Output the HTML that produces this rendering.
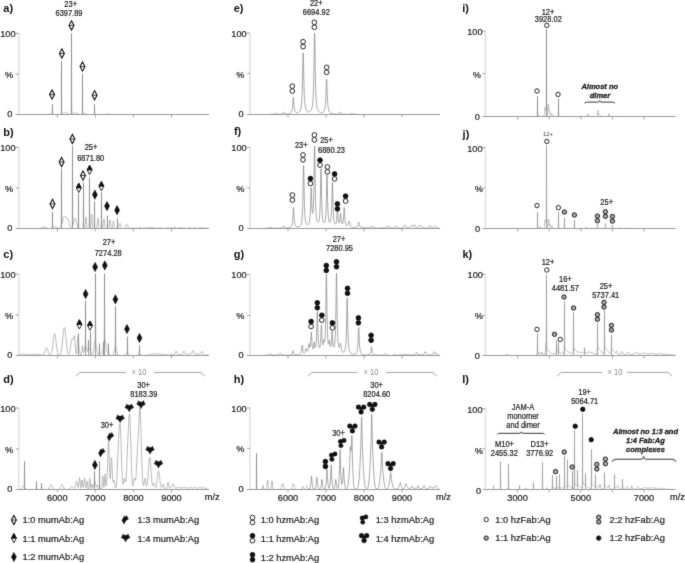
<!DOCTYPE html>
<html><head><meta charset="utf-8"><style>
html,body{margin:0;padding:0;background:#fff;}
svg{display:block;font-family:"Liberation Sans", sans-serif;will-change:transform;}
</style></head><body>
<svg width="685" height="563" viewBox="0 0 685 563">
<defs><filter id="bl" x="0" y="0" width="685" height="563" filterUnits="userSpaceOnUse" color-interpolation-filters="sRGB"><feConvolveMatrix order="3" kernelMatrix="0.0183 0.1353 0.0183 0.1353 1 0.1353 0.0183 0.1353 0.0183" divisor="1.6145" edgeMode="duplicate"/></filter></defs>
<g filter="url(#bl)">
<rect width="685" height="563" fill="#fff"/>
<line x1="18.80" y1="33.40" x2="18.80" y2="114.50" stroke="#e3e3e3" stroke-width="1.6"/>
<line x1="15.80" y1="33.40" x2="18.80" y2="33.40" stroke="#9a9a9a" stroke-width="0.9"/>
<line x1="15.80" y1="74.10" x2="18.80" y2="74.10" stroke="#9a9a9a" stroke-width="0.9"/>
<line x1="15.80" y1="114.50" x2="209.00" y2="114.50" stroke="#9c9c9c" stroke-width="1.0"/>
<line x1="57.30" y1="114.50" x2="57.30" y2="117.50" stroke="#9a9a9a" stroke-width="0.9"/>
<line x1="95.30" y1="114.50" x2="95.30" y2="117.50" stroke="#9a9a9a" stroke-width="0.9"/>
<line x1="133.40" y1="114.50" x2="133.40" y2="117.50" stroke="#9a9a9a" stroke-width="0.9"/>
<line x1="171.50" y1="114.50" x2="171.50" y2="117.50" stroke="#9a9a9a" stroke-width="0.9"/>
<text x="15.50" y="37.10" font-size="9.2" text-anchor="end" font-weight="normal" font-style="normal" fill="#1e1e1e" stroke="#1e1e1e" stroke-width="0.22">100</text>
<text x="13.10" y="78.00" font-size="9.2" text-anchor="end" font-weight="normal" font-style="normal" fill="#1e1e1e" stroke="#1e1e1e" stroke-width="0.22">%</text>
<text x="12.40" y="117.40" font-size="9.2" text-anchor="end" font-weight="normal" font-style="normal" fill="#1e1e1e" stroke="#1e1e1e" stroke-width="0.22">0</text>
<text x="3.30" y="11.60" font-size="11" text-anchor="start" font-weight="bold" font-style="normal" fill="#111">a)</text>
<polyline fill="none" stroke="#a0a0a0" stroke-width="0.75" stroke-linejoin="round" points="46.80,114.41 47.05,114.37 47.20,114.34 47.30,114.32 47.55,114.26 47.80,114.20 48.05,114.13 48.30,114.08 48.40,114.06 48.55,114.03 48.80,114.01 49.00,114.00 49.05,114.00 49.30,114.02 49.55,114.05 49.60,114.06 49.80,114.10 50.05,114.16 50.20,114.20 50.30,114.22 50.55,114.28 50.80,114.34 51.05,114.38"/>
<polyline fill="none" stroke="#a0a0a0" stroke-width="0.75" stroke-linejoin="round" points="52.05,114.48 52.20,114.37 52.30,113.11 52.35,111.18 52.40,108.31 52.45,105.50 52.50,104.30 52.55,105.50 52.60,108.31 52.65,111.19 52.70,113.12 52.80,114.38"/>
<polyline fill="none" stroke="#a0a0a0" stroke-width="0.75" stroke-linejoin="round" points="60.55,114.40 60.80,114.35 61.05,114.28 61.20,113.65 61.30,107.08 61.35,97.10 61.40,82.25 61.45,67.70 61.50,61.50 61.55,67.66 61.60,82.16 61.65,96.97 61.70,106.91 61.80,113.39 62.05,113.82 62.10,113.79 62.30,113.65 62.55,113.46 62.80,113.26 62.90,113.17 63.05,113.05 63.30,112.85 63.55,112.67 63.70,112.57 63.80,112.51 64.05,112.39 64.30,112.32 64.50,112.30 64.55,112.30 64.80,112.32 65.05,112.38 65.30,112.47 65.50,112.55 65.55,112.57 65.80,112.66 66.00,112.73 66.05,112.74 66.10,112.75 66.30,112.79 66.50,112.82 66.55,112.82 66.80,112.84 66.90,112.85 67.00,112.86 67.05,112.87 67.30,112.93 67.50,113.00 67.55,113.02 67.70,113.10 67.80,113.17 68.00,113.31 68.05,113.35 68.30,113.55 68.50,113.72 68.55,113.76 68.80,113.96 69.00,114.09 69.05,114.12 69.30,114.25 69.50,114.32 69.55,114.34 69.80,114.40"/>
<polyline fill="none" stroke="#a0a0a0" stroke-width="0.75" stroke-linejoin="round" points="70.80,114.40 71.05,114.36 71.20,113.43 71.30,103.34 71.35,87.98 71.40,65.12 71.45,42.74 71.50,33.20 71.55,42.71 71.60,65.05 71.65,87.88 71.70,103.20 71.80,113.23 72.05,114.00 72.25,113.89 72.30,113.86 72.55,113.69 72.80,113.51 73.00,113.35 73.05,113.32 73.30,113.13 73.55,112.95 73.75,112.83 73.80,112.81 74.05,112.69 74.30,112.62 74.50,112.60 74.55,112.60 74.80,112.62 75.05,112.68 75.25,112.75 75.30,112.77 75.50,112.85 75.55,112.87 75.80,112.96 76.00,113.02 76.05,113.03 76.30,113.07 76.50,113.09 76.55,113.09 76.75,113.10 76.80,113.10 77.00,113.11 77.05,113.11 77.30,113.15 77.50,113.20 77.55,113.22 77.80,113.33 78.00,113.45 78.05,113.49 78.30,113.67 78.50,113.81 78.55,113.85 78.80,114.02 79.00,114.14 79.05,114.17 79.30,114.28 79.50,114.35 79.55,114.37 79.80,114.42"/>
<polyline fill="none" stroke="#a0a0a0" stroke-width="0.75" stroke-linejoin="round" points="82.05,114.44 82.20,113.97 82.30,108.87 82.35,101.13 82.40,89.60 82.45,78.31 82.50,73.50 82.55,78.29 82.60,89.55 82.65,101.06 82.70,108.78 82.80,113.82 83.05,114.18 83.20,114.11 83.30,114.06 83.55,113.92 83.80,113.77 84.05,113.62 84.30,113.49 84.40,113.44 84.55,113.38 84.80,113.32 85.00,113.30 85.05,113.30 85.30,113.34 85.55,113.42 85.60,113.44 85.80,113.54 86.05,113.68 86.20,113.77 86.30,113.83 86.55,113.98 86.80,114.11 87.05,114.22 87.30,114.31 87.40,114.34 87.55,114.37 87.80,114.42"/>
<polyline fill="none" stroke="#a0a0a0" stroke-width="0.75" stroke-linejoin="round" points="94.20,114.39 94.30,113.12 94.35,111.19 94.40,108.31 94.45,105.50 94.50,104.30 94.55,105.50 94.60,108.31 94.65,111.19 94.70,113.12 94.80,114.39"/>
<polyline fill="none" stroke="#a0a0a0" stroke-width="0.75" stroke-linejoin="round" points="107.00,114.39 107.05,114.37 107.30,114.24 107.55,114.06 107.60,114.01 107.80,113.86 107.90,113.79 108.05,113.72 108.20,113.70 108.30,113.71 108.50,113.79 108.55,113.83 108.80,114.01 109.05,114.21 109.10,114.24 109.30,114.35 109.40,114.39"/>
<polyline fill="none" stroke="#a0a0a0" stroke-width="0.75" stroke-linejoin="round" points="120.10,114.40 120.30,114.35 120.40,114.32 120.55,114.27 120.70,114.24 120.80,114.22 121.00,114.20 121.05,114.20 121.30,114.24 121.55,114.30 121.60,114.32 121.80,114.38 121.90,114.40"/>
<polyline fill="none" stroke="#a0a0a0" stroke-width="0.75" stroke-linejoin="round" points="159.05,114.40 159.20,114.38 159.30,114.36 159.55,114.33 159.60,114.32 159.80,114.31 160.00,114.30 160.05,114.30 160.30,114.31 160.40,114.32 160.55,114.34 160.80,114.38 161.05,114.42"/>
<line x1="52.50" y1="104.80" x2="52.50" y2="114.50" stroke="#929292" stroke-width="0.9"/>
<line x1="61.50" y1="62.00" x2="61.50" y2="114.50" stroke="#929292" stroke-width="0.9"/>
<line x1="71.50" y1="33.70" x2="71.50" y2="114.50" stroke="#929292" stroke-width="0.9"/>
<line x1="82.50" y1="74.00" x2="82.50" y2="114.50" stroke="#929292" stroke-width="0.9"/>
<line x1="94.50" y1="104.80" x2="94.50" y2="114.50" stroke="#929292" stroke-width="0.9"/>
<path d="M52.10,90.00 L54.55,94.60 L52.10,99.20 L49.65,94.60 Z" fill="#fff" stroke="#111" stroke-width="1.1"/>
<line x1="49.65" y1="94.60" x2="54.55" y2="94.60" stroke="#111" stroke-width="0.8"/>
<path d="M61.90,48.80 L64.35,53.40 L61.90,58.00 L59.45,53.40 Z" fill="#fff" stroke="#111" stroke-width="1.1"/>
<line x1="59.45" y1="53.40" x2="64.35" y2="53.40" stroke="#111" stroke-width="0.8"/>
<path d="M71.50,20.80 L73.95,25.40 L71.50,30.00 L69.05,25.40 Z" fill="#fff" stroke="#111" stroke-width="1.1"/>
<line x1="69.05" y1="25.40" x2="73.95" y2="25.40" stroke="#111" stroke-width="0.8"/>
<path d="M82.50,62.00 L84.95,66.60 L82.50,71.20 L80.05,66.60 Z" fill="#fff" stroke="#111" stroke-width="1.1"/>
<line x1="80.05" y1="66.60" x2="84.95" y2="66.60" stroke="#111" stroke-width="0.8"/>
<path d="M94.60,90.60 L97.05,95.20 L94.60,99.80 L92.15,95.20 Z" fill="#fff" stroke="#111" stroke-width="1.1"/>
<line x1="92.15" y1="95.20" x2="97.05" y2="95.20" stroke="#111" stroke-width="0.8"/>
<text transform="translate(70.70,6.70) scale(0.915,1)" font-size="8.2" text-anchor="middle" font-weight="normal" font-style="normal" fill="#1e1e1e" stroke="#1e1e1e" stroke-width="0.22">23+</text>
<text transform="translate(69.00,15.60) scale(0.915,1)" font-size="8.2" text-anchor="middle" font-weight="normal" font-style="normal" fill="#1e1e1e" stroke="#1e1e1e" stroke-width="0.22">6397.89</text>
<line x1="18.80" y1="147.40" x2="18.80" y2="228.50" stroke="#e3e3e3" stroke-width="1.6"/>
<line x1="15.80" y1="147.40" x2="18.80" y2="147.40" stroke="#9a9a9a" stroke-width="0.9"/>
<line x1="15.80" y1="188.00" x2="18.80" y2="188.00" stroke="#9a9a9a" stroke-width="0.9"/>
<line x1="15.80" y1="228.50" x2="209.00" y2="228.50" stroke="#9c9c9c" stroke-width="1.0"/>
<line x1="57.30" y1="228.50" x2="57.30" y2="231.50" stroke="#9a9a9a" stroke-width="0.9"/>
<line x1="95.30" y1="228.50" x2="95.30" y2="231.50" stroke="#9a9a9a" stroke-width="0.9"/>
<line x1="133.40" y1="228.50" x2="133.40" y2="231.50" stroke="#9a9a9a" stroke-width="0.9"/>
<line x1="171.50" y1="228.50" x2="171.50" y2="231.50" stroke="#9a9a9a" stroke-width="0.9"/>
<text x="15.50" y="151.10" font-size="9.2" text-anchor="end" font-weight="normal" font-style="normal" fill="#1e1e1e" stroke="#1e1e1e" stroke-width="0.22">100</text>
<text x="13.10" y="191.90" font-size="9.2" text-anchor="end" font-weight="normal" font-style="normal" fill="#1e1e1e" stroke="#1e1e1e" stroke-width="0.22">%</text>
<text x="12.40" y="231.40" font-size="9.2" text-anchor="end" font-weight="normal" font-style="normal" fill="#1e1e1e" stroke="#1e1e1e" stroke-width="0.22">0</text>
<text x="3.30" y="135.70" font-size="11" text-anchor="start" font-weight="bold" font-style="normal" fill="#111">b)</text>
<polyline fill="none" stroke="#a0a0a0" stroke-width="0.75" stroke-linejoin="round" points="39.30,228.41 39.55,228.37 39.80,228.33 40.00,228.30 40.05,228.29 40.30,228.23 40.55,228.16 40.80,228.08 41.00,228.01 41.05,227.99 41.30,227.90 41.55,227.79 41.80,227.68 42.00,227.59 42.05,227.57 42.30,227.45 42.55,227.35 42.80,227.25 43.00,227.18 43.05,227.16 43.30,227.09 43.55,227.04 43.80,227.01 44.00,227.00 44.05,227.00 44.30,227.02 44.55,227.06 44.80,227.12 45.00,227.18 45.05,227.19 45.30,227.29 45.55,227.39 45.80,227.50 46.00,227.59 46.05,227.61 46.30,227.73 46.55,227.83 46.80,227.94 47.00,228.01 47.05,228.03 47.30,228.12 47.55,228.19 47.80,228.25 48.00,228.30 48.05,228.31 48.30,228.35 48.55,228.39"/>
<polyline fill="none" stroke="#a0a0a0" stroke-width="0.75" stroke-linejoin="round" points="51.30,228.40 51.55,228.36 51.80,228.29 52.00,228.23 52.05,228.21 52.20,227.97 52.30,225.94 52.35,222.88 52.40,218.35 52.45,213.91 52.50,212.00 52.55,213.85 52.60,218.24 52.65,222.72 52.70,225.72 52.75,227.15 52.80,227.64 53.05,227.64 53.30,227.45 53.50,227.29 53.55,227.25 53.80,227.05 54.05,226.86 54.25,226.74 54.30,226.71 54.55,226.59 54.80,226.52 55.00,226.50 55.05,226.50 55.30,226.54 55.55,226.63 55.75,226.73 55.80,226.77 56.05,226.93 56.30,227.13 56.50,227.29 56.55,227.33 56.80,227.53 57.05,227.71 57.25,227.85 57.30,227.88 57.55,228.02 57.80,228.14 58.00,228.21 58.05,228.23 58.30,228.29 58.55,228.33 58.80,228.34 59.05,228.32 59.10,228.31 59.30,228.28 59.50,228.22 59.55,228.20 59.80,228.08 60.05,227.91 60.30,227.68 60.55,227.38 60.80,227.00 60.90,226.82 61.05,226.52 61.20,225.56 61.30,218.25 61.35,207.34 61.40,191.17 61.45,175.33 61.50,168.50 61.55,175.04 61.60,190.60 61.65,206.49 61.70,217.10 61.80,223.84 62.05,223.59 62.30,222.63 62.55,221.61 62.70,220.98 62.80,220.57 63.05,219.54 63.30,218.57 63.55,217.71 63.60,217.56 63.80,216.99 64.05,216.46 64.30,216.12 64.40,216.04 64.50,216.00 64.55,215.99 64.80,216.06 65.05,216.30 65.30,216.67 65.40,216.83 65.55,217.10 65.60,217.19 65.80,217.53 66.05,217.91 66.20,218.09 66.30,218.19 66.55,218.35 66.80,218.40 67.05,218.38 67.20,218.37 67.30,218.37 67.40,218.38 67.55,218.44 67.80,218.67 68.00,219.00 68.05,219.11 68.10,219.22 68.30,219.77 68.55,220.65 68.60,220.84 68.80,221.68 69.05,222.79 69.20,223.46 69.30,223.90 69.55,224.94 69.80,225.86 69.90,226.18 70.05,226.61 70.30,227.20 70.40,227.39 70.55,227.63 70.80,227.91 71.05,228.08 71.10,228.10 71.30,228.13 71.55,228.09 71.60,228.07 71.80,227.94 72.05,227.67 72.20,226.55 72.30,216.33 72.35,200.93 72.40,178.04 72.45,155.62 72.50,146.00 72.55,155.37 72.60,177.55 72.65,200.20 72.70,215.36 72.80,225.09 73.05,225.09 73.30,224.03 73.55,222.86 73.70,222.13 73.80,221.64 74.05,220.46 74.30,219.42 74.35,219.23 74.55,218.61 74.80,218.12 75.00,218.00 75.05,218.01 75.30,218.28 75.55,218.90 75.65,219.23 75.80,219.81 76.05,220.92 76.30,222.13 76.55,223.34 76.80,224.47 76.95,225.09 77.05,225.47 77.30,226.30 77.55,226.97 77.60,227.08 77.80,227.47 78.05,227.83 78.20,227.61 78.30,223.37 78.35,216.82 78.40,207.04 78.45,197.46 78.50,193.40 78.55,197.52 78.60,207.15 78.65,216.99 78.70,223.60 78.80,227.97 78.90,228.37 79.05,228.42"/>
<polyline fill="none" stroke="#a0a0a0" stroke-width="0.75" stroke-linejoin="round" points="83.05,228.50 83.20,227.99 83.30,222.27 83.35,213.57 83.40,200.60 83.45,187.91 83.50,182.50 83.55,187.91 83.60,200.60 83.65,213.57 83.70,222.27 83.80,227.99 84.05,228.49 84.30,228.46 84.50,228.37 84.55,228.33 84.80,227.85 85.00,226.94 85.05,226.61 85.25,224.77 85.30,224.18 85.50,221.52 85.55,220.83 85.75,218.35 85.80,217.88 86.00,217.00 86.05,217.06 86.25,218.35 86.30,218.89 86.50,221.52 86.55,222.22 86.75,224.77 86.80,225.30 87.00,226.94 87.05,227.23 87.30,228.11 87.50,228.37 87.55,228.41"/>
<polyline fill="none" stroke="#a0a0a0" stroke-width="0.75" stroke-linejoin="round" points="89.05,228.50 89.20,227.93 89.30,221.60 89.35,211.94 89.40,197.57 89.45,183.49 89.50,177.50 89.55,183.49 89.60,197.56 89.65,211.94 89.70,221.59 89.80,227.91 90.05,228.38 90.10,228.34 90.30,228.01 90.55,226.90 90.60,226.54 90.80,224.47 90.85,223.79 91.05,220.58 91.10,219.71 91.30,216.39 91.35,215.70 91.55,214.07 91.60,214.00 91.80,215.11 91.85,215.70 92.05,218.83 92.10,219.71 92.30,223.06 92.35,223.79 92.55,226.12 92.60,226.54 92.80,227.69 93.05,228.28 93.10,228.34 93.30,228.46"/>
<polyline fill="none" stroke="#a0a0a0" stroke-width="0.75" stroke-linejoin="round" points="94.05,228.50 94.20,228.20 94.30,224.82 94.35,219.67 94.40,212.00 94.45,204.50 94.50,201.30 94.55,204.50 94.60,212.00 94.65,219.67 94.70,224.82 94.80,228.20 95.05,228.50"/>
<polyline fill="none" stroke="#a0a0a0" stroke-width="0.75" stroke-linejoin="round" points="96.20,228.38 96.30,228.31 96.55,227.93 96.80,227.08 97.05,225.50 97.10,225.09 97.30,223.18 97.40,222.13 97.55,220.57 97.70,219.23 97.80,218.57 98.00,218.00 98.05,218.04 98.30,219.23 98.55,221.60 98.60,222.13 98.80,224.18 98.90,225.09 99.05,226.23 99.20,227.08 99.30,227.50 99.55,228.13 99.80,228.38"/>
<polyline fill="none" stroke="#a0a0a0" stroke-width="0.75" stroke-linejoin="round" points="101.05,228.50 101.20,228.09 101.30,223.56 101.35,216.65 101.40,206.36 101.45,196.29 101.50,192.00 101.55,196.29 101.60,206.36 101.65,216.65 101.70,223.55 101.80,228.08 102.05,228.45 102.20,228.39 102.30,228.33 102.55,227.99 102.80,227.21 103.05,225.79 103.10,225.42 103.30,223.69 103.40,222.74 103.55,221.33 103.70,220.12 103.80,219.51 104.00,219.00 104.05,219.03 104.30,220.12 104.55,222.26 104.60,222.74 104.80,224.59 104.90,225.42 105.05,226.45 105.20,227.21 105.30,227.59 105.55,228.16 105.80,228.39"/>
<polyline fill="none" stroke="#a0a0a0" stroke-width="0.75" stroke-linejoin="round" points="107.05,228.50 107.20,228.36 107.30,226.77 107.35,224.34 107.40,220.74 107.45,217.20 107.50,215.70 107.55,217.20 107.60,220.73 107.65,224.34 107.70,226.76 107.80,228.35 108.05,228.46 108.20,228.41 108.30,228.35 108.55,228.04 108.80,227.35 109.05,226.07 109.10,225.74 109.30,224.20 109.40,223.34 109.55,222.08 109.70,221.00 109.80,220.46 110.00,220.00 110.05,220.03 110.30,221.00 110.55,222.92 110.60,223.34 110.80,225.01 110.90,225.74 111.05,226.66 111.20,227.34 111.30,227.68 111.55,228.16 111.70,228.26 111.80,228.27 112.05,228.07 112.30,227.48 112.55,226.36 112.60,226.06 112.80,224.70 112.90,223.95 113.05,222.84 113.20,221.88 113.30,221.41 113.50,221.00 113.55,221.03 113.80,221.88 114.05,223.57 114.10,223.95 114.30,225.42 114.40,226.07 114.55,226.88 114.70,227.48 114.80,227.78 115.05,228.23 115.30,228.42"/>
<polyline fill="none" stroke="#a0a0a0" stroke-width="0.75" stroke-linejoin="round" points="117.05,228.49 117.20,228.38 117.30,227.12 117.35,225.21 117.40,222.37 117.45,219.59 117.50,218.40 117.55,219.57 117.60,222.34 117.65,225.17 117.70,227.06 117.80,228.27 118.05,228.24 118.30,227.98 118.40,227.82 118.55,227.53 118.80,226.88 119.05,226.03 119.20,225.47 119.30,225.09 119.55,224.23 119.60,224.09 119.80,223.65 120.00,223.50 120.05,223.51 120.30,223.84 120.40,224.09 120.55,224.55 120.80,225.47 121.05,226.39 121.20,226.88 121.30,227.16 121.55,227.73 121.60,227.82 121.80,228.10 122.05,228.31 122.30,228.42"/>
<polyline fill="none" stroke="#a0a0a0" stroke-width="0.75" stroke-linejoin="round" points="124.30,228.39 124.55,228.28 124.80,228.09 124.90,227.99 125.00,227.86 125.05,227.79 125.30,227.33 125.35,227.22 125.55,226.74 125.80,226.07 126.05,225.39 126.25,224.92 126.30,224.82 126.55,224.46 126.60,224.42 126.70,224.38 126.80,224.38 127.05,224.61 127.15,224.78 127.30,225.10 127.40,225.34 127.55,225.73 127.60,225.86 127.80,226.37 128.05,226.95 128.20,227.24 128.30,227.40 128.50,227.67 128.55,227.72 128.80,227.92 129.00,228.02 129.05,228.04 129.30,228.10 129.40,228.12 129.55,228.13 129.80,228.14 130.05,228.15 130.30,228.16 130.55,228.17 130.60,228.17 130.80,228.18 131.05,228.19 131.30,228.19 131.40,228.19 131.55,228.19 131.80,228.15 132.05,228.10 132.20,228.07 132.30,228.04 132.55,227.99 132.80,227.95 133.00,227.94 133.05,227.94 133.30,227.98 133.55,228.05 133.80,228.14 134.05,228.24 134.30,228.31 134.55,228.34 134.60,228.34 134.80,228.33 135.05,228.27 135.30,228.19 135.40,228.15 135.55,228.10 135.80,228.02 136.05,227.97 136.20,227.96 136.30,227.97 136.55,228.03 136.80,228.15 137.00,228.27 137.05,228.30 137.30,228.42"/>
<polyline fill="none" stroke="#a0a0a0" stroke-width="0.75" stroke-linejoin="round" points="138.05,228.42 138.30,228.29 138.50,228.15 138.55,228.11 138.60,228.07 138.80,227.90 139.00,227.73 139.05,227.69 139.30,227.52 139.40,227.46 139.50,227.42 139.55,227.39 139.80,227.31 140.00,227.29 140.05,227.29 140.20,227.30 140.30,227.32 140.50,227.39 140.55,227.41 140.80,227.54 141.00,227.66 141.05,227.69 141.30,227.85 141.50,227.98 141.55,228.02 141.80,228.16 142.00,228.26 142.05,228.28 142.30,228.37 142.55,228.42"/>
<polyline fill="none" stroke="#a0a0a0" stroke-width="0.75" stroke-linejoin="round" points="142.80,228.42 143.00,228.36 143.05,228.34 143.30,228.21 143.40,228.15 143.55,228.07 143.80,227.94 144.05,227.87 144.20,227.86 144.30,227.86 144.55,227.91 144.80,227.99 145.00,228.07 145.05,228.09 145.30,228.19 145.55,228.26 145.80,228.29 146.05,228.26 146.30,228.18 146.55,228.07 146.60,228.05 146.80,227.95 147.00,227.87 147.05,227.86 147.30,227.80 147.40,227.79 147.55,227.77 147.80,227.72 148.00,227.66 148.05,227.65 148.20,227.59 148.30,227.55 148.50,227.45 148.55,227.43 148.80,227.31 149.00,227.22 149.05,227.20 149.30,227.16 149.50,227.18 149.55,227.20 149.80,227.31 150.00,227.43 150.05,227.46 150.30,227.62 150.50,227.72 150.55,227.74 150.60,227.76 150.80,227.81 151.00,227.83 151.05,227.83 151.30,227.79 151.40,227.76 151.50,227.74 151.55,227.72 151.80,227.66 152.00,227.64 152.05,227.63 152.20,227.64 152.30,227.66 152.55,227.69 152.80,227.72 153.00,227.74 153.05,227.75 153.30,227.77 153.55,227.79 153.80,227.79 154.05,227.80 154.30,227.82 154.55,227.86 154.60,227.86 154.80,227.89 155.05,227.92 155.30,227.93 155.40,227.93 155.55,227.95 155.80,228.03 156.05,228.16 156.20,228.25 156.30,228.32 156.55,228.46"/>
<polyline fill="none" stroke="#a0a0a0" stroke-width="0.75" stroke-linejoin="round" points="157.55,228.46 157.80,228.36 158.05,228.26 158.30,228.18 158.55,228.14 158.60,228.14 158.80,228.14 159.05,228.11 159.30,228.07 159.40,228.06 159.55,228.03 159.80,228.00 160.05,227.98 160.20,227.97 160.30,227.98 160.55,228.01 160.80,228.08 161.00,228.14 161.05,228.15 161.30,228.23 161.55,228.28 161.80,228.30 162.05,228.31 162.30,228.32 162.55,228.34 162.60,228.34 162.80,228.35 163.05,228.37 163.30,228.37 163.40,228.38 163.55,228.37 163.80,228.36 164.05,228.35 164.20,228.33 164.30,228.32 164.55,228.31 164.80,228.29 165.00,228.29 165.05,228.29 165.30,228.29 165.55,228.30 165.80,228.32 166.05,228.33 166.30,228.34 166.55,228.34 166.60,228.34 166.80,228.32 167.05,228.24 167.30,228.13 167.40,228.08 167.55,228.00 167.80,227.89 168.05,227.82 168.20,227.81 168.30,227.82 168.55,227.86 168.80,227.95 169.00,228.03 169.05,228.05 169.30,228.15 169.55,228.23 169.80,228.25 170.05,228.25 170.30,228.24 170.55,228.22 170.60,228.21 170.80,228.20 171.05,228.19 171.30,228.18 171.40,228.18 171.55,228.17 171.80,228.14 172.00,228.10 172.05,228.09 172.20,228.05 172.30,228.02 172.55,227.96 172.80,227.89 173.00,227.85 173.05,227.84 173.30,227.74 173.50,227.63 173.55,227.60 173.80,227.41 174.00,227.26 174.05,227.22 174.30,227.05 174.50,226.95 174.55,226.93 174.60,226.91 174.80,226.89 175.00,226.95 175.05,226.97 175.30,227.15 175.40,227.24 175.50,227.34 175.55,227.39 175.80,227.63 176.00,227.80 176.05,227.83 176.20,227.92 176.30,227.97 176.50,228.07 176.55,228.09 176.80,228.23 177.00,228.32 177.05,228.35 177.30,228.44"/>
<polyline fill="none" stroke="#a0a0a0" stroke-width="0.75" stroke-linejoin="round" points="178.05,228.49 178.30,228.35 178.55,228.14 178.60,228.09 178.80,227.91 179.05,227.73 179.30,227.63 179.40,227.63 179.55,227.63 179.80,227.65 180.05,227.68 180.20,227.70 180.30,227.71 180.55,227.74 180.80,227.76 181.00,227.77 181.05,227.77 181.30,227.77 181.55,227.78 181.80,227.79 182.05,227.80 182.30,227.81 182.55,227.81 182.60,227.81 182.80,227.82 183.05,227.86 183.30,227.92 183.40,227.94 183.55,227.98 183.80,228.04 184.05,228.07 184.20,228.08 184.30,228.08 184.55,228.11 184.80,228.17 185.00,228.22 185.05,228.24 185.30,228.30 185.55,228.35 185.80,228.37 186.05,228.37 186.30,228.38"/>
<polyline fill="none" stroke="#a0a0a0" stroke-width="0.75" stroke-linejoin="round" points="187.55,228.40 187.80,228.35 188.00,228.29 188.05,228.27 188.20,228.21 188.30,228.17 188.50,228.07 188.55,228.04 188.80,227.91 189.00,227.81 189.05,227.79 189.30,227.66 189.50,227.55 189.55,227.53 189.80,227.43 190.00,227.39 190.05,227.38 190.30,227.39 190.50,227.43 190.55,227.45 190.60,227.47 190.80,227.57 191.00,227.71 191.05,227.75 191.30,227.95 191.40,228.04 191.50,228.12 191.55,228.15 191.80,228.32 192.00,228.41"/>
<polyline fill="none" stroke="#a0a0a0" stroke-width="0.75" stroke-linejoin="round" points="192.55,228.43 192.80,228.32 193.00,228.21 193.05,228.18 193.30,228.04 193.55,227.94 193.80,227.90 194.05,227.90 194.30,227.89 194.55,227.89 194.60,227.89 194.80,227.88 195.05,227.88 195.30,227.87 195.40,227.87 195.55,227.89 195.80,227.98 196.05,228.13 196.20,228.23 196.30,228.30 196.55,228.46"/>
<polyline fill="none" stroke="#a0a0a0" stroke-width="0.75" stroke-linejoin="round" points="197.30,228.52 197.55,228.37 197.80,228.17 198.05,227.98 198.30,227.83 198.55,227.76 198.60,227.76 198.80,227.77 199.05,227.82 199.30,227.90 199.40,227.93 199.55,227.98 199.80,228.06 200.05,228.10 200.20,228.11 200.30,228.10 200.55,228.06 200.80,227.98 201.00,227.89 201.05,227.87 201.30,227.78 201.55,227.71 201.80,227.68 202.05,227.71 202.30,227.78 202.55,227.88 202.60,227.90 202.80,227.99 203.05,228.07 203.30,228.12 203.40,228.12 203.55,228.12 203.80,228.08 204.05,228.01 204.20,227.96 204.30,227.93 204.55,227.86 204.80,227.82 205.00,227.80 205.05,227.81 205.30,227.83 205.55,227.89 205.80,227.97 206.05,228.07 206.30,228.17 206.55,228.24 206.60,228.25 206.80,228.28 207.05,228.32 207.30,228.35 207.40,228.37 207.55,228.40"/>
<line x1="52.50" y1="212.50" x2="52.50" y2="228.50" stroke="#929292" stroke-width="0.9"/>
<line x1="61.50" y1="169.00" x2="61.50" y2="228.50" stroke="#929292" stroke-width="0.9"/>
<line x1="72.50" y1="146.50" x2="72.50" y2="228.50" stroke="#929292" stroke-width="0.9"/>
<line x1="78.50" y1="193.90" x2="78.50" y2="228.50" stroke="#929292" stroke-width="0.9"/>
<line x1="83.50" y1="183.00" x2="83.50" y2="228.50" stroke="#929292" stroke-width="0.9"/>
<line x1="89.50" y1="178.00" x2="89.50" y2="228.50" stroke="#929292" stroke-width="0.9"/>
<line x1="94.50" y1="201.80" x2="94.50" y2="228.50" stroke="#929292" stroke-width="0.9"/>
<line x1="101.50" y1="192.50" x2="101.50" y2="228.50" stroke="#929292" stroke-width="0.9"/>
<line x1="107.50" y1="216.20" x2="107.50" y2="228.50" stroke="#929292" stroke-width="0.9"/>
<line x1="117.50" y1="218.90" x2="117.50" y2="228.50" stroke="#929292" stroke-width="0.9"/>
<path d="M52.50,199.30 L54.95,203.90 L52.50,208.50 L50.05,203.90 Z" fill="#fff" stroke="#111" stroke-width="1.1"/>
<line x1="50.05" y1="203.90" x2="54.95" y2="203.90" stroke="#111" stroke-width="0.8"/>
<path d="M61.60,157.40 L64.05,162.00 L61.60,166.60 L59.15,162.00 Z" fill="#fff" stroke="#111" stroke-width="1.1"/>
<line x1="59.15" y1="162.00" x2="64.05" y2="162.00" stroke="#111" stroke-width="0.8"/>
<path d="M72.40,134.40 L74.85,139.00 L72.40,143.60 L69.95,139.00 Z" fill="#fff" stroke="#111" stroke-width="1.1"/>
<line x1="69.95" y1="139.00" x2="74.85" y2="139.00" stroke="#111" stroke-width="0.8"/>
<path d="M83.00,171.00 L85.45,175.60 L83.00,180.20 L80.55,175.60 Z" fill="#fff" stroke="#111" stroke-width="1.1"/>
<line x1="80.55" y1="175.60" x2="85.45" y2="175.60" stroke="#111" stroke-width="0.8"/>
<path d="M78.80,183.30 L81.25,187.90 L78.80,192.50 L76.35,187.90 Z" fill="#fff" stroke="#111" stroke-width="0.9"/>
<path d="M78.80,183.30 L81.25,187.90 L76.35,187.90 Z" fill="#111" stroke="#111" stroke-width="0.9"/>
<path d="M89.60,165.40 L92.05,170.00 L89.60,174.60 L87.15,170.00 Z" fill="#fff" stroke="#111" stroke-width="0.9"/>
<path d="M89.60,165.40 L92.05,170.00 L87.15,170.00 Z" fill="#111" stroke="#111" stroke-width="0.9"/>
<path d="M101.40,181.60 L103.85,186.20 L101.40,190.80 L98.95,186.20 Z" fill="#fff" stroke="#111" stroke-width="0.9"/>
<path d="M101.40,181.60 L103.85,186.20 L98.95,186.20 Z" fill="#111" stroke="#111" stroke-width="0.9"/>
<path d="M94.90,190.10 L97.35,194.70 L94.90,199.30 L92.45,194.70 Z" fill="#111" stroke="#111" stroke-width="0.6"/>
<path d="M107.00,201.50 L109.45,206.10 L107.00,210.70 L104.55,206.10 Z" fill="#111" stroke="#111" stroke-width="0.6"/>
<path d="M117.10,205.60 L119.55,210.20 L117.10,214.80 L114.65,210.20 Z" fill="#111" stroke="#111" stroke-width="0.6"/>
<text transform="translate(91.00,149.80) scale(0.915,1)" font-size="8.2" text-anchor="middle" font-weight="normal" font-style="normal" fill="#1e1e1e" stroke="#1e1e1e" stroke-width="0.22">25+</text>
<text transform="translate(90.70,161.20) scale(0.915,1)" font-size="8.2" text-anchor="middle" font-weight="normal" font-style="normal" fill="#1e1e1e" stroke="#1e1e1e" stroke-width="0.22">6871.80</text>
<line x1="18.80" y1="274.00" x2="18.80" y2="355.50" stroke="#e3e3e3" stroke-width="1.6"/>
<line x1="15.80" y1="274.00" x2="18.80" y2="274.00" stroke="#9a9a9a" stroke-width="0.9"/>
<line x1="15.80" y1="315.00" x2="18.80" y2="315.00" stroke="#9a9a9a" stroke-width="0.9"/>
<line x1="15.80" y1="355.50" x2="209.00" y2="355.50" stroke="#9c9c9c" stroke-width="1.0"/>
<line x1="57.30" y1="355.50" x2="57.30" y2="358.50" stroke="#9a9a9a" stroke-width="0.9"/>
<line x1="95.30" y1="355.50" x2="95.30" y2="358.50" stroke="#9a9a9a" stroke-width="0.9"/>
<line x1="133.40" y1="355.50" x2="133.40" y2="358.50" stroke="#9a9a9a" stroke-width="0.9"/>
<line x1="171.50" y1="355.50" x2="171.50" y2="358.50" stroke="#9a9a9a" stroke-width="0.9"/>
<text x="15.50" y="277.70" font-size="9.2" text-anchor="end" font-weight="normal" font-style="normal" fill="#1e1e1e" stroke="#1e1e1e" stroke-width="0.22">100</text>
<text x="13.10" y="318.90" font-size="9.2" text-anchor="end" font-weight="normal" font-style="normal" fill="#1e1e1e" stroke="#1e1e1e" stroke-width="0.22">%</text>
<text x="12.40" y="358.40" font-size="9.2" text-anchor="end" font-weight="normal" font-style="normal" fill="#1e1e1e" stroke="#1e1e1e" stroke-width="0.22">0</text>
<text x="3.30" y="258.40" font-size="11" text-anchor="start" font-weight="bold" font-style="normal" fill="#111">c)</text>
<polyline fill="none" stroke="#a0a0a0" stroke-width="0.75" stroke-linejoin="round" points="18.80,354.64 19.00,354.59 19.05,354.58 19.30,354.53 19.55,354.47 19.80,354.42 20.05,354.36 20.30,354.31 20.55,354.26 20.80,354.22 21.00,354.18 21.05,354.17 21.30,354.13 21.55,354.10 21.80,354.07 22.05,354.05 22.30,354.03 22.55,354.01 22.80,354.00 23.00,354.00 23.05,354.00 23.30,354.00 23.55,354.01 23.80,354.02 24.00,354.04 24.05,354.04 24.30,354.07 24.55,354.09 24.80,354.12 25.00,354.15 25.05,354.16 25.30,354.20 25.55,354.24 25.80,354.28 26.05,354.32 26.30,354.37 26.55,354.41 26.80,354.46 27.00,354.49 27.05,354.50 27.30,354.54 27.55,354.58 27.80,354.62 28.00,354.64 28.05,354.65 28.30,354.68 28.55,354.70 28.80,354.72 29.00,354.74 29.05,354.74 29.30,354.75 29.55,354.76 29.80,354.76 30.00,354.76 30.05,354.76 30.30,354.75 30.55,354.74 30.80,354.72 31.00,354.71 31.05,354.70 31.30,354.68 31.55,354.65 31.80,354.62 32.00,354.60 32.05,354.59 32.30,354.56 32.55,354.52 32.80,354.49 33.05,354.45 33.30,354.42 33.55,354.38 33.80,354.35 34.00,354.33 34.05,354.32 34.30,354.29 34.55,354.27 34.80,354.25 35.00,354.23 35.05,354.23 35.30,354.21 35.55,354.20 35.80,354.20 36.00,354.20 36.05,354.20 36.30,354.21 36.55,354.21 36.80,354.23 37.05,354.25 37.30,354.27 37.55,354.30 37.80,354.33 38.00,354.36 38.05,354.36 38.30,354.40 38.55,354.44 38.80,354.49 39.05,354.53 39.30,354.58 39.55,354.63 39.80,354.68 40.00,354.71 40.05,354.72 40.30,354.77 40.55,354.82 40.80,354.87 41.05,354.91 41.30,354.96 41.55,355.00 41.80,355.04 42.00,355.06 42.05,355.07 42.30,355.09 42.55,355.10 42.70,355.09 42.80,355.08 43.05,355.03 43.30,354.93 43.55,354.77 43.80,354.52 44.00,354.24 44.05,354.16 44.30,353.68 44.55,353.07 44.65,352.79 44.80,352.33 45.05,351.49 45.30,350.58 45.55,349.68 45.80,348.85 45.95,348.42 46.00,348.29 46.05,348.17 46.30,347.70 46.55,347.50 46.60,347.50 46.80,347.60 47.05,347.97 47.25,348.45 47.30,348.59 47.55,349.38 47.80,350.28 47.90,350.65 48.00,351.02 48.05,351.21 48.30,352.09 48.55,352.89 48.80,353.57 49.05,354.11 49.20,354.37 49.30,354.52 49.55,354.80 49.80,354.97 50.05,355.03 50.10,355.03 50.30,354.99 50.50,354.87 50.55,354.83 50.80,354.56 51.05,354.13 51.30,353.53 51.55,352.71 51.60,352.52 51.80,351.65 52.00,350.61 52.05,350.32 52.30,348.73 52.35,348.38 52.55,346.88 52.80,344.83 53.05,342.65 53.10,342.21 53.30,340.45 53.55,338.36 53.80,336.50 53.85,336.17 54.05,335.02 54.30,334.03 54.55,333.61 54.60,333.60 54.80,333.79 55.05,334.56 55.30,335.86 55.35,336.17 55.55,337.57 55.80,339.59 56.05,341.76 56.10,342.20 56.30,343.96 56.55,346.08 56.80,348.01 56.85,348.37 57.05,349.71 57.30,351.14 57.55,352.30 57.60,352.51 57.80,353.22 58.00,353.78 58.05,353.91 58.30,354.41 58.55,354.75 58.80,354.97 59.05,355.09 59.10,355.11 59.30,355.13 59.55,355.09 59.60,355.07 59.80,354.96 60.05,354.74 60.30,354.40 60.55,353.91 60.80,353.23 61.05,352.34 61.20,351.68 61.30,351.18 61.55,349.74 61.80,347.99 62.00,346.38 62.05,345.95 62.30,343.65 62.55,341.13 62.80,338.50 63.05,335.88 63.30,333.39 63.55,331.18 63.60,330.79 63.80,329.40 64.00,328.36 64.05,328.16 64.30,327.55 64.40,327.50 64.55,327.62 64.80,328.36 65.05,329.71 65.20,330.78 65.30,331.59 65.55,333.86 65.80,336.39 66.00,338.50 66.05,339.03 66.30,341.64 66.55,344.12 66.80,346.37 67.05,348.35 67.30,350.02 67.55,351.38 67.60,351.61 67.80,352.44 68.05,353.22 68.10,353.34 68.30,353.73 68.55,354.00 68.80,354.03 69.05,353.80 69.20,353.54 69.30,353.31 69.40,353.04 69.55,352.54 69.80,351.47 70.00,350.41 70.05,350.11 70.30,348.50 70.55,346.70 70.70,345.57 70.80,344.82 71.05,342.99 71.30,341.37 71.35,341.08 71.55,340.10 71.80,339.29 72.00,339.00 72.05,338.97 72.30,339.09 72.55,339.44 72.65,339.59 72.80,339.76 73.05,339.74 73.20,339.47 73.30,339.18 73.55,338.08 73.60,337.82 73.80,336.77 73.95,336.09 74.00,335.92 74.05,335.77 74.30,335.69 74.40,336.00 74.55,336.87 74.60,337.26 74.80,339.29 75.05,342.55 75.20,344.65 75.30,346.02 75.55,349.14 75.60,349.69 75.80,351.55 75.90,352.27 76.00,352.86 76.05,353.10 76.20,353.63 76.30,353.81 76.55,353.60 76.80,352.27 77.05,349.57 77.10,348.86 77.30,345.55 77.40,343.72 77.55,340.98 77.70,338.56 77.80,337.31 78.00,336.00 78.05,335.96 78.20,336.44 78.30,336.50 78.35,335.81 78.40,334.58 78.45,333.44 78.50,333.40 78.55,334.95 78.60,337.57 78.65,340.24 78.70,342.29 78.80,344.66 78.90,346.17 79.05,348.04 79.20,349.52 79.30,350.30 79.55,351.73 79.80,352.65 80.05,353.33 80.30,353.88 80.55,354.33 80.80,354.67 81.00,354.82 81.05,354.83 81.30,354.61 81.50,353.94 81.55,353.67 81.75,352.16 81.80,351.68 82.00,349.44 82.05,348.85 82.25,346.72 82.30,346.32 82.50,345.50 82.55,345.53 82.75,346.50 82.80,346.92 83.00,348.93 83.05,349.46 83.25,351.29 83.30,351.64 83.50,352.55 83.55,352.65 83.80,352.54 84.00,351.92 84.05,351.72 84.30,350.53 84.55,349.19 84.80,347.86 85.05,346.72 85.20,345.68 85.30,339.81 85.35,331.16 85.40,318.36 85.45,305.85 85.50,300.50 85.55,305.76 85.60,318.18 85.65,330.89 85.70,339.44 85.80,345.14 86.05,346.20 86.30,347.11 86.55,348.21 86.80,349.32 87.05,350.29 87.30,351.02 87.55,351.43 87.80,351.55 88.00,351.45 88.05,351.40 88.20,351.09 88.30,349.61 88.35,347.50 88.40,344.39 88.45,341.35 88.50,340.00 88.55,341.17 88.60,344.03 88.65,346.96 88.70,348.89 88.80,350.04 89.05,349.77 89.30,349.50 89.55,349.41 89.80,349.52 90.05,349.83 90.20,349.90 90.30,347.71 90.35,344.17 90.40,338.85 90.45,333.64 90.50,331.50 90.55,333.91 90.60,339.38 90.65,344.98 90.70,348.78 90.80,351.48 91.05,352.43 91.30,353.11 91.55,353.70 91.80,354.15 92.00,354.39 92.05,354.43 92.30,354.50 92.55,354.35 92.80,353.92 93.05,353.18 93.30,352.09 93.55,350.64 93.80,348.88 94.00,347.31 94.05,346.90 94.30,344.89 94.55,343.06 94.80,341.64 95.05,340.83 95.20,339.94 95.30,331.59 95.35,318.84 95.40,299.85 95.45,281.30 95.50,273.50 95.55,281.65 95.60,300.55 95.65,319.89 95.70,332.97 95.80,341.98 96.00,344.12 96.05,344.50 96.30,346.49 96.55,348.48 96.80,350.28 97.05,351.79 97.30,352.93 97.55,353.72 97.80,354.20 98.05,354.41 98.30,354.42 98.55,354.29 98.80,354.07 99.05,353.81 99.20,353.55 99.30,352.22 99.35,350.30 99.40,347.47 99.45,344.70 99.50,343.50 99.55,344.63 99.60,347.33 99.65,350.10 99.70,351.95 99.80,353.15 100.00,353.23 100.05,353.24 100.30,353.30 100.55,353.42 100.80,353.55 101.05,353.64 101.30,353.65 101.55,353.55 101.80,353.30 102.05,352.88 102.30,352.29 102.55,351.51 102.80,350.52 103.05,349.31 103.20,348.42 103.30,347.19 103.35,345.92 103.40,344.16 103.45,342.43 103.50,341.50 103.55,341.77 103.60,342.84 103.65,343.93 103.70,344.56 103.80,344.51 104.00,343.22 104.05,342.90 104.20,341.26 104.30,332.39 104.35,319.44 104.40,300.30 104.45,281.57 104.50,273.50 104.55,281.23 104.60,299.62 104.65,318.44 104.70,331.07 104.80,339.32 105.05,340.33 105.30,341.25 105.55,342.71 105.80,344.51 106.00,346.03 106.05,346.41 106.30,348.21 106.55,349.75 106.80,350.95 107.05,351.79 107.30,352.34 107.55,352.67 107.80,352.89 108.00,353.03 108.05,353.07 108.20,353.07 108.30,351.92 108.35,350.08 108.40,347.32 108.45,344.62 108.50,343.50 108.55,344.72 108.60,347.52 108.65,350.38 108.70,352.32 108.80,353.68 109.05,354.09 109.30,354.39 109.55,354.67 109.80,354.91 110.05,355.10 110.30,355.23 110.55,355.33 110.80,355.39"/>
<polyline fill="none" stroke="#a0a0a0" stroke-width="0.75" stroke-linejoin="round" points="112.05,355.40 112.30,355.32 112.55,355.17 112.80,354.94 113.05,354.58 113.30,354.05 113.55,353.32 113.80,352.40 114.05,351.29 114.30,350.09 114.55,348.88 114.80,347.81 115.05,347.02 115.20,346.28 115.30,341.12 115.35,333.40 115.40,321.95 115.45,310.75 115.50,306.00 115.55,310.82 115.60,322.09 115.65,333.62 115.70,341.41 115.80,346.70 116.00,347.81 116.05,348.01 116.30,349.12 116.55,350.34 116.80,351.53 117.05,352.60 117.30,353.49 117.55,354.18 117.80,354.67 118.05,355.01 118.30,355.22 118.55,355.35 118.80,355.42"/>
<polyline fill="none" stroke="#a0a0a0" stroke-width="0.75" stroke-linejoin="round" points="124.05,355.41 124.30,355.33 124.55,355.21 124.80,355.04 125.05,354.79 125.30,354.46 125.55,354.07 125.80,353.61 126.05,353.14 126.30,352.71 126.55,352.35 126.80,352.14 127.05,352.08 127.20,351.96 127.30,350.05 127.35,347.08 127.40,342.65 127.45,338.31 127.50,336.50 127.55,338.44 127.60,342.90 127.65,347.46 127.70,350.55 127.80,352.70 128.05,353.33 128.30,353.80 128.55,354.23 128.80,354.60 129.05,354.90 129.30,355.12 129.55,355.27 129.80,355.37 130.05,355.43"/>
<polyline fill="none" stroke="#a0a0a0" stroke-width="0.75" stroke-linejoin="round" points="136.80,355.41 137.05,355.34 137.30,355.24 137.55,355.11 137.80,354.93 138.05,354.71 138.30,354.46 138.55,354.20 138.80,353.96 139.05,353.76 139.20,353.58 139.30,352.48 139.35,350.83 139.40,348.40 139.45,346.01 139.50,345.00 139.55,346.01 139.60,348.40 139.65,350.83 139.70,352.48 139.80,353.58 140.05,353.83 140.30,354.05 140.55,354.30 140.80,354.56 141.05,354.80 141.30,355.00 141.55,355.17 141.80,355.29 142.05,355.37 142.30,355.42"/>
<polyline fill="none" stroke="#a0a0a0" stroke-width="0.75" stroke-linejoin="round" points="145.05,355.47 145.30,355.37 145.55,355.32 145.80,355.33 146.05,355.40"/>
<polyline fill="none" stroke="#a0a0a0" stroke-width="0.75" stroke-linejoin="round" points="147.05,355.42 147.30,355.26 147.40,355.19 147.55,355.08 147.80,354.92 148.05,354.83 148.20,354.81 148.30,354.81 148.55,354.86 148.80,354.97 149.00,355.07 149.05,355.10 149.30,355.22 149.55,355.31 149.80,355.32 150.00,355.28 150.05,355.26 150.30,355.09 150.55,354.86 150.60,354.81 150.80,354.60 151.00,354.40 151.05,354.36 151.30,354.15 151.40,354.09 151.50,354.04 151.55,354.01 151.80,353.96 152.00,353.96 152.05,353.96 152.20,353.99 152.30,354.01 152.50,354.05 152.55,354.06 152.80,354.09 153.00,354.08 153.05,354.08 153.30,354.03 153.50,353.98 153.55,353.97 153.80,353.90 154.00,353.85 154.05,353.84 154.30,353.83 154.50,353.87 154.55,353.89 154.60,353.91 154.80,353.99 155.00,354.06 155.05,354.08 155.30,354.15 155.40,354.18 155.55,354.21 155.80,354.25 156.00,354.26 156.05,354.26 156.20,354.25 156.30,354.24 156.55,354.20 156.80,354.15 157.00,354.09 157.05,354.08 157.30,354.02 157.50,353.98 157.55,353.97 157.80,353.94 158.05,353.91 158.30,353.87 158.55,353.83 158.60,353.82 158.80,353.78 159.05,353.74 159.30,353.72 159.40,353.71 159.55,353.72 159.80,353.81 160.00,353.93 160.05,353.97 160.20,354.08 160.30,354.15 160.55,354.32 160.80,354.43 161.00,354.47 161.05,354.47 161.30,354.47 161.55,354.46 161.80,354.44 162.05,354.43 162.30,354.43 162.50,354.43 162.55,354.43 162.60,354.44 162.80,354.44 163.05,354.40 163.30,354.34 163.40,354.31 163.55,354.26 163.80,354.21 164.05,354.18 164.20,354.18 164.30,354.20 164.55,354.26 164.80,354.37 165.00,354.46 165.05,354.49 165.30,354.61 165.55,354.70 165.80,354.74 166.00,354.76 166.05,354.76 166.30,354.78 166.55,354.80 166.60,354.81 166.80,354.82 167.05,354.84 167.30,354.86 167.40,354.87 167.50,354.87 167.55,354.87 167.80,354.89 168.05,354.91 168.20,354.92 168.30,354.93 168.55,354.95 168.80,354.96 169.00,354.97 169.05,354.96 169.30,354.92 169.55,354.81 169.80,354.67 170.00,354.55 170.05,354.52 170.30,354.41 170.55,354.36 170.60,354.35 170.80,354.35 171.05,354.35 171.30,354.34 171.40,354.34 171.55,354.34 171.80,354.33 172.00,354.32 172.05,354.32 172.20,354.32 172.30,354.31 172.55,354.32 172.80,354.32 173.00,354.33 173.05,354.33 173.30,354.34 173.55,354.35 173.80,354.34 174.05,354.35 174.20,354.37 174.30,354.39 174.55,354.38 174.60,354.37 174.80,354.23 175.00,353.92 175.05,353.81 175.10,353.69 175.30,353.10 175.40,352.76 175.55,352.23 175.70,351.74 175.80,351.47 176.00,351.16 176.05,351.14 176.20,351.20 176.30,351.35 176.55,351.95 176.60,352.10 176.80,352.68 176.90,352.96 177.00,353.20 177.05,353.32 177.20,353.60 177.30,353.75 177.55,354.02 177.80,354.19 178.00,354.28 178.05,354.30 178.30,354.37 178.55,354.39 178.60,354.39 178.80,354.39 179.05,354.41 179.30,354.46 179.40,354.48 179.55,354.52 179.80,354.56 180.05,354.58 180.20,354.58 180.30,354.57 180.55,354.54 180.80,354.48 181.00,354.43 181.05,354.41 181.30,354.35 181.55,354.29 181.80,354.25 181.90,354.23 182.05,354.20 182.30,354.09 182.55,353.88 182.60,353.82 182.80,353.51 182.95,353.20 183.05,352.96 183.30,352.28 183.40,352.00 183.55,351.61 183.65,351.39 183.80,351.17 184.00,351.09 184.05,351.11 184.20,351.27 184.30,351.46 184.35,351.57 184.55,352.09 184.70,352.54 184.80,352.83 185.00,353.35 185.05,353.46 185.30,353.89 185.40,353.99 185.55,354.09 185.80,354.13 186.05,354.08 186.10,354.06 186.30,354.01 186.55,353.98 186.60,353.98 186.80,353.98 187.05,354.01 187.30,354.05 187.40,354.06 187.55,354.09 187.80,354.13 188.05,354.15 188.20,354.15 188.30,354.15 188.55,354.12 188.80,354.08 189.00,354.04 189.05,354.03 189.30,353.98 189.55,353.94 189.80,353.93 190.00,353.92 190.05,353.91 190.30,353.85 190.55,353.76 190.60,353.74 190.80,353.66 190.90,353.62 191.05,353.54 191.30,353.40 191.40,353.33 191.55,353.18 191.60,353.13 191.80,352.83 191.95,352.54 192.05,352.32 192.20,351.94 192.30,351.68 192.55,351.03 192.65,350.82 192.80,350.58 193.00,350.45 193.05,350.46 193.30,350.78 193.35,350.89 193.55,351.44 193.70,351.92 193.80,352.24 194.05,352.98 194.30,353.53 194.40,353.69 194.55,353.88 194.60,353.92 194.80,354.04 195.05,354.06 195.10,354.05 195.30,354.00 195.40,353.96 195.55,353.91 195.80,353.82 196.00,353.78 196.05,353.78 196.20,353.77 196.30,353.78 196.55,353.77 196.80,353.76 197.00,353.74 197.05,353.74 197.30,353.72 197.55,353.71 197.80,353.71 198.05,353.76 198.30,353.85 198.55,353.98 198.60,354.01 198.80,354.11 199.05,354.22 199.30,354.29 199.40,354.30 199.55,354.29 199.80,354.23 199.90,354.19 200.05,354.11 200.20,353.99 200.30,353.90 200.55,353.60 200.60,353.53 200.80,353.17 200.95,352.85 201.00,352.73 201.05,352.61 201.30,352.01 201.55,351.50 201.65,351.36 201.80,351.24 202.00,351.30 202.05,351.35 202.30,351.81 202.35,351.94 202.55,352.49 202.60,352.64 202.70,352.93 202.80,353.22 203.05,353.87 203.30,354.34 203.40,354.48 203.55,354.63 203.80,354.79 204.05,354.86 204.10,354.87 204.20,354.89 204.30,354.90 204.55,354.92 204.80,354.93 205.00,354.94 205.05,354.94 205.30,354.95 205.55,354.95 205.80,354.97 206.05,354.94 206.30,354.86 206.55,354.77 206.60,354.76 206.80,354.73 207.05,354.74 207.30,354.82 207.40,354.86 207.55,354.94 207.80,355.05 208.00,355.14 208.05,355.15 208.30,355.16 208.55,355.17 208.80,355.18"/>
<line x1="78.50" y1="333.90" x2="78.50" y2="355.50" stroke="#929292" stroke-width="0.9"/>
<line x1="85.50" y1="301.00" x2="85.50" y2="355.50" stroke="#929292" stroke-width="0.9"/>
<line x1="88.50" y1="340.50" x2="88.50" y2="355.50" stroke="#929292" stroke-width="0.9"/>
<line x1="90.50" y1="332.00" x2="90.50" y2="355.50" stroke="#929292" stroke-width="0.9"/>
<line x1="95.50" y1="274.00" x2="95.50" y2="355.50" stroke="#929292" stroke-width="0.9"/>
<line x1="99.50" y1="344.00" x2="99.50" y2="355.50" stroke="#929292" stroke-width="0.9"/>
<line x1="103.50" y1="342.00" x2="103.50" y2="355.50" stroke="#929292" stroke-width="0.9"/>
<line x1="104.50" y1="274.00" x2="104.50" y2="355.50" stroke="#929292" stroke-width="0.9"/>
<line x1="108.50" y1="344.00" x2="108.50" y2="355.50" stroke="#929292" stroke-width="0.9"/>
<line x1="115.50" y1="306.50" x2="115.50" y2="355.50" stroke="#929292" stroke-width="0.9"/>
<line x1="127.50" y1="337.00" x2="127.50" y2="355.50" stroke="#929292" stroke-width="0.9"/>
<line x1="139.50" y1="345.50" x2="139.50" y2="355.50" stroke="#929292" stroke-width="0.9"/>
<path d="M79.40,319.80 L81.85,324.40 L79.40,329.00 L76.95,324.40 Z" fill="#fff" stroke="#111" stroke-width="0.9"/>
<path d="M79.40,319.80 L81.85,324.40 L76.95,324.40 Z" fill="#111" stroke="#111" stroke-width="0.9"/>
<path d="M90.00,321.00 L92.45,325.60 L90.00,330.20 L87.55,325.60 Z" fill="#fff" stroke="#111" stroke-width="0.9"/>
<path d="M90.00,321.00 L92.45,325.60 L87.55,325.60 Z" fill="#111" stroke="#111" stroke-width="0.9"/>
<path d="M95.10,262.40 L97.55,267.00 L95.10,271.60 L92.65,267.00 Z" fill="#111" stroke="#111" stroke-width="0.6"/>
<path d="M104.80,260.80 L107.25,265.40 L104.80,270.00 L102.35,265.40 Z" fill="#111" stroke="#111" stroke-width="0.6"/>
<path d="M85.60,289.40 L88.05,294.00 L85.60,298.60 L83.15,294.00 Z" fill="#111" stroke="#111" stroke-width="0.6"/>
<path d="M115.40,294.80 L117.85,299.40 L115.40,304.00 L112.95,299.40 Z" fill="#111" stroke="#111" stroke-width="0.6"/>
<path d="M127.00,324.40 L129.45,329.00 L127.00,333.60 L124.55,329.00 Z" fill="#111" stroke="#111" stroke-width="0.6"/>
<path d="M139.50,333.40 L141.95,338.00 L139.50,342.60 L137.05,338.00 Z" fill="#111" stroke="#111" stroke-width="0.6"/>
<text transform="translate(109.00,244.70) scale(0.915,1)" font-size="8.2" text-anchor="middle" font-weight="normal" font-style="normal" fill="#1e1e1e" stroke="#1e1e1e" stroke-width="0.22">27+</text>
<text transform="translate(108.20,255.80) scale(0.915,1)" font-size="8.2" text-anchor="middle" font-weight="normal" font-style="normal" fill="#1e1e1e" stroke="#1e1e1e" stroke-width="0.22">7274.28</text>
<polyline fill="none" stroke="#9a9a9a" stroke-width="0.9" points="76.0,376.2 80.0,372.4 126.0,372.4"/>
<polyline fill="none" stroke="#9a9a9a" stroke-width="0.9" points="154.0,372.4 201.0,372.4 205.0,376.2"/>
<text transform="translate(139.00,375.00) scale(0.915,1)" font-size="8.2" text-anchor="middle" font-weight="normal" font-style="normal" fill="#8a8a8a">× 10</text>
<line x1="18.80" y1="408.00" x2="18.80" y2="489.50" stroke="#e3e3e3" stroke-width="1.6"/>
<line x1="15.80" y1="408.00" x2="18.80" y2="408.00" stroke="#9a9a9a" stroke-width="0.9"/>
<line x1="15.80" y1="449.00" x2="18.80" y2="449.00" stroke="#9a9a9a" stroke-width="0.9"/>
<line x1="15.80" y1="489.50" x2="209.00" y2="489.50" stroke="#9c9c9c" stroke-width="1.0"/>
<line x1="57.30" y1="489.50" x2="57.30" y2="492.50" stroke="#9a9a9a" stroke-width="0.9"/>
<line x1="95.30" y1="489.50" x2="95.30" y2="492.50" stroke="#9a9a9a" stroke-width="0.9"/>
<line x1="133.40" y1="489.50" x2="133.40" y2="492.50" stroke="#9a9a9a" stroke-width="0.9"/>
<line x1="171.50" y1="489.50" x2="171.50" y2="492.50" stroke="#9a9a9a" stroke-width="0.9"/>
<text x="15.50" y="411.70" font-size="9.2" text-anchor="end" font-weight="normal" font-style="normal" fill="#1e1e1e" stroke="#1e1e1e" stroke-width="0.22">100</text>
<text x="13.10" y="452.90" font-size="9.2" text-anchor="end" font-weight="normal" font-style="normal" fill="#1e1e1e" stroke="#1e1e1e" stroke-width="0.22">%</text>
<text x="12.40" y="492.40" font-size="9.2" text-anchor="end" font-weight="normal" font-style="normal" fill="#1e1e1e" stroke="#1e1e1e" stroke-width="0.22">0</text>
<text x="57.30" y="500.70" font-size="9.2" text-anchor="middle" font-weight="normal" font-style="normal" fill="#1e1e1e" stroke="#1e1e1e" stroke-width="0.22">6000</text>
<text x="95.30" y="500.70" font-size="9.2" text-anchor="middle" font-weight="normal" font-style="normal" fill="#1e1e1e" stroke="#1e1e1e" stroke-width="0.22">7000</text>
<text x="133.40" y="500.70" font-size="9.2" text-anchor="middle" font-weight="normal" font-style="normal" fill="#1e1e1e" stroke="#1e1e1e" stroke-width="0.22">8000</text>
<text x="171.50" y="500.70" font-size="9.2" text-anchor="middle" font-weight="normal" font-style="normal" fill="#1e1e1e" stroke="#1e1e1e" stroke-width="0.22">9000</text>
<text x="3.30" y="383.20" font-size="11" text-anchor="start" font-weight="bold" font-style="normal" fill="#111">d)</text>
<text x="212.20" y="499.90" font-size="9.2" text-anchor="middle" font-weight="normal" font-style="normal" fill="#1e1e1e" stroke="#1e1e1e" stroke-width="0.22">m/z</text>
<polyline fill="none" stroke="#a0a0a0" stroke-width="0.75" stroke-linejoin="round" points="20.30,489.40 20.55,489.33 20.80,489.22 21.05,489.06 21.10,489.03 21.30,488.85 21.55,488.57 21.70,488.36 21.80,488.22 22.05,487.81 22.30,487.38 22.55,486.94 22.80,486.55 22.90,486.41 23.05,486.24 23.30,486.05 23.50,486.00 23.55,486.00 23.80,486.11 24.05,486.35 24.10,486.40 24.20,486.26 24.30,483.18 24.35,478.33 24.40,471.07 24.45,463.97 24.50,461.00 24.55,464.14 24.60,471.41 24.65,478.84 24.70,483.85 24.80,487.26 25.05,487.98 25.30,488.36 25.55,488.69 25.80,488.94 25.90,489.03 26.05,489.13 26.30,489.27 26.55,489.36 26.80,489.42"/>
<polyline fill="none" stroke="#a0a0a0" stroke-width="0.75" stroke-linejoin="round" points="36.20,489.41 36.30,488.35 36.35,486.74 36.40,484.34 36.45,482.00 36.50,481.00 36.55,482.00 36.60,484.34 36.65,486.74 36.70,488.35 36.80,489.41"/>
<polyline fill="none" stroke="#a0a0a0" stroke-width="0.75" stroke-linejoin="round" points="41.20,489.43 41.30,488.62 41.35,487.39 41.40,485.56 41.45,483.76 41.50,483.00 41.55,483.76 41.60,485.56 41.65,487.39 41.70,488.62 41.80,489.43"/>
<polyline fill="none" stroke="#a0a0a0" stroke-width="0.75" stroke-linejoin="round" points="47.55,489.42 47.80,489.36 48.05,489.26 48.30,489.10 48.55,488.88 48.60,488.82 48.80,488.57 49.05,488.16 49.20,487.88 49.30,487.67 49.55,487.09 49.80,486.47 50.05,485.85 50.30,485.28 50.40,485.09 50.55,484.84 50.80,484.57 51.00,484.50 51.05,484.50 51.30,484.65 51.55,485.00 51.60,485.09 51.80,485.50 52.05,486.09 52.20,486.47 52.30,486.72 52.55,487.33 52.80,487.88 53.05,488.34 53.30,488.70 53.40,488.82 53.55,488.98 53.80,489.17 54.05,489.30 54.30,489.39"/>
<polyline fill="none" stroke="#a0a0a0" stroke-width="0.75" stroke-linejoin="round" points="58.55,489.42 58.80,489.36 59.05,489.26 59.30,489.10 59.55,488.88 59.60,488.82 59.80,488.57 60.05,488.16 60.20,487.88 60.30,487.67 60.55,487.09 60.80,486.47 61.05,485.85 61.30,485.28 61.40,485.09 61.55,484.84 61.80,484.57 62.00,484.50 62.05,484.50 62.30,484.65 62.55,485.00 62.60,485.09 62.80,485.50 63.05,486.09 63.20,486.47 63.30,486.72 63.55,487.33 63.80,487.88 64.05,488.34 64.30,488.70 64.40,488.82 64.55,488.98 64.80,489.17 65.05,489.30 65.30,489.39"/>
<polyline fill="none" stroke="#a0a0a0" stroke-width="0.75" stroke-linejoin="round" points="68.05,489.41 68.30,489.36 68.55,489.29 68.80,489.19 69.00,489.09 69.05,489.07 69.30,488.91 69.55,488.71 69.75,488.53 69.80,488.48 70.05,488.21 70.30,487.92 70.50,487.68 70.55,487.62 70.80,487.32 71.05,487.05 71.25,486.85 71.30,486.81 71.55,486.63 71.80,486.53 72.00,486.50 72.05,486.50 72.30,486.56 72.55,486.69 72.75,486.85 72.80,486.90 73.05,487.15 73.30,487.44 73.50,487.67 73.55,487.73 73.80,488.01 74.05,488.24 74.10,488.28 74.25,488.36 74.30,488.38 74.55,488.36 74.80,488.09 74.90,487.89 75.00,487.63 75.05,487.48 75.30,486.48 75.55,485.13 75.70,484.22 75.80,483.61 76.05,482.19 76.10,481.96 76.30,481.24 76.50,481.00 76.55,481.02 76.80,481.59 76.90,482.01 77.05,482.80 77.30,484.34 77.55,485.86 77.70,486.62 77.80,487.02 78.05,487.56 78.10,487.57 78.30,487.20 78.55,485.76 78.60,485.34 78.80,483.29 78.90,482.13 79.05,480.39 79.20,478.89 79.30,478.14 79.50,477.50 79.55,477.54 79.80,478.91 80.05,481.62 80.10,482.22 80.30,484.54 80.40,485.55 80.50,486.40 80.55,486.76 80.70,487.55 80.80,487.82 81.00,487.69 81.05,487.51 81.25,486.25 81.30,485.80 81.50,483.69 81.55,483.13 81.75,481.11 81.80,480.73 82.00,480.00 82.05,480.05 82.25,481.11 82.30,481.55 82.50,483.70 82.55,484.26 82.70,485.81 82.75,486.25 82.80,486.65 83.00,487.71 83.05,487.83 83.30,487.62 83.50,486.53 83.55,486.14 83.60,485.71 83.80,483.66 83.90,482.52 84.05,480.82 84.20,479.35 84.30,478.62 84.50,478.00 84.55,478.04 84.80,479.35 85.05,481.94 85.10,482.52 85.30,484.75 85.40,485.72 85.50,486.54 85.55,486.89 85.70,487.65 85.80,487.92 86.00,487.84 86.05,487.69 86.25,486.58 86.30,486.18 86.50,484.30 86.55,483.80 86.75,481.99 86.80,481.65 87.00,481.00 87.05,481.04 87.25,482.00 87.30,482.40 87.50,484.35 87.55,484.86 87.75,486.74 87.80,487.13 88.00,488.33 88.05,488.54 88.30,489.09 88.50,489.04 88.55,488.96 88.80,488.04 89.05,486.02 89.30,483.01 89.55,480.06 89.80,478.80 90.05,480.06 90.30,483.01 90.55,486.00 90.70,487.32 90.80,487.94 91.05,488.64 91.20,488.55 91.30,488.30 91.45,487.68 91.55,487.13 91.70,486.17 91.80,485.52 91.95,484.66 92.05,484.25 92.20,484.00 92.30,484.09 92.45,484.59 92.50,484.84 92.55,485.10 92.70,485.99 92.80,486.57 92.95,487.29 93.05,487.62 93.20,487.87 93.30,487.86 93.55,487.31 93.70,486.68 93.80,486.17 94.05,484.66 94.10,484.34 94.20,483.58 94.30,481.60 94.35,479.22 94.40,475.84 94.45,472.54 94.50,471.00 94.55,472.07 94.60,474.91 94.65,477.84 94.70,479.78 94.80,480.95 94.90,481.00 95.05,481.15 95.30,482.00 95.55,483.37 95.70,484.30 95.80,484.90 96.05,486.17 96.10,486.35 96.20,486.64 96.30,486.80 96.45,486.78 96.50,486.71 96.55,486.61 96.70,486.18 96.80,485.83 96.95,485.33 97.05,485.10 97.20,485.00 97.30,485.13 97.45,485.59 97.50,485.81 97.55,486.04 97.70,486.83 97.80,487.35 97.95,488.06 98.00,488.27 98.05,488.45 98.20,488.89 98.30,489.09 98.50,489.32 98.55,489.35 98.70,489.42"/>
<polyline fill="none" stroke="#a0a0a0" stroke-width="0.75" stroke-linejoin="round" points="99.05,489.45 99.20,489.13 99.30,485.60 99.35,480.21 99.40,472.19 99.45,464.34 99.50,461.00 99.55,464.34 99.60,472.19 99.65,480.21 99.70,485.60 99.80,489.14 100.00,489.46"/>
<polyline fill="none" stroke="#a0a0a0" stroke-width="0.75" stroke-linejoin="round" points="101.05,489.46 101.30,489.34 101.50,489.03 101.55,488.90 101.80,487.67 102.05,485.12 102.30,481.31 102.50,478.22 102.55,477.59 102.80,476.00 103.05,477.58 103.30,481.29 103.55,484.99 103.60,485.57 103.80,487.15 104.05,487.20 104.10,486.94 104.30,485.04 104.35,484.36 104.55,481.01 104.60,480.09 104.80,476.56 104.85,475.83 105.05,474.08 105.10,474.00 105.30,475.16 105.35,475.78 105.40,476.49 105.55,479.01 105.60,479.90 105.80,483.18 105.85,483.84 105.90,484.42 106.05,485.58 106.10,485.78 106.15,485.87 106.30,485.62 106.40,485.05 106.55,483.72 106.60,483.17 106.65,482.57 106.80,480.54 106.90,479.00 107.05,476.37 107.15,474.37 107.30,470.92 107.40,468.29 107.55,463.87 107.65,460.66 107.70,459.01 107.80,455.67 107.90,452.38 108.05,447.84 108.10,446.50 108.30,442.44 108.40,441.36 108.50,441.00 108.55,441.10 108.80,444.30 108.90,446.69 109.05,451.16 109.30,459.87 109.40,463.40 109.55,468.36 109.70,472.59 109.80,474.88 110.05,478.35 110.10,478.62 110.30,478.31 110.45,476.66 110.55,474.99 110.80,469.38 110.90,466.87 111.05,463.25 111.15,461.14 111.30,458.75 111.50,457.50 111.55,457.57 111.60,457.81 111.80,460.19 111.85,461.10 112.05,465.60 112.20,469.41 112.30,471.92 112.40,474.27 112.55,477.32 112.80,480.75 112.90,481.51 113.05,482.09 113.20,482.10 113.30,481.89 113.55,481.00 113.60,480.81 113.80,480.20 114.00,480.00 114.05,480.03 114.30,480.68 114.40,481.15 114.55,482.03 114.80,483.75 115.05,485.44 115.20,486.32 115.30,486.81 115.50,487.55 115.55,487.67 115.60,487.77 115.80,487.91 116.05,487.45 116.30,486.16 116.40,485.38 116.50,484.41 116.55,483.87 116.80,480.39 116.85,479.54 117.05,475.66 117.30,469.80 117.55,463.17 117.70,459.02 117.75,457.64 117.80,456.27 118.05,449.66 118.20,446.00 118.30,443.72 118.55,438.62 118.65,436.80 118.80,434.29 118.90,432.74 119.05,430.59 119.10,429.92 119.30,427.48 119.50,425.52 119.55,425.12 119.80,423.89 120.00,424.00 120.05,424.21 120.10,424.50 120.30,426.44 120.55,430.65 120.70,434.04 120.80,436.61 120.90,439.38 121.05,443.84 121.30,451.68 121.55,459.47 121.80,466.64 121.90,469.23 122.05,472.78 122.10,473.86 122.30,477.65 122.50,480.58 122.55,481.18 122.80,483.37 122.90,483.88 123.05,484.28 123.30,484.05 123.55,482.91 123.70,481.94 123.80,481.24 124.05,479.55 124.10,479.25 124.30,478.35 124.50,478.00 124.55,478.01 124.80,478.61 124.90,479.06 125.05,479.86 125.30,481.20 125.55,481.99 125.70,481.95 125.80,481.64 125.85,481.40 126.05,479.77 126.10,479.20 126.15,478.57 126.30,476.27 126.55,471.29 126.60,470.15 126.80,465.22 126.90,462.61 127.05,458.61 127.10,457.27 127.30,452.00 127.50,447.00 127.55,445.80 127.72,441.79 127.80,440.15 127.95,436.98 128.05,434.94 128.30,429.99 128.35,429.02 128.40,428.05 128.55,425.18 128.80,420.67 128.85,419.84 128.97,417.90 129.05,416.87 129.30,414.39 129.55,413.84 129.60,414.00 129.80,415.61 130.05,419.80 130.20,423.38 130.22,424.04 130.30,426.14 130.55,434.06 130.80,442.86 130.85,444.66 131.05,451.78 131.30,460.19 131.47,465.50 131.55,467.60 131.80,473.76 132.05,478.57 132.10,479.38 132.30,482.07 132.55,484.36 132.80,485.54 132.90,485.71 133.05,485.69 133.30,484.93 133.35,484.68 133.55,483.45 133.70,482.34 133.80,481.57 134.05,479.74 134.10,479.42 134.30,478.44 134.50,478.00 134.55,477.98 134.60,478.00 134.80,478.39 134.90,478.72 135.05,479.30 135.30,480.13 135.50,480.25 135.55,480.16 135.70,479.56 135.80,478.85 135.95,477.29 136.00,476.64 136.05,475.93 136.10,475.16 136.30,471.51 136.40,469.41 136.55,466.04 136.80,460.20 136.85,459.06 136.90,457.93 137.05,454.70 137.30,450.00 137.55,446.21 137.75,443.61 137.80,442.99 137.95,441.09 138.05,439.75 138.20,437.53 138.30,435.88 138.55,431.04 138.60,429.96 138.65,428.84 138.80,425.32 139.05,419.26 139.10,418.08 139.25,414.72 139.30,413.68 139.55,409.50 139.80,407.48 139.90,407.40 140.00,407.76 140.05,408.11 140.30,411.50 140.55,417.39 140.80,425.22 141.05,434.28 141.20,439.97 141.30,443.77 141.55,453.01 141.80,461.43 141.85,462.98 142.05,468.69 142.30,474.60 142.50,478.36 142.55,479.17 142.60,479.93 142.80,482.46 143.05,484.58 143.30,485.63 143.40,485.78 143.55,485.71 143.80,484.89 144.05,483.36 144.20,482.23 144.30,481.44 144.55,479.61 144.60,479.29 144.80,478.34 145.00,478.00 145.05,478.02 145.30,478.74 145.40,479.28 145.55,480.28 145.80,482.21 146.05,484.05 146.20,484.93 146.30,485.39 146.55,486.04 146.60,486.07 146.80,485.91 147.05,485.03 147.10,484.76 147.30,483.44 147.40,482.62 147.55,481.20 147.75,478.98 147.80,478.37 148.05,475.06 148.30,471.41 148.40,469.91 148.55,467.66 148.80,464.08 149.05,461.00 149.30,458.69 149.55,457.41 149.70,457.20 149.80,457.30 150.05,458.35 150.30,460.46 150.35,461.00 150.55,463.42 150.80,466.92 151.00,469.90 151.05,470.66 151.30,474.33 151.55,477.71 151.60,478.33 151.65,478.93 151.80,480.59 152.05,482.87 152.30,484.46 152.40,484.90 152.55,485.35 152.80,485.56 153.05,485.20 153.20,484.79 153.30,484.47 153.55,483.67 153.60,483.53 153.80,483.12 154.00,483.00 154.05,483.03 154.30,483.48 154.40,483.80 154.55,484.38 154.80,485.48 154.90,485.91 155.05,486.51 155.20,487.01 155.30,487.27 155.55,487.63 155.60,487.64 155.80,487.52 156.05,486.96 156.10,486.79 156.30,485.95 156.40,485.43 156.55,484.52 156.70,483.47 156.80,482.70 157.05,480.58 157.30,478.28 157.55,475.98 157.80,473.89 157.90,473.17 158.05,472.26 158.30,471.26 158.50,471.00 158.55,471.02 158.80,471.57 159.05,472.84 159.10,473.17 159.30,474.69 159.55,476.88 159.70,478.28 159.80,479.21 160.05,481.46 160.30,483.48 160.55,485.15 160.60,485.44 160.80,486.43 160.90,486.82 161.05,487.28 161.30,487.71 161.40,487.76 161.55,487.71 161.80,487.30 162.05,486.56 162.10,486.38 162.20,486.01 162.30,485.64 162.55,484.76 162.60,484.61 162.80,484.15 163.00,484.00 163.05,484.01 163.30,484.38 163.40,484.66 163.55,485.17 163.80,486.17 164.05,487.18 164.20,487.72 164.30,488.04 164.55,488.66 164.60,488.76 164.80,489.06 165.05,489.29 165.30,489.39"/>
<polyline fill="none" stroke="#a0a0a0" stroke-width="0.75" stroke-linejoin="round" points="165.60,489.39 165.80,489.33 166.05,489.14 166.30,488.77 166.40,488.55 166.55,488.15 166.80,487.23 167.05,486.04 167.20,485.25 167.30,484.73 167.55,483.52 167.60,483.32 167.80,482.72 168.00,482.50 168.05,482.51 168.30,482.98 168.40,483.32 168.55,483.97 168.80,485.25 169.00,486.30 169.05,486.51 169.20,487.11 169.30,487.45 169.55,488.04 169.60,488.11 169.75,488.25 169.80,488.27 170.05,488.21 170.30,488.00 170.40,487.90 170.50,487.80 170.55,487.75 170.60,487.70 170.80,487.48 171.05,487.20 171.25,487.10 171.30,487.07 171.40,486.99 171.55,486.83 171.80,486.45 172.00,486.05 172.05,485.94 172.20,485.58 172.30,485.33 172.55,484.71 172.60,484.60 172.75,484.31 172.80,484.23 173.00,484.04 173.05,484.02 173.30,484.13 173.40,484.27 173.50,484.44 173.55,484.54 173.80,485.20 174.05,486.00 174.20,486.47 174.25,486.62 174.30,486.77 174.55,487.40 174.60,487.51 174.80,487.82 175.00,487.98 175.05,488.00 175.30,488.07 175.40,488.08 175.55,488.10 175.75,488.12 175.80,488.12 176.05,488.13 176.30,488.14 176.50,488.14 176.55,488.14 176.80,488.06 177.05,487.88 177.25,487.71 177.30,487.66 177.55,487.46 177.80,487.32 178.00,487.28 178.05,487.28 178.30,487.29 178.55,487.32 178.75,487.35 178.80,487.35 179.05,487.39 179.30,487.41 179.50,487.41 179.55,487.42 179.80,487.48 180.05,487.60 180.25,487.73 180.30,487.77 180.55,487.92 180.80,488.03 181.00,488.05 181.05,488.05 181.30,487.99 181.55,487.85 181.75,487.71 181.80,487.68 182.05,487.51 182.30,487.40 182.50,487.37 182.55,487.37 182.80,487.42 183.05,487.52 183.25,487.63 183.30,487.65 183.55,487.78 183.80,487.86 184.00,487.89 184.05,487.88 184.30,487.82 184.55,487.68 184.75,487.54 184.80,487.51 185.05,487.34 185.30,487.23 185.50,487.20 185.55,487.20 185.80,487.31 186.05,487.55 186.25,487.79 186.30,487.86 186.55,488.14 186.80,488.34 187.00,488.39 187.05,488.39 187.30,488.37 187.55,488.33 187.75,488.29 187.80,488.28 188.05,488.24 188.30,488.21 188.50,488.20 188.55,488.19 188.80,488.08 189.05,487.84 189.25,487.59 189.30,487.52 189.55,487.23 189.80,487.03 190.00,486.98 190.05,486.98 190.30,487.07 190.55,487.27 190.75,487.47 190.80,487.52 191.05,487.75 191.30,487.91 191.50,487.96 191.55,487.96 191.80,487.97 192.05,488.01 192.25,488.04 192.30,488.05 192.55,488.10 192.80,488.12 193.00,488.13 193.05,488.13 193.30,488.04 193.55,487.84 193.75,487.64 193.80,487.59 194.05,487.35 194.30,487.19 194.50,487.15 194.55,487.15 194.80,487.18 195.05,487.24 195.25,487.31 195.30,487.32 195.55,487.40 195.80,487.45 196.00,487.46 196.05,487.47 196.30,487.55 196.55,487.72 196.75,487.90 196.80,487.94 197.05,488.15 197.30,488.29 197.50,488.33 197.55,488.33 197.80,488.26 198.05,488.12 198.25,487.97 198.30,487.93 198.55,487.76 198.80,487.64 199.00,487.61 199.05,487.61 199.30,487.59 199.55,487.55 199.75,487.51 199.80,487.50 200.05,487.45 200.30,487.41 200.50,487.40 200.55,487.41 200.80,487.49 201.05,487.67 201.25,487.85 201.30,487.90 201.55,488.12 201.80,488.26 202.00,488.30 202.05,488.30 202.30,488.22 202.55,488.04 202.75,487.87 202.80,487.82 203.05,487.61 203.30,487.46 203.50,487.43 203.55,487.43 203.80,487.52 204.05,487.71 204.25,487.90 204.30,487.95 204.55,488.18 204.80,488.34 205.00,488.38 205.05,488.38 205.30,488.34 205.55,488.26 205.75,488.19 205.80,488.17 206.05,488.11 206.30,488.23 206.50,488.37 206.55,488.41 206.80,488.62 207.05,488.85 207.25,489.02 207.30,489.06 207.55,489.24 207.80,489.39"/>
<line x1="24.50" y1="461.50" x2="24.50" y2="489.50" stroke="#929292" stroke-width="0.9"/>
<line x1="36.50" y1="481.50" x2="36.50" y2="489.50" stroke="#929292" stroke-width="0.9"/>
<line x1="41.50" y1="483.50" x2="41.50" y2="489.50" stroke="#929292" stroke-width="0.9"/>
<line x1="94.50" y1="471.50" x2="94.50" y2="489.50" stroke="#929292" stroke-width="0.9"/>
<line x1="99.50" y1="461.50" x2="99.50" y2="489.50" stroke="#929292" stroke-width="0.9"/>
<path d="M94.90,460.30 L97.35,464.90 L94.90,469.50 L92.45,464.90 Z" fill="#111" stroke="#111" stroke-width="0.6"/>
<path d="M98.50,453.10 L101.00,448.80 L102.20,449.90 L103.10,448.30 L105.10,451.80 L102.70,453.30 L100.50,457.00 Z" fill="#111" stroke="#111" stroke-width="0.4" stroke-linejoin="miter"/>
<path d="M107.20,437.20 L109.70,432.90 L110.90,434.00 L111.80,432.40 L113.80,435.90 L111.40,437.40 L109.20,441.10 Z" fill="#111" stroke="#111" stroke-width="0.4" stroke-linejoin="miter"/>
<path d="M115.60,418.20 L116.80,416.90 L117.50,414.70 L118.80,416.10 L121.40,416.10 L122.70,414.70 L123.40,416.90 L124.60,418.20 L121.30,420.40 L120.10,422.80 L118.90,420.40 Z" fill="#111" stroke="#111" stroke-width="0.4" stroke-linejoin="miter"/>
<path d="M124.80,407.40 L126.00,406.10 L126.70,403.90 L128.00,405.30 L130.60,405.30 L131.90,403.90 L132.60,406.10 L133.80,407.40 L130.50,409.60 L129.30,412.00 L128.10,409.60 Z" fill="#111" stroke="#111" stroke-width="0.4" stroke-linejoin="miter"/>
<path d="M136.50,404.10 L137.70,402.80 L138.40,400.60 L139.70,402.00 L142.30,402.00 L143.60,400.60 L144.30,402.80 L145.50,404.10 L142.20,406.30 L141.00,408.70 L139.80,406.30 Z" fill="#111" stroke="#111" stroke-width="0.4" stroke-linejoin="miter"/>
<path d="M145.50,449.60 L146.70,448.30 L147.40,446.10 L148.70,447.50 L151.30,447.50 L152.60,446.10 L153.30,448.30 L154.50,449.60 L151.20,451.80 L150.00,454.20 L148.80,451.80 Z" fill="#111" stroke="#111" stroke-width="0.4" stroke-linejoin="miter"/>
<path d="M154.00,463.60 L155.20,462.30 L155.90,460.10 L157.20,461.50 L159.80,461.50 L161.10,460.10 L161.80,462.30 L163.00,463.60 L159.70,465.80 L158.50,468.20 L157.30,465.80 Z" fill="#111" stroke="#111" stroke-width="0.4" stroke-linejoin="miter"/>
<text transform="translate(143.60,388.00) scale(0.915,1)" font-size="8.2" text-anchor="middle" font-weight="normal" font-style="normal" fill="#1e1e1e" stroke="#1e1e1e" stroke-width="0.22">30+</text>
<text transform="translate(143.80,396.70) scale(0.915,1)" font-size="8.2" text-anchor="middle" font-weight="normal" font-style="normal" fill="#1e1e1e" stroke="#1e1e1e" stroke-width="0.22">8183.39</text>
<text transform="translate(107.00,427.70) scale(0.915,1)" font-size="8.2" text-anchor="middle" font-weight="normal" font-style="normal" fill="#1e1e1e" stroke="#1e1e1e" stroke-width="0.22">30+</text>
<path d="M13.90,515.40 L16.35,520.00 L13.90,524.60 L11.45,520.00 Z" fill="#fff" stroke="#111" stroke-width="1.1"/>
<line x1="11.45" y1="520.00" x2="16.35" y2="520.00" stroke="#111" stroke-width="0.8"/>
<text x="22.60" y="523.30" font-size="9.3" text-anchor="start" font-weight="normal" font-style="normal" fill="#1e1e1e" stroke="#1e1e1e" stroke-width="0.22">1:0 mumAb:Ag</text>
<path d="M13.90,533.60 L16.35,538.20 L13.90,542.80 L11.45,538.20 Z" fill="#fff" stroke="#111" stroke-width="0.9"/>
<path d="M13.90,533.60 L16.35,538.20 L11.45,538.20 Z" fill="#111" stroke="#111" stroke-width="0.9"/>
<text x="22.60" y="541.50" font-size="9.3" text-anchor="start" font-weight="normal" font-style="normal" fill="#1e1e1e" stroke="#1e1e1e" stroke-width="0.22">1:1 mumAb:Ag</text>
<path d="M13.90,552.40 L16.35,557.00 L13.90,561.60 L11.45,557.00 Z" fill="#111" stroke="#111" stroke-width="0.6"/>
<text x="22.60" y="560.30" font-size="9.3" text-anchor="start" font-weight="normal" font-style="normal" fill="#1e1e1e" stroke="#1e1e1e" stroke-width="0.22">1:2 mumAb:Ag</text>
<path d="M121.90,520.20 L124.40,515.90 L125.60,517.00 L126.50,515.40 L128.50,518.90 L126.10,520.40 L123.90,524.10 Z" fill="#111" stroke="#111" stroke-width="0.4" stroke-linejoin="miter"/>
<text x="137.60" y="522.90" font-size="9.3" text-anchor="start" font-weight="normal" font-style="normal" fill="#1e1e1e" stroke="#1e1e1e" stroke-width="0.22">1:3 mumAb:Ag</text>
<path d="M121.10,537.40 L122.30,536.10 L123.00,533.90 L124.30,535.30 L126.90,535.30 L128.20,533.90 L128.90,536.10 L130.10,537.40 L126.80,539.60 L125.60,542.00 L124.40,539.60 Z" fill="#111" stroke="#111" stroke-width="0.4" stroke-linejoin="miter"/>
<text x="137.60" y="541.50" font-size="9.3" text-anchor="start" font-weight="normal" font-style="normal" fill="#1e1e1e" stroke="#1e1e1e" stroke-width="0.22">1:4 mumAb:Ag</text>
<line x1="250.00" y1="33.00" x2="250.00" y2="114.50" stroke="#e3e3e3" stroke-width="1.6"/>
<line x1="247.00" y1="33.00" x2="250.00" y2="33.00" stroke="#9a9a9a" stroke-width="0.9"/>
<line x1="247.00" y1="73.60" x2="250.00" y2="73.60" stroke="#9a9a9a" stroke-width="0.9"/>
<line x1="247.00" y1="114.50" x2="440.00" y2="114.50" stroke="#9c9c9c" stroke-width="1.0"/>
<line x1="288.00" y1="114.50" x2="288.00" y2="117.50" stroke="#9a9a9a" stroke-width="0.9"/>
<line x1="326.00" y1="114.50" x2="326.00" y2="117.50" stroke="#9a9a9a" stroke-width="0.9"/>
<line x1="364.00" y1="114.50" x2="364.00" y2="117.50" stroke="#9a9a9a" stroke-width="0.9"/>
<line x1="402.00" y1="114.50" x2="402.00" y2="117.50" stroke="#9a9a9a" stroke-width="0.9"/>
<text x="246.70" y="36.70" font-size="9.2" text-anchor="end" font-weight="normal" font-style="normal" fill="#1e1e1e" stroke="#1e1e1e" stroke-width="0.22">100</text>
<text x="244.30" y="77.50" font-size="9.2" text-anchor="end" font-weight="normal" font-style="normal" fill="#1e1e1e" stroke="#1e1e1e" stroke-width="0.22">%</text>
<text x="243.60" y="117.40" font-size="9.2" text-anchor="end" font-weight="normal" font-style="normal" fill="#1e1e1e" stroke="#1e1e1e" stroke-width="0.22">0</text>
<text x="233.70" y="11.50" font-size="11" text-anchor="start" font-weight="bold" font-style="normal" fill="#111">e)</text>
<polyline fill="none" stroke="#8a8a8a" stroke-width="0.75" stroke-linejoin="round" points="270.00,114.38 270.25,114.38 270.50,114.37 270.75,114.36 271.00,114.36 271.25,114.35 271.50,114.34 271.75,114.33 272.00,114.31 272.25,114.30 272.50,114.28 272.75,114.25 273.00,114.22 273.25,114.18 273.50,114.12 273.75,114.05 274.00,113.95 274.25,113.82 274.50,113.68 274.75,113.55 275.00,113.50 275.25,113.55 275.50,113.67 275.75,113.80 276.00,113.92 276.25,114.01 276.50,114.08 276.75,114.13 277.00,114.17 277.25,114.19 277.50,114.21 277.75,114.22 278.00,114.23 278.25,114.23 278.50,114.24 278.75,114.23 279.00,114.23 279.25,114.22 279.50,114.22 279.75,114.20 280.00,114.19 280.25,114.17 280.50,114.15 280.75,114.12 281.00,114.09 281.10,114.07 281.25,114.04 281.50,113.98 281.75,113.90 281.90,113.83 282.00,113.78 282.25,113.62 282.30,113.58 282.50,113.39 282.70,113.14 282.75,113.07 283.00,112.64 283.10,112.46 283.25,112.21 283.50,112.00 283.75,112.19 283.90,112.44 284.00,112.61 284.25,113.03 284.30,113.10 284.50,113.33 284.70,113.51 284.75,113.55 285.00,113.69 285.10,113.74 285.25,113.79 285.50,113.85 285.75,113.90 285.90,113.92 286.00,113.93 286.25,113.94 286.50,113.95 286.75,113.95 287.00,113.95 287.25,113.94 287.50,113.92 287.75,113.90 288.00,113.87 288.25,113.84 288.50,113.80 288.75,113.76 289.00,113.70 289.25,113.64 289.50,113.56 289.75,113.47 290.00,113.36 290.25,113.22 290.50,113.05 290.75,112.83 291.00,112.55 291.05,112.48 291.25,112.17 291.50,111.66 291.75,110.96 291.80,110.78 292.00,109.95 292.18,108.98 292.25,108.47 292.50,106.30 292.55,105.76 292.75,103.25 292.93,100.75 293.00,99.71 293.25,97.48 293.30,97.40 293.50,98.49 293.68,100.69 293.75,101.76 294.00,105.07 294.05,105.64 294.25,107.55 294.43,108.80 294.50,109.23 294.75,110.37 294.80,110.54 295.00,111.13 295.25,111.66 295.50,112.04 295.55,112.10 295.75,112.30 296.00,112.49 296.25,112.62 296.50,112.71 296.75,112.76 297.00,112.78 297.25,112.78 297.50,112.76 297.75,112.71 298.00,112.64 298.25,112.55 298.50,112.43 298.75,112.29 299.00,112.10 299.25,111.88 299.50,111.61 299.75,111.27 300.00,110.86 300.25,110.34 300.50,109.67 300.75,108.81 300.95,107.94 301.00,107.69 301.25,106.17 301.50,104.09 301.70,101.81 301.75,101.14 302.00,96.86 302.07,95.22 302.25,90.54 302.45,83.43 302.50,81.32 302.75,69.02 302.82,65.06 303.00,56.87 303.20,52.80 303.25,53.07 303.50,61.23 303.57,65.02 303.75,74.18 303.95,83.37 304.00,85.34 304.25,93.27 304.32,95.11 304.50,98.65 304.70,101.68 304.75,102.30 305.00,104.84 305.25,106.64 305.45,107.72 305.50,107.96 305.75,108.94 306.00,109.68 306.25,110.25 306.50,110.70 306.75,111.04 307.00,111.32 307.25,111.53 307.50,111.69 307.75,111.82 308.00,111.90 308.25,111.96 308.50,111.99 308.75,111.99 309.00,111.96 309.25,111.90 309.50,111.82 309.75,111.71 310.00,111.56 310.25,111.36 310.50,111.12 310.75,110.82 311.00,110.45 311.25,109.99 311.50,109.40 311.75,108.66 312.00,107.71 312.25,106.46 312.35,105.86 312.50,104.80 312.75,102.55 313.00,99.40 313.10,97.80 313.25,94.90 313.48,89.09 313.50,88.31 313.75,78.56 313.85,73.51 314.00,64.62 314.23,49.20 314.25,47.49 314.50,34.41 314.60,33.00 314.75,36.12 314.98,49.22 315.00,50.96 315.25,67.79 315.35,73.55 315.50,80.86 315.73,89.15 315.75,89.90 316.00,96.01 316.10,97.88 316.25,100.21 316.50,103.16 316.75,105.29 316.85,105.98 317.00,106.87 317.25,108.07 317.50,108.99 317.75,109.72 318.00,110.30 318.25,110.76 318.50,111.14 318.75,111.46 319.00,111.72 319.25,111.93 319.50,112.11 319.75,112.26 320.00,112.38 320.25,112.48 320.50,112.56 320.75,112.62 321.00,112.66 321.25,112.68 321.50,112.69 321.75,112.68 322.00,112.66 322.25,112.61 322.50,112.54 322.75,112.43 323.00,112.30 323.25,112.13 323.50,111.90 323.75,111.60 324.00,111.21 324.25,110.69 324.35,110.44 324.50,110.00 324.75,109.04 325.00,107.70 325.10,107.02 325.25,105.78 325.48,103.29 325.50,102.95 325.75,98.77 325.85,96.60 326.00,92.78 326.23,86.16 326.25,85.42 326.50,79.80 326.60,79.20 326.75,80.55 326.98,86.20 327.00,86.95 327.25,94.21 327.35,96.69 327.50,99.84 327.73,103.42 327.75,103.74 328.00,106.39 328.10,107.19 328.25,108.20 328.50,109.48 328.75,110.41 328.85,110.71 329.00,111.10 329.25,111.63 329.50,112.03 329.75,112.36 330.00,112.62 330.25,112.83 330.50,113.00 330.75,113.15 331.00,113.27 331.25,113.38 331.50,113.47 331.75,113.55 332.00,113.62 332.25,113.68 332.50,113.73 332.75,113.78 333.00,113.82 333.25,113.85 333.50,113.89 333.75,113.92 334.00,113.94 334.25,113.97 334.50,113.99 334.75,114.01 335.00,114.02 335.25,114.04 335.50,114.05 335.75,114.06 336.00,114.07 336.25,114.07 336.50,114.08 336.75,114.08 337.00,114.07 337.25,114.07 337.50,114.06 337.75,114.04 338.00,114.01 338.10,114.00 338.25,113.98 338.50,113.93 338.75,113.85 338.90,113.80 339.00,113.75 339.25,113.60 339.30,113.56 339.50,113.38 339.70,113.13 339.75,113.06 340.00,112.63 340.10,112.45 340.25,112.20 340.50,112.00 340.75,112.21 340.90,112.47 341.00,112.65 341.25,113.09 341.30,113.16 341.50,113.41 341.70,113.61 341.75,113.65 342.00,113.81 342.10,113.86 342.25,113.92 342.50,114.01 342.75,114.07 342.90,114.10 343.00,114.12 343.25,114.15 343.50,114.18 343.75,114.20 344.00,114.22 344.25,114.24 344.50,114.25 344.75,114.26 345.00,114.27 345.25,114.28 345.50,114.29 345.75,114.29 346.00,114.30 346.25,114.30 346.50,114.30 346.75,114.30 347.00,114.30 347.25,114.30 347.50,114.30 347.75,114.30 348.00,114.30 348.25,114.29 348.40,114.28 348.50,114.28 348.75,114.27 349.00,114.26 349.25,114.24 349.50,114.22 349.60,114.21 349.75,114.19 350.00,114.15 350.20,114.12 350.25,114.10 350.50,114.04 350.75,113.96 350.80,113.95 351.00,113.87 351.25,113.75 351.40,113.68 351.50,113.63 351.75,113.54 352.00,113.50 352.25,113.54 352.50,113.64 352.60,113.69 352.75,113.76 353.00,113.88 353.20,113.96 353.25,113.98 353.50,114.07 353.75,114.13 353.80,114.14 354.00,114.18 354.25,114.22 354.40,114.24 354.50,114.26 354.75,114.28 355.00,114.30 355.25,114.32 355.50,114.33 355.60,114.34 355.75,114.35 356.00,114.36 356.25,114.37 356.50,114.37 356.75,114.38"/>
<circle cx="292.30" cy="91.05" r="2.35" fill="#fff" stroke="#111" stroke-width="0.9"/>
<circle cx="292.30" cy="86.15" r="2.35" fill="#fff" stroke="#111" stroke-width="0.9"/>
<circle cx="303.10" cy="46.65" r="2.35" fill="#fff" stroke="#111" stroke-width="0.9"/>
<circle cx="303.10" cy="41.75" r="2.35" fill="#fff" stroke="#111" stroke-width="0.9"/>
<circle cx="314.40" cy="27.25" r="2.35" fill="#fff" stroke="#111" stroke-width="0.9"/>
<circle cx="314.40" cy="22.35" r="2.35" fill="#fff" stroke="#111" stroke-width="0.9"/>
<circle cx="326.60" cy="72.25" r="2.35" fill="#fff" stroke="#111" stroke-width="0.9"/>
<circle cx="326.60" cy="67.35" r="2.35" fill="#fff" stroke="#111" stroke-width="0.9"/>
<text transform="translate(316.30,5.60) scale(0.915,1)" font-size="8.2" text-anchor="middle" font-weight="normal" font-style="normal" fill="#1e1e1e" stroke="#1e1e1e" stroke-width="0.22">22+</text>
<text transform="translate(316.30,15.20) scale(0.915,1)" font-size="8.2" text-anchor="middle" font-weight="normal" font-style="normal" fill="#1e1e1e" stroke="#1e1e1e" stroke-width="0.22">6694.92</text>
<line x1="250.00" y1="147.40" x2="250.00" y2="228.50" stroke="#e3e3e3" stroke-width="1.6"/>
<line x1="247.00" y1="147.40" x2="250.00" y2="147.40" stroke="#9a9a9a" stroke-width="0.9"/>
<line x1="247.00" y1="188.00" x2="250.00" y2="188.00" stroke="#9a9a9a" stroke-width="0.9"/>
<line x1="247.00" y1="228.50" x2="440.00" y2="228.50" stroke="#9c9c9c" stroke-width="1.0"/>
<line x1="288.00" y1="228.50" x2="288.00" y2="231.50" stroke="#9a9a9a" stroke-width="0.9"/>
<line x1="326.00" y1="228.50" x2="326.00" y2="231.50" stroke="#9a9a9a" stroke-width="0.9"/>
<line x1="364.00" y1="228.50" x2="364.00" y2="231.50" stroke="#9a9a9a" stroke-width="0.9"/>
<line x1="402.00" y1="228.50" x2="402.00" y2="231.50" stroke="#9a9a9a" stroke-width="0.9"/>
<text x="246.70" y="151.10" font-size="9.2" text-anchor="end" font-weight="normal" font-style="normal" fill="#1e1e1e" stroke="#1e1e1e" stroke-width="0.22">100</text>
<text x="244.30" y="191.90" font-size="9.2" text-anchor="end" font-weight="normal" font-style="normal" fill="#1e1e1e" stroke="#1e1e1e" stroke-width="0.22">%</text>
<text x="243.60" y="231.40" font-size="9.2" text-anchor="end" font-weight="normal" font-style="normal" fill="#1e1e1e" stroke="#1e1e1e" stroke-width="0.22">0</text>
<text x="233.90" y="135.30" font-size="11" text-anchor="start" font-weight="bold" font-style="normal" fill="#111">f)</text>
<polyline fill="none" stroke="#8a8a8a" stroke-width="0.75" stroke-linejoin="round" points="264.00,228.38 264.25,228.38 264.50,228.37 264.75,228.36 265.00,228.35 265.25,228.34 265.50,228.33 265.75,228.32 266.00,228.31 266.25,228.29 266.50,228.27 266.75,228.24 267.00,228.22 267.25,228.18 267.50,228.14 267.75,228.09 268.00,228.03 268.25,227.96 268.50,227.88 268.75,227.77 269.00,227.66 269.25,227.53 269.50,227.41 269.75,227.33 270.00,227.30 270.25,227.33 270.50,227.41 270.75,227.52 271.00,227.64 271.25,227.75 271.50,227.85 271.75,227.93 272.00,228.00 272.25,228.06 272.50,228.10 272.75,228.14 273.00,228.17 273.25,228.20 273.50,228.22 273.75,228.24 274.00,228.25 274.25,228.26 274.50,228.27 274.75,228.28 275.00,228.28 275.25,228.28 275.50,228.28 275.75,228.29 276.00,228.29 276.25,228.29 276.50,228.29 276.75,228.29 277.00,228.29 277.25,228.29 277.50,228.28 277.75,228.28 278.00,228.27 278.25,228.27 278.50,228.26 278.75,228.26 279.00,228.25 279.25,228.24 279.50,228.22 279.75,228.21 280.00,228.19 280.25,228.17 280.50,228.14 280.75,228.11 281.00,228.07 281.25,228.01 281.50,227.95 281.75,227.85 281.80,227.83 282.00,227.72 282.20,227.58 282.25,227.54 282.50,227.27 282.60,227.14 282.75,226.91 283.00,226.46 283.25,226.08 283.40,226.00 283.50,226.03 283.75,226.35 283.80,226.44 284.00,226.79 284.20,227.10 284.25,227.16 284.50,227.43 284.60,227.52 284.75,227.62 285.00,227.74 285.25,227.83 285.50,227.88 285.75,227.92 285.80,227.93 286.00,227.95 286.25,227.96 286.50,227.97 286.75,227.97 287.00,227.97 287.25,227.96 287.50,227.95 287.75,227.93 288.00,227.91 288.25,227.88 288.50,227.85 288.75,227.81 289.00,227.77 289.25,227.71 289.50,227.65 289.75,227.58 290.00,227.49 290.25,227.38 290.50,227.24 290.75,227.07 291.00,226.85 291.25,226.56 291.50,226.17 291.55,226.08 291.75,225.64 292.00,224.88 292.20,224.01 292.25,223.74 292.50,222.01 292.52,221.79 292.75,219.31 292.85,217.85 293.00,215.22 293.18,211.70 293.25,210.25 293.50,207.60 293.75,210.21 293.82,211.66 294.00,215.16 294.15,217.76 294.25,219.21 294.48,221.66 294.50,221.88 294.75,223.58 294.80,223.83 295.00,224.67 295.25,225.40 295.45,225.81 295.50,225.89 295.75,226.24 296.00,226.49 296.25,226.66 296.50,226.79 296.75,226.87 297.00,226.93 297.25,226.96 297.50,226.97 297.75,226.96 298.00,226.93 298.25,226.88 298.50,226.82 298.75,226.74 299.00,226.63 299.25,226.51 299.50,226.35 299.75,226.16 300.00,225.92 300.25,225.63 300.50,225.26 300.75,224.80 301.00,224.21 301.25,223.44 301.50,222.41 301.65,221.62 301.75,221.00 302.00,219.01 302.25,216.10 302.30,215.36 302.50,211.68 302.62,208.62 302.75,204.79 302.95,196.62 303.00,194.12 303.25,179.44 303.27,177.90 303.50,166.85 303.60,165.40 303.75,168.53 303.93,177.82 304.00,182.46 304.25,196.46 304.50,206.21 304.57,208.39 304.75,212.44 304.90,215.03 305.00,216.42 305.25,219.05 305.50,220.82 305.55,221.11 305.75,222.06 306.00,222.94 306.25,223.58 306.50,224.03 306.75,224.35 307.00,224.56 307.25,224.69 307.50,224.74 307.75,224.71 308.00,224.61 308.25,224.43 308.50,224.15 308.75,223.76 309.00,223.21 309.25,222.44 309.50,221.35 309.75,219.78 309.90,218.49 310.00,217.44 310.23,214.29 310.25,213.85 310.50,208.28 310.55,206.85 310.75,200.08 310.88,195.31 311.00,190.92 311.20,187.40 311.25,187.54 311.50,193.43 311.52,194.29 311.75,201.88 311.85,204.70 312.00,208.05 312.18,210.75 312.25,211.58 312.50,213.14 312.65,213.35 312.75,213.22 313.00,211.94 313.15,210.45 313.25,209.10 313.30,208.29 313.50,204.07 313.62,200.40 313.75,195.70 313.95,185.49 314.00,182.35 314.25,163.76 314.27,161.79 314.50,147.79 314.60,146.00 314.75,150.13 314.93,162.17 315.00,168.18 315.25,186.30 315.50,198.93 315.57,201.74 315.75,207.00 315.90,210.37 316.00,212.17 316.25,215.58 316.50,217.88 316.55,218.24 316.75,219.46 317.00,220.56 317.25,221.32 317.50,221.82 317.75,222.10 318.00,222.19 318.25,222.09 318.50,221.79 318.75,221.25 319.00,220.38 319.05,220.16 319.25,219.06 319.50,217.07 319.70,214.74 319.75,214.02 320.00,209.24 320.02,208.63 320.25,201.69 320.35,197.61 320.50,190.22 320.68,180.33 320.75,176.22 321.00,168.80 321.25,176.26 321.32,180.37 321.50,190.29 321.65,197.69 321.75,201.79 321.98,208.77 322.00,209.38 322.25,214.19 322.30,214.92 322.50,217.28 322.75,219.31 322.95,220.44 323.00,220.67 323.25,221.58 323.50,222.17 323.75,222.52 324.00,222.66 324.25,222.62 324.50,222.38 324.75,221.90 325.00,221.13 325.05,220.94 325.25,219.95 325.50,218.16 325.70,216.07 325.75,215.42 326.00,211.12 326.02,210.57 326.25,204.32 326.35,200.64 326.50,194.00 326.68,185.08 326.75,181.39 327.00,174.70 327.25,181.40 327.32,185.09 327.50,194.01 327.65,200.66 327.75,204.34 327.98,210.59 328.00,211.14 328.25,215.44 328.30,216.09 328.50,218.18 328.75,219.96 328.95,220.93 329.00,221.12 329.25,221.85 329.50,222.27 329.75,222.43 330.00,222.35 330.25,222.00 330.45,221.50 330.50,221.33 330.75,220.23 331.00,218.49 331.10,217.54 331.25,215.75 331.43,212.91 331.50,211.37 331.75,204.45 332.00,194.47 332.07,191.16 332.25,184.53 332.40,182.30 332.50,183.35 332.73,191.28 332.75,192.39 333.00,202.91 333.05,204.70 333.25,210.55 333.38,213.29 333.50,215.46 333.70,218.07 333.75,218.59 334.00,220.63 334.25,221.98 334.35,222.39 334.50,222.89 334.75,223.50 335.00,223.87 335.25,224.06 335.45,224.07 335.50,224.05 335.75,223.85 336.00,223.37 336.10,223.09 336.25,222.52 336.43,221.58 336.50,221.07 336.75,218.70 337.00,215.25 337.07,214.10 337.25,211.79 337.40,211.00 337.50,211.35 337.73,214.06 337.75,214.43 338.00,218.00 338.05,218.59 338.25,220.51 338.38,221.36 338.50,222.00 338.55,222.20 338.70,222.66 338.75,222.77 339.00,223.01 339.20,222.85 339.25,222.76 339.35,222.52 339.50,221.96 339.52,221.85 339.75,220.41 339.85,219.52 340.00,217.87 340.18,215.62 340.25,214.69 340.50,213.00 340.75,214.77 340.82,215.74 341.00,218.06 341.15,219.77 341.25,220.70 341.48,222.26 341.50,222.39 341.75,223.37 341.80,223.50 342.00,223.87 342.25,224.02 342.45,223.91 342.50,223.85 342.75,223.34 342.90,222.83 343.00,222.37 343.23,220.92 343.25,220.71 343.50,217.99 343.55,217.28 343.75,213.88 343.88,211.47 344.00,209.26 344.20,207.60 344.25,207.72 344.50,211.10 344.52,211.59 344.75,215.89 344.85,217.52 345.00,219.54 345.18,221.31 345.25,221.91 345.50,223.41 345.75,224.36 346.00,224.97 346.15,225.23 346.25,225.36 346.50,225.58 346.75,225.68 347.00,225.65 347.25,225.51 347.50,225.23 347.75,224.78 348.00,224.13 348.25,223.26 348.50,222.25 348.75,221.35 349.00,221.00 349.25,221.44 349.50,222.43 349.75,223.54 350.00,224.52 350.25,225.28 350.50,225.86 350.75,226.30 351.00,226.62 351.25,226.87 351.50,227.07 351.75,227.22 352.00,227.34 352.25,227.44 352.50,227.52 352.75,227.58 353.00,227.63 353.25,227.67 353.50,227.70 353.75,227.72 354.00,227.74 354.25,227.74 354.50,227.74 354.75,227.74 355.00,227.72 355.25,227.69 355.50,227.65 355.75,227.60 356.00,227.53 356.25,227.43 356.50,227.29 356.75,227.10 356.90,226.96 357.00,226.85 357.25,226.49 357.35,226.31 357.50,226.00 357.75,225.31 357.80,225.15 358.00,224.40 358.25,223.32 358.50,222.38 358.70,222.10 358.75,222.12 359.00,222.72 359.15,223.34 359.25,223.79 359.50,224.83 359.60,225.20 359.75,225.67 360.00,226.29 360.05,226.38 360.25,226.69 360.50,226.96 360.75,227.15 360.80,227.18 361.00,227.27 361.25,227.34 361.40,227.38 361.50,227.39 361.60,227.41 361.75,227.42 362.00,227.39 362.25,227.39 362.40,227.38 362.50,227.36 362.75,227.34 363.00,227.33 363.20,227.35 363.25,227.35 363.50,227.41 363.75,227.50 364.00,227.60 364.25,227.70 364.50,227.78 364.75,227.82 364.80,227.82 365.00,227.83 365.25,227.83 365.50,227.83 365.60,227.83 365.75,227.83 366.00,227.83 366.25,227.82 366.40,227.82 366.50,227.82 366.75,227.83 367.00,227.81 367.20,227.80 367.25,227.79 367.50,227.77 367.75,227.75 368.00,227.74 368.25,227.74 368.50,227.77 368.70,227.81 368.75,227.82 368.80,227.83 369.00,227.86 369.25,227.87 369.50,227.83 369.60,227.80 369.75,227.74 370.00,227.58 370.05,227.54 370.25,227.34 370.40,227.16 370.50,227.03 370.75,226.65 370.95,226.32 371.00,226.24 371.20,225.99 371.25,225.95 371.40,225.89 371.50,225.91 371.75,226.14 371.85,226.28 372.00,226.49 372.25,226.81 372.30,226.87 372.50,227.06 372.75,227.25 372.80,227.28 373.00,227.39 373.20,227.47 373.25,227.48 373.50,227.53 373.60,227.54 373.75,227.55 374.00,227.57 374.10,227.58 374.25,227.59 374.40,227.60 374.50,227.62 374.75,227.70 375.00,227.83 375.20,227.95 375.25,227.98 375.50,228.12 375.75,228.22 376.00,228.26 376.25,228.26 376.50,228.24 376.75,228.21 376.80,228.20 377.00,228.17 377.25,228.14 377.50,228.13 377.60,228.13 377.75,228.14 378.00,228.16 378.25,228.20 378.40,228.22 378.50,228.24 378.75,228.28 379.00,228.31 379.20,228.32 379.25,228.32 379.50,228.27 379.75,228.17 380.00,228.04 380.25,227.90 380.50,227.80 380.75,227.75 380.80,227.75 381.00,227.75 381.25,227.76 381.50,227.78 381.60,227.79 381.75,227.80 382.00,227.82 382.25,227.83 382.40,227.82 382.50,227.83 382.75,227.88 383.00,227.97 383.20,228.07 383.25,228.09 383.50,228.20 383.75,228.28 384.00,228.30 384.25,228.24 384.50,228.11 384.75,227.92 384.80,227.88 385.00,227.72 385.20,227.57 385.25,227.54 385.50,227.42 385.60,227.40 385.75,227.36 386.00,227.30 386.10,227.27 386.25,227.21 386.40,227.15 386.50,227.09 386.55,227.06 386.75,226.93 387.00,226.70 387.20,226.46 387.25,226.39 387.45,226.13 387.50,226.07 387.75,225.85 387.90,225.83 388.00,225.88 388.25,226.16 388.35,226.31 388.50,226.54 388.75,226.88 388.80,226.93 389.00,227.12 389.25,227.30 389.50,227.44 389.60,227.48 389.70,227.52 389.75,227.54 390.00,227.61 390.25,227.66 390.40,227.68 390.50,227.70 390.60,227.72 390.75,227.76 391.00,227.85 391.20,227.93 391.25,227.95 391.50,228.04 391.75,228.10 392.00,228.12 392.25,228.12 392.50,228.13 392.75,228.14 392.80,228.14 393.00,228.14 393.25,228.12 393.50,228.09 393.60,228.06 393.75,228.01 393.90,227.94 394.00,227.87 394.25,227.66 394.35,227.56 394.40,227.51 394.50,227.39 394.75,227.07 394.80,226.99 395.00,226.69 395.20,226.38 395.25,226.30 395.50,226.01 395.70,225.96 395.75,225.98 396.00,226.28 396.15,226.54 396.25,226.73 396.50,227.15 396.60,227.29 396.75,227.47 396.80,227.52 397.00,227.67 397.05,227.71 397.25,227.81 397.50,227.89 397.60,227.92 397.75,227.95 398.00,227.98 398.25,228.01 398.40,228.03 398.50,228.04 398.75,228.06 399.00,228.07 399.20,228.07 399.25,228.07 399.50,228.07 399.75,228.07 400.00,228.06 400.25,228.07 400.50,228.09 400.75,228.12 400.80,228.12 401.00,228.15 401.25,228.16 401.50,228.15 401.60,228.14 401.75,228.11 402.00,228.03 402.25,227.90 402.40,227.81 402.50,227.74 402.75,227.57 402.90,227.46 403.00,227.39 403.20,227.24 403.25,227.20 403.35,227.11 403.50,226.96 403.75,226.62 403.80,226.54 404.00,226.17 404.25,225.65 404.50,225.19 404.70,225.05 404.75,225.06 404.80,225.08 405.00,225.33 405.15,225.61 405.25,225.80 405.50,226.23 405.60,226.37 405.75,226.55 406.00,226.78 406.05,226.82 406.25,226.95 406.40,227.04 406.50,227.09 406.75,227.23 407.00,227.35 407.20,227.45 407.25,227.47 407.40,227.53 407.50,227.57 407.75,227.63 408.00,227.66 408.25,227.66 408.50,227.64 408.75,227.60 408.80,227.59 409.00,227.54 409.10,227.52 409.25,227.48 409.50,227.41 409.60,227.38 409.75,227.32 409.90,227.26 410.00,227.21 410.25,227.05 410.30,227.01 410.40,226.91 410.50,226.81 410.70,226.53 410.75,226.45 411.00,225.97 411.10,225.76 411.20,225.55 411.25,225.46 411.50,225.19 411.75,225.36 411.90,225.60 412.00,225.78 412.25,226.16 412.30,226.23 412.50,226.42 412.70,226.53 412.75,226.55 412.80,226.56 413.00,226.56 413.10,226.54 413.20,226.50 413.25,226.47 413.50,226.25 413.60,226.12 413.75,225.87 413.90,225.57 414.00,225.36 414.25,224.92 414.40,224.83 414.50,224.89 414.75,225.36 414.80,225.49 415.00,226.00 415.20,226.45 415.25,226.55 415.50,226.96 415.60,227.08 415.75,227.24 416.00,227.42 416.25,227.51 416.50,227.49 416.75,227.41 416.80,227.39 417.00,227.30 417.25,227.19 417.30,227.17 417.50,227.12 417.60,227.10 417.75,227.07 418.00,227.01 418.20,226.94 418.25,226.92 418.40,226.85 418.50,226.78 418.65,226.67 418.75,226.59 419.00,226.30 419.10,226.16 419.20,226.00 419.25,225.92 419.50,225.45 419.55,225.36 419.75,225.03 420.00,224.87 420.25,225.10 420.45,225.48 420.50,225.58 420.75,226.08 420.80,226.17 420.90,226.33 421.00,226.48 421.25,226.79 421.35,226.90 421.50,227.03 421.60,227.11 421.75,227.21 421.80,227.24 422.00,227.35 422.25,227.45 422.40,227.49 422.50,227.52 422.70,227.58 422.75,227.60 423.00,227.70 423.20,227.78 423.25,227.80 423.50,227.90 423.75,227.97 424.00,228.00 424.25,228.02 424.50,228.04 424.75,228.06 424.80,228.06 425.00,228.08 425.25,228.09 425.50,228.10 425.60,228.09 425.75,228.09 426.00,228.08 426.25,228.05 426.40,228.04 426.50,228.03 426.75,228.00 427.00,227.96 427.20,227.93 427.25,227.93 427.50,227.89 427.75,227.87 428.00,227.83 428.10,227.80 428.25,227.76 428.50,227.64 428.55,227.60 428.75,227.44 428.80,227.39 429.00,227.13 429.25,226.67 429.45,226.23 429.50,226.12 429.60,225.91 429.75,225.65 429.90,225.51 430.00,225.50 430.25,225.71 430.35,225.86 430.40,225.95 430.50,226.12 430.75,226.54 430.80,226.61 431.00,226.89 431.20,227.13 431.25,227.18 431.50,227.40 431.70,227.52 431.75,227.55 432.00,227.64 432.25,227.66 432.50,227.62 432.60,227.60 432.75,227.54 432.80,227.53 433.00,227.44 433.25,227.34 433.40,227.28 433.50,227.24 433.60,227.20 433.75,227.15 433.85,227.11 434.00,227.05 434.25,226.93 434.30,226.89 434.40,226.82 434.50,226.74 434.75,226.49 435.00,226.26 435.20,226.19 435.25,226.20 435.50,226.35 435.65,226.50 435.75,226.60 436.00,226.82 436.10,226.89 436.25,226.98 436.50,227.09 436.55,227.11 436.75,227.19 436.80,227.22 437.00,227.30 437.25,227.48 437.50,227.65 437.60,227.71 437.75,227.80 437.90,227.88 438.00,227.93 438.25,228.05 438.40,228.11 438.50,228.16 438.75,228.27 439.00,228.36 439.25,228.37 439.50,228.38"/>
<circle cx="292.40" cy="200.05" r="2.35" fill="#fff" stroke="#111" stroke-width="0.9"/>
<circle cx="292.40" cy="195.15" r="2.35" fill="#fff" stroke="#111" stroke-width="0.9"/>
<circle cx="303.00" cy="159.85" r="2.35" fill="#fff" stroke="#111" stroke-width="0.9"/>
<circle cx="303.00" cy="154.95" r="2.35" fill="#fff" stroke="#111" stroke-width="0.9"/>
<circle cx="314.40" cy="139.85" r="2.35" fill="#fff" stroke="#111" stroke-width="0.9"/>
<circle cx="314.40" cy="134.95" r="2.35" fill="#fff" stroke="#111" stroke-width="0.9"/>
<circle cx="327.40" cy="171.85" r="2.35" fill="#fff" stroke="#111" stroke-width="0.9"/>
<circle cx="327.40" cy="166.95" r="2.35" fill="#fff" stroke="#111" stroke-width="0.9"/>
<circle cx="310.40" cy="183.45" r="2.35" fill="#fff" stroke="#111" stroke-width="0.9"/>
<circle cx="310.40" cy="178.55" r="2.35" fill="#111" stroke="#111" stroke-width="0.9"/>
<circle cx="320.00" cy="165.05" r="2.35" fill="#fff" stroke="#111" stroke-width="0.9"/>
<circle cx="320.00" cy="160.15" r="2.35" fill="#111" stroke="#111" stroke-width="0.9"/>
<circle cx="334.60" cy="178.85" r="2.35" fill="#fff" stroke="#111" stroke-width="0.9"/>
<circle cx="334.60" cy="173.95" r="2.35" fill="#111" stroke="#111" stroke-width="0.9"/>
<circle cx="345.60" cy="201.05" r="2.35" fill="#fff" stroke="#111" stroke-width="0.9"/>
<circle cx="345.60" cy="196.15" r="2.35" fill="#111" stroke="#111" stroke-width="0.9"/>
<circle cx="337.40" cy="208.85" r="2.35" fill="#111" stroke="#111" stroke-width="0.9"/>
<circle cx="337.40" cy="203.95" r="2.35" fill="#111" stroke="#111" stroke-width="0.9"/>
<text transform="translate(301.30,147.70) scale(0.915,1)" font-size="8.2" text-anchor="middle" font-weight="normal" font-style="normal" fill="#1e1e1e" stroke="#1e1e1e" stroke-width="0.22">23+</text>
<text transform="translate(326.50,143.30) scale(0.915,1)" font-size="8.2" text-anchor="middle" font-weight="normal" font-style="normal" fill="#1e1e1e" stroke="#1e1e1e" stroke-width="0.22">25+</text>
<text transform="translate(331.50,153.30) scale(0.915,1)" font-size="8.2" text-anchor="middle" font-weight="normal" font-style="normal" fill="#1e1e1e" stroke="#1e1e1e" stroke-width="0.22">6880.23</text>
<line x1="250.00" y1="274.40" x2="250.00" y2="355.50" stroke="#e3e3e3" stroke-width="1.6"/>
<line x1="247.00" y1="274.40" x2="250.00" y2="274.40" stroke="#9a9a9a" stroke-width="0.9"/>
<line x1="247.00" y1="315.40" x2="250.00" y2="315.40" stroke="#9a9a9a" stroke-width="0.9"/>
<line x1="247.00" y1="355.50" x2="440.00" y2="355.50" stroke="#9c9c9c" stroke-width="1.0"/>
<line x1="288.00" y1="355.50" x2="288.00" y2="358.50" stroke="#9a9a9a" stroke-width="0.9"/>
<line x1="326.00" y1="355.50" x2="326.00" y2="358.50" stroke="#9a9a9a" stroke-width="0.9"/>
<line x1="364.00" y1="355.50" x2="364.00" y2="358.50" stroke="#9a9a9a" stroke-width="0.9"/>
<line x1="402.00" y1="355.50" x2="402.00" y2="358.50" stroke="#9a9a9a" stroke-width="0.9"/>
<text x="246.70" y="278.10" font-size="9.2" text-anchor="end" font-weight="normal" font-style="normal" fill="#1e1e1e" stroke="#1e1e1e" stroke-width="0.22">100</text>
<text x="244.30" y="319.30" font-size="9.2" text-anchor="end" font-weight="normal" font-style="normal" fill="#1e1e1e" stroke="#1e1e1e" stroke-width="0.22">%</text>
<text x="243.60" y="358.40" font-size="9.2" text-anchor="end" font-weight="normal" font-style="normal" fill="#1e1e1e" stroke="#1e1e1e" stroke-width="0.22">0</text>
<text x="233.80" y="257.80" font-size="11" text-anchor="start" font-weight="bold" font-style="normal" fill="#111">g)</text>
<polyline fill="none" stroke="#8a8a8a" stroke-width="0.75" stroke-linejoin="round" points="263.75,355.38 264.00,355.37 264.25,355.37 264.50,355.36 264.75,355.35 265.00,355.33 265.25,355.32 265.50,355.30 265.75,355.28 266.00,355.26 266.25,355.23 266.50,355.20 266.75,355.17 267.00,355.13 267.25,355.08 267.50,355.02 267.75,354.95 268.00,354.86 268.25,354.76 268.50,354.63 268.75,354.48 269.00,354.31 269.25,354.14 269.50,353.97 269.75,353.85 270.00,353.80 270.25,353.84 270.50,353.96 270.75,354.12 271.00,354.29 271.25,354.45 271.50,354.59 271.75,354.72 272.00,354.81 272.25,354.89 272.50,354.96 272.75,355.01 273.00,355.05 273.25,355.09 273.50,355.11 273.75,355.13 274.00,355.15 274.25,355.16 274.50,355.15 274.75,355.16 275.00,355.15 275.25,355.15 275.50,355.14 275.75,355.13 276.00,355.11 276.25,355.09 276.50,355.06 276.75,355.03 277.00,354.99 277.25,354.93 277.50,354.87 277.75,354.79 278.00,354.70 278.25,354.58 278.50,354.44 278.75,354.27 279.00,354.08 279.25,353.88 279.50,353.69 279.75,353.55 280.00,353.50 280.25,353.55 280.50,353.69 280.75,353.87 281.00,354.08 281.25,354.27 281.50,354.44 281.75,354.58 282.00,354.70 282.25,354.80 282.50,354.88 282.75,354.94 283.00,354.99 283.25,355.04 283.50,355.08 283.75,355.11 284.00,355.13 284.25,355.15 284.50,355.17 284.75,355.17 285.00,355.18 285.25,355.19 285.50,355.20 285.75,355.21 286.00,355.21 286.25,355.22 286.50,355.22 286.75,355.22 287.00,355.22 287.25,355.22 287.50,355.22 287.75,355.21 288.00,355.21 288.25,355.20 288.50,355.19 288.75,355.18 289.00,355.17 289.25,355.15 289.50,355.13 289.75,355.11 290.00,355.07 290.25,355.04 290.50,354.98 290.75,354.92 291.00,354.83 291.05,354.81 291.25,354.71 291.50,354.53 291.70,354.34 291.75,354.28 292.00,353.88 292.02,353.83 292.25,353.27 292.35,352.93 292.50,352.34 292.68,351.54 292.75,351.20 293.00,350.60 293.25,351.19 293.32,351.52 293.50,352.31 293.65,352.91 293.75,353.23 293.98,353.79 294.00,353.84 294.25,354.22 294.30,354.28 294.50,354.47 294.75,354.63 294.95,354.72 295.00,354.74 295.25,354.81 295.50,354.86 295.75,354.89 296.00,354.92 296.25,354.93 296.50,354.94 296.75,354.94 297.00,354.93 297.25,354.93 297.50,354.91 297.75,354.89 298.00,354.87 298.25,354.83 298.50,354.80 298.75,354.75 299.00,354.69 299.25,354.62 299.50,354.52 299.75,354.41 300.00,354.25 300.25,354.05 300.50,353.77 300.75,353.37 300.90,353.05 301.00,352.79 301.23,352.00 301.25,351.89 301.50,350.49 301.55,350.14 301.75,348.44 301.88,347.25 302.00,346.16 302.20,345.30 302.25,345.35 302.50,346.90 302.52,347.12 302.75,349.12 302.85,349.87 303.00,350.79 303.18,351.58 303.25,351.83 303.50,352.45 303.60,352.61 303.75,352.78 304.00,352.91 304.15,352.92 304.25,352.89 304.40,352.80 304.50,352.72 304.75,352.37 304.80,352.28 305.00,351.81 305.20,351.15 305.25,350.96 305.50,349.81 305.60,349.30 305.75,348.60 306.00,348.00 306.25,348.45 306.40,349.06 306.50,349.50 306.75,350.46 306.80,350.62 307.00,351.11 307.05,351.19 307.20,351.38 307.25,351.41 307.50,351.42 307.60,351.33 307.70,351.20 307.75,351.11 308.00,350.43 308.02,350.33 308.25,349.22 308.35,348.54 308.40,348.16 308.50,347.31 308.68,345.63 308.75,344.92 309.00,343.50 309.25,344.34 309.32,344.87 309.35,345.05 309.50,346.08 309.65,346.86 309.75,347.19 309.98,347.35 310.00,347.32 310.25,346.42 310.30,346.11 310.32,345.93 310.50,344.31 310.65,342.32 310.75,340.65 310.95,336.68 310.98,336.17 311.00,335.66 311.25,332.12 311.30,332.00 311.50,333.85 311.62,336.26 311.75,338.87 311.95,342.55 312.00,343.31 312.25,346.21 312.27,346.42 312.40,347.34 312.50,347.90 312.60,348.33 312.75,348.76 313.00,349.00 313.25,348.65 313.30,348.50 313.50,347.57 313.60,346.89 313.75,345.58 313.90,344.03 314.00,343.04 314.20,342.00 314.25,342.04 314.50,343.75 314.75,345.96 314.80,346.31 315.00,347.29 315.10,347.56 315.25,347.73 315.35,347.70 315.40,347.64 315.50,347.45 315.75,346.48 316.00,344.66 316.25,341.62 316.32,340.38 316.50,336.68 316.65,332.44 316.75,328.99 316.98,319.90 317.00,318.88 317.25,311.75 317.30,311.50 317.50,315.09 317.62,319.82 317.75,324.98 317.95,332.28 318.00,333.81 318.25,339.70 318.27,340.15 318.50,343.36 318.60,344.39 318.75,345.60 319.00,346.92 319.25,347.62 319.45,347.82 319.50,347.83 319.75,347.57 320.00,346.78 320.10,346.28 320.25,345.28 320.43,343.62 320.50,342.71 320.75,338.51 321.00,332.39 321.07,330.34 321.25,326.23 321.40,324.80 321.50,325.39 321.73,330.08 321.75,330.73 322.00,336.91 322.05,337.94 322.25,341.21 322.38,342.63 322.50,343.67 322.60,344.26 322.70,344.66 322.75,344.80 322.90,344.95 323.00,344.85 323.20,344.14 323.25,343.86 323.35,343.17 323.50,341.91 323.75,340.14 323.80,340.00 324.00,340.30 324.10,340.76 324.25,341.40 324.40,341.70 324.45,341.70 324.50,341.64 324.70,340.88 324.75,340.55 325.00,337.93 325.10,336.37 325.25,333.32 325.43,328.38 325.50,325.69 325.60,321.45 325.75,313.48 326.00,295.81 326.07,289.93 326.25,278.17 326.40,274.20 326.50,276.04 326.73,290.03 326.75,291.98 327.00,310.55 327.05,313.69 327.25,323.97 327.38,328.75 327.50,332.53 327.70,337.00 327.75,337.88 328.00,341.21 328.25,343.19 328.30,343.46 328.35,343.69 328.50,344.15 328.60,344.26 328.75,344.13 328.90,343.60 329.00,343.03 329.20,341.48 329.25,341.07 329.50,340.00 329.75,341.60 329.80,342.12 330.00,344.13 330.10,344.94 330.15,345.28 330.25,345.85 330.40,346.40 330.50,346.59 330.70,346.59 330.75,346.52 330.80,346.41 331.00,345.62 331.12,344.81 331.25,343.70 331.30,343.16 331.45,341.17 331.50,340.38 331.75,335.62 331.77,335.11 332.00,331.48 332.10,331.00 332.25,332.03 332.43,335.09 332.50,336.60 332.75,341.13 333.00,344.16 333.07,344.81 333.25,345.93 333.40,346.56 333.50,346.84 333.75,347.14 334.00,346.97 334.05,346.88 334.25,346.34 334.50,345.20 334.55,344.90 334.75,343.40 335.00,340.64 335.20,337.39 335.25,336.38 335.50,329.72 335.52,328.87 335.75,319.18 335.85,313.48 336.00,303.19 336.18,289.38 336.25,283.66 336.50,273.30 336.75,283.70 336.82,289.43 337.00,303.27 337.15,313.59 337.25,319.31 337.48,329.04 337.50,329.89 337.75,336.59 337.80,337.61 338.00,340.89 338.10,342.16 338.25,343.70 338.45,345.24 338.50,345.54 338.75,346.72 338.90,347.17 339.00,347.37 339.25,347.56 339.30,347.54 339.50,347.27 339.70,346.65 339.75,346.43 340.00,345.07 340.10,344.45 340.25,343.58 340.50,343.00 340.75,344.04 340.90,345.19 341.00,346.02 341.25,347.91 341.30,348.23 341.50,349.34 341.70,350.18 341.75,350.35 342.00,351.04 342.10,351.25 342.25,351.52 342.50,351.83 342.75,352.04 342.90,352.12 343.00,352.15 343.25,352.19 343.50,352.15 343.75,352.05 344.00,351.86 344.25,351.59 344.50,351.20 344.75,350.65 345.00,349.90 345.25,348.84 345.50,347.33 345.75,345.13 345.90,343.30 346.00,341.80 346.23,337.26 346.25,336.63 346.50,328.51 346.55,326.42 346.75,316.49 346.88,309.48 347.00,303.07 347.20,298.20 347.25,298.54 347.50,308.16 347.52,309.55 347.75,321.86 347.85,326.55 348.00,332.35 348.18,337.45 348.25,339.19 348.50,343.57 348.75,346.43 349.00,348.38 349.15,349.26 349.25,349.75 349.50,350.74 349.75,351.48 350.00,352.04 350.25,352.48 350.50,352.83 350.75,353.11 351.00,353.33 351.25,353.52 351.50,353.67 351.75,353.80 352.00,353.90 352.25,353.98 352.50,354.05 352.75,354.11 353.00,354.15 353.25,354.18 353.50,354.20 353.75,354.21 354.00,354.20 354.25,354.19 354.50,354.15 354.75,354.11 355.00,354.04 355.25,353.95 355.50,353.83 355.75,353.67 356.00,353.45 356.25,353.17 356.50,352.79 356.75,352.26 357.00,351.52 357.25,350.43 357.40,349.54 357.50,348.80 357.73,346.58 357.75,346.27 358.00,342.30 358.05,341.29 358.25,336.43 358.38,333.01 358.50,329.88 358.70,327.50 358.75,327.66 359.00,332.36 359.02,333.04 359.25,339.05 359.35,341.34 359.50,344.17 359.68,346.66 359.75,347.51 360.00,349.65 360.25,351.05 360.50,352.00 360.65,352.43 360.75,352.67 361.00,353.16 361.25,353.52 361.50,353.80 361.75,354.01 362.00,354.18 362.25,354.33 362.50,354.44 362.75,354.53 363.00,354.61 363.25,354.68 363.50,354.74 363.75,354.79 364.00,354.83 364.25,354.86 364.50,354.89 364.75,354.92 365.00,354.94 365.25,354.96 365.50,354.97 365.75,354.98 366.00,354.99 366.25,355.00 366.50,355.00 366.75,355.00 367.00,355.00 367.25,354.99 367.50,354.97 367.75,354.96 368.00,354.93 368.25,354.89 368.50,354.85 368.75,354.79 369.00,354.70 369.25,354.59 369.50,354.45 369.55,354.41 369.75,354.23 370.00,353.92 370.20,353.57 370.25,353.46 370.50,352.74 370.52,352.64 370.75,351.60 370.85,350.99 371.00,349.89 371.18,348.42 371.25,347.81 371.50,346.70 371.75,347.81 371.82,348.43 372.00,349.91 372.15,351.02 372.25,351.63 372.48,352.68 372.50,352.77 372.75,353.50 372.80,353.61 373.00,353.97 373.25,354.29 373.45,354.48 373.50,354.52 373.75,354.68 374.00,354.80 374.25,354.89 374.50,354.97 374.75,355.02 375.00,355.07 375.25,355.11 375.50,355.14 375.75,355.16 376.00,355.18 376.25,355.20 376.50,355.22 376.75,355.23 377.00,355.24 377.25,355.25 377.50,355.26 377.75,355.27 378.00,355.28 378.25,355.28 378.50,355.30 378.75,355.30 379.00,355.30 379.25,355.30 379.50,355.30 379.75,355.30 380.00,355.30 380.25,355.30 380.50,355.29 380.75,355.28 381.00,355.27 381.20,355.26 381.25,355.26 381.50,355.25 381.75,355.23 382.00,355.20 382.20,355.17 382.25,355.17 382.50,355.12 382.70,355.08 382.75,355.07 383.00,354.99 383.20,354.91 383.25,354.89 383.50,354.76 383.60,354.70 383.70,354.64 383.75,354.60 384.00,354.43 384.05,354.40 384.20,354.30 384.25,354.27 384.50,354.10 384.70,353.95 384.75,353.91 384.95,353.73 385.00,353.68 385.20,353.53 385.25,353.51 385.40,353.50 385.50,353.54 385.70,353.72 385.75,353.79 385.85,353.92 386.00,354.12 386.20,354.37 386.25,354.42 386.30,354.48 386.50,354.66 386.75,354.84 387.00,354.96 387.20,355.04 387.25,355.06 387.50,355.13 387.75,355.18 388.00,355.22 388.10,355.24 388.25,355.25 388.50,355.29 388.75,355.31 389.00,355.33 389.25,355.35 389.50,355.36 389.75,355.37 390.00,355.38 390.25,355.39"/>
<polyline fill="none" stroke="#8a8a8a" stroke-width="0.75" stroke-linejoin="round" points="392.00,355.42 392.25,355.35 392.50,355.27 392.75,355.18 392.80,355.16 393.00,355.08 393.25,354.97 393.50,354.87 393.60,354.83 393.75,354.78 394.00,354.68 394.25,354.68 394.40,354.68 394.50,354.68 394.75,354.68 395.00,354.68 395.20,354.68 395.25,354.68 395.50,354.73 395.75,354.82 396.00,354.95 396.25,355.07 396.50,355.16 396.75,355.21 396.80,355.21 397.00,355.22 397.25,355.24 397.50,355.26 397.60,355.28 397.75,355.30 398.00,355.33 398.25,355.34 398.40,355.35 398.50,355.34 398.75,355.31 399.00,355.23 399.20,355.17 399.25,355.16 399.50,355.07 399.75,355.01 400.00,354.99 400.25,355.00 400.50,355.02 400.75,355.04 400.80,355.04 401.00,355.06 401.25,355.08 401.50,355.09 401.60,355.09 401.75,355.08 402.00,355.02 402.25,354.90 402.40,354.83 402.50,354.77 402.75,354.66 403.00,354.58 403.20,354.56 403.25,354.56 403.50,354.57 403.75,354.59 404.00,354.62 404.25,354.65 404.50,354.67 404.75,354.68 404.80,354.68 405.00,354.68 405.25,354.69 405.50,354.71 405.60,354.72 405.75,354.73 406.00,354.75 406.25,354.76 406.40,354.76 406.50,354.76 406.75,354.77 407.00,354.77 407.20,354.78 407.25,354.78 407.50,354.79 407.75,354.80 408.00,354.80 408.25,354.79 408.50,354.77 408.75,354.75 408.80,354.74 409.00,354.72 409.25,354.70 409.50,354.69 409.60,354.69 409.75,354.70 410.00,354.76 410.25,354.86 410.40,354.94 410.50,354.98 410.75,355.10 411.00,355.17 411.20,355.18 411.25,355.18 411.50,355.15 411.75,355.09 412.00,355.02 412.25,354.94 412.50,354.88 412.75,354.84 412.80,354.84 413.00,354.83 413.25,354.86 413.50,354.90 413.60,354.91 413.75,354.94 414.00,354.96 414.10,354.96 414.25,354.95 414.40,354.92 414.50,354.89 414.75,354.73 414.90,354.59 415.00,354.48 415.20,354.21 415.25,354.14 415.30,354.07 415.50,353.74 415.70,353.39 415.75,353.30 416.00,352.83 416.10,352.66 416.25,352.45 416.50,352.38 416.75,352.78 416.80,352.89 416.90,353.15 417.00,353.41 417.25,354.00 417.30,354.09 417.50,354.40 417.60,354.51 417.70,354.59 417.75,354.62 418.00,354.68 418.10,354.67 418.25,354.63 418.40,354.56 418.50,354.52 418.75,354.40 418.90,354.35 419.00,354.33 419.20,354.33 419.25,354.33 419.50,354.42 419.75,354.57 420.00,354.75 420.25,354.93 420.50,355.07 420.75,355.13 420.80,355.13 421.00,355.10 421.25,355.01 421.50,354.86 421.60,354.79 421.75,354.70 422.00,354.55 422.25,354.44 422.40,354.41 422.50,354.40 422.75,354.39 422.90,354.39 423.00,354.40 423.20,354.40 423.25,354.40 423.50,354.37 423.70,354.30 423.75,354.27 424.00,354.07 424.10,353.95 424.25,353.74 424.50,353.28 424.75,352.64 424.80,352.50 424.90,352.21 425.00,351.94 425.25,351.52 425.30,351.50 425.50,351.70 425.60,351.92 425.70,352.18 425.75,352.32 426.00,352.93 426.10,353.12 426.25,353.36 426.40,353.53 426.50,353.62 426.75,353.78 426.90,353.85 427.00,353.90 427.20,353.98 427.25,354.01 427.50,354.17 427.70,354.34 427.75,354.38 428.00,354.63 428.25,354.86 428.50,355.04 428.75,355.13 428.80,355.13 429.00,355.15 429.25,355.15 429.50,355.15 429.60,355.15 429.75,355.14 430.00,355.14 430.25,355.13 430.40,355.13 430.50,355.12 430.75,355.02 431.00,354.84 431.20,354.66 431.25,354.61 431.50,354.39 431.75,354.22 432.00,354.13 432.20,354.10 432.25,354.10 432.50,354.09 432.75,354.08 432.80,354.07 433.00,354.03 433.25,353.90 433.40,353.77 433.50,353.65 433.60,353.50 433.75,353.23 433.80,353.14 434.00,352.70 434.20,352.21 434.25,352.09 434.40,351.80 434.50,351.69 434.60,351.68 434.75,351.85 435.00,352.49 435.20,353.06 435.25,353.19 435.40,353.51 435.50,353.68 435.75,353.92 435.80,353.94 436.00,353.98 436.20,353.97 436.25,353.97 436.50,353.94 436.75,353.97 436.80,353.99 437.00,354.05 437.25,354.25 437.50,354.43 437.60,354.50 437.75,354.61 438.00,354.77 438.25,354.93 438.40,355.02 438.50,355.08 438.75,355.24 439.00,355.37 439.25,355.39"/>
<circle cx="326.30" cy="270.45" r="2.35" fill="#111" stroke="#111" stroke-width="0.9"/>
<circle cx="326.30" cy="265.55" r="2.35" fill="#111" stroke="#111" stroke-width="0.9"/>
<circle cx="336.50" cy="266.75" r="2.35" fill="#111" stroke="#111" stroke-width="0.9"/>
<circle cx="336.50" cy="261.85" r="2.35" fill="#111" stroke="#111" stroke-width="0.9"/>
<circle cx="317.30" cy="307.75" r="2.35" fill="#111" stroke="#111" stroke-width="0.9"/>
<circle cx="317.30" cy="302.85" r="2.35" fill="#111" stroke="#111" stroke-width="0.9"/>
<circle cx="347.50" cy="293.25" r="2.35" fill="#111" stroke="#111" stroke-width="0.9"/>
<circle cx="347.50" cy="288.35" r="2.35" fill="#111" stroke="#111" stroke-width="0.9"/>
<circle cx="358.40" cy="322.85" r="2.35" fill="#111" stroke="#111" stroke-width="0.9"/>
<circle cx="358.40" cy="317.95" r="2.35" fill="#111" stroke="#111" stroke-width="0.9"/>
<circle cx="371.10" cy="340.25" r="2.35" fill="#111" stroke="#111" stroke-width="0.9"/>
<circle cx="371.10" cy="335.35" r="2.35" fill="#111" stroke="#111" stroke-width="0.9"/>
<circle cx="311.10" cy="326.45" r="2.35" fill="#fff" stroke="#111" stroke-width="0.9"/>
<circle cx="311.10" cy="321.55" r="2.35" fill="#111" stroke="#111" stroke-width="0.9"/>
<circle cx="321.80" cy="320.15" r="2.35" fill="#fff" stroke="#111" stroke-width="0.9"/>
<circle cx="321.80" cy="315.25" r="2.35" fill="#111" stroke="#111" stroke-width="0.9"/>
<circle cx="332.40" cy="327.85" r="2.35" fill="#fff" stroke="#111" stroke-width="0.9"/>
<circle cx="332.40" cy="322.95" r="2.35" fill="#111" stroke="#111" stroke-width="0.9"/>
<text transform="translate(339.00,242.30) scale(0.915,1)" font-size="8.2" text-anchor="middle" font-weight="normal" font-style="normal" fill="#1e1e1e" stroke="#1e1e1e" stroke-width="0.22">27+</text>
<text transform="translate(339.50,251.20) scale(0.915,1)" font-size="8.2" text-anchor="middle" font-weight="normal" font-style="normal" fill="#1e1e1e" stroke="#1e1e1e" stroke-width="0.22">7280.95</text>
<polyline fill="none" stroke="#9a9a9a" stroke-width="0.9" points="308.0,376.2 312.0,372.4 357.6,372.4"/>
<polyline fill="none" stroke="#9a9a9a" stroke-width="0.9" points="386.0,372.4 433.0,372.4 437.0,376.2"/>
<text transform="translate(371.00,375.00) scale(0.915,1)" font-size="8.2" text-anchor="middle" font-weight="normal" font-style="normal" fill="#8a8a8a">× 10</text>
<line x1="250.00" y1="408.00" x2="250.00" y2="489.50" stroke="#e3e3e3" stroke-width="1.6"/>
<line x1="247.00" y1="408.00" x2="250.00" y2="408.00" stroke="#9a9a9a" stroke-width="0.9"/>
<line x1="247.00" y1="448.40" x2="250.00" y2="448.40" stroke="#9a9a9a" stroke-width="0.9"/>
<line x1="247.00" y1="489.50" x2="440.00" y2="489.50" stroke="#9c9c9c" stroke-width="1.0"/>
<line x1="288.00" y1="489.50" x2="288.00" y2="492.50" stroke="#9a9a9a" stroke-width="0.9"/>
<line x1="326.00" y1="489.50" x2="326.00" y2="492.50" stroke="#9a9a9a" stroke-width="0.9"/>
<line x1="364.00" y1="489.50" x2="364.00" y2="492.50" stroke="#9a9a9a" stroke-width="0.9"/>
<line x1="402.00" y1="489.50" x2="402.00" y2="492.50" stroke="#9a9a9a" stroke-width="0.9"/>
<text x="246.70" y="411.70" font-size="9.2" text-anchor="end" font-weight="normal" font-style="normal" fill="#1e1e1e" stroke="#1e1e1e" stroke-width="0.22">100</text>
<text x="244.30" y="452.30" font-size="9.2" text-anchor="end" font-weight="normal" font-style="normal" fill="#1e1e1e" stroke="#1e1e1e" stroke-width="0.22">%</text>
<text x="243.60" y="492.40" font-size="9.2" text-anchor="end" font-weight="normal" font-style="normal" fill="#1e1e1e" stroke="#1e1e1e" stroke-width="0.22">0</text>
<text x="288.00" y="500.70" font-size="9.2" text-anchor="middle" font-weight="normal" font-style="normal" fill="#1e1e1e" stroke="#1e1e1e" stroke-width="0.22">6000</text>
<text x="326.00" y="500.70" font-size="9.2" text-anchor="middle" font-weight="normal" font-style="normal" fill="#1e1e1e" stroke="#1e1e1e" stroke-width="0.22">7000</text>
<text x="364.00" y="500.70" font-size="9.2" text-anchor="middle" font-weight="normal" font-style="normal" fill="#1e1e1e" stroke="#1e1e1e" stroke-width="0.22">8000</text>
<text x="402.00" y="500.70" font-size="9.2" text-anchor="middle" font-weight="normal" font-style="normal" fill="#1e1e1e" stroke="#1e1e1e" stroke-width="0.22">9000</text>
<text x="233.80" y="383.20" font-size="11" text-anchor="start" font-weight="bold" font-style="normal" fill="#111">h)</text>
<text x="443.40" y="499.80" font-size="9.2" text-anchor="middle" font-weight="normal" font-style="normal" fill="#1e1e1e" stroke="#1e1e1e" stroke-width="0.22">m/z</text>
<polyline fill="none" stroke="#a0a0a0" stroke-width="0.75" stroke-linejoin="round" points="256.00,489.45 256.20,489.05 256.25,487.85 256.30,484.52 256.35,477.62 256.40,467.34 256.45,457.28 256.50,453.00 256.55,457.28 256.60,467.34 256.65,477.62 256.70,484.52 256.75,487.85 256.80,489.05 257.00,489.46"/>
<polyline fill="none" stroke="#a0a0a0" stroke-width="0.75" stroke-linejoin="round" points="261.50,489.46 261.75,489.32 262.00,488.96 262.25,488.20 262.50,487.07 262.75,485.97 263.00,485.50 263.25,485.97 263.50,487.07 263.75,488.20 264.00,488.96 264.25,489.32 264.50,489.46"/>
<polyline fill="none" stroke="#a0a0a0" stroke-width="0.75" stroke-linejoin="round" points="266.10,489.39 266.25,489.25 266.50,488.66 266.60,488.21 266.75,487.26 266.85,486.42 267.00,484.88 267.10,483.74 267.25,482.06 267.35,481.12 267.50,480.19 267.60,480.00 267.75,480.42 267.85,481.12 268.00,482.60 268.10,483.74 268.25,485.42 268.35,486.42 268.50,487.62 268.60,488.21 268.75,488.83 269.00,489.31 269.10,489.39"/>
<polyline fill="none" stroke="#a0a0a0" stroke-width="0.75" stroke-linejoin="round" points="270.50,489.41 270.75,489.13 271.00,488.35 271.25,486.74 271.50,484.34 271.75,482.00 272.00,481.00 272.25,482.00 272.50,484.34 272.75,486.74 273.00,488.35 273.25,489.13 273.50,489.41"/>
<polyline fill="none" stroke="#a0a0a0" stroke-width="0.75" stroke-linejoin="round" points="280.25,489.42 280.50,489.31 280.75,489.09 281.00,488.70 281.25,488.08 281.40,487.58 281.50,487.21 281.75,486.14 281.80,485.92 282.00,485.05 282.20,484.29 282.25,484.14 282.50,483.65 282.60,483.60 282.75,483.70 283.00,484.29 283.25,485.26 283.40,485.92 283.50,486.37 283.75,487.40 283.80,487.58 284.00,488.22 284.20,488.70 284.25,488.80 284.50,489.15 284.75,489.34 285.00,489.43"/>
<polyline fill="none" stroke="#a0a0a0" stroke-width="0.75" stroke-linejoin="round" points="291.00,489.43 291.25,489.34 291.50,489.15 291.75,488.80 291.80,488.70 292.00,488.22 292.20,487.58 292.25,487.40 292.50,486.37 292.60,485.92 292.75,485.26 293.00,484.29 293.25,483.70 293.40,483.60 293.50,483.65 293.75,484.14 293.80,484.29 294.00,485.05 294.20,485.92 294.25,486.14 294.50,487.21 294.60,487.58 294.75,488.08 295.00,488.70 295.25,489.09 295.50,489.31 295.75,489.42"/>
<polyline fill="none" stroke="#a0a0a0" stroke-width="0.75" stroke-linejoin="round" points="300.75,489.44 301.00,489.37 301.25,489.23 301.40,489.09 301.50,488.98 301.75,488.61 301.80,488.53 302.00,488.13 302.20,487.68 302.25,487.57 302.50,487.03 302.60,486.85 302.75,486.64 303.00,486.50 303.25,486.64 303.40,486.85 303.50,487.03 303.75,487.57 303.80,487.68 304.00,488.13 304.20,488.53 304.25,488.61 304.50,488.98 304.60,489.09 304.75,489.23 305.00,489.37 305.25,489.44"/>
<line x1="256.50" y1="453.50" x2="256.50" y2="489.50" stroke="#929292" stroke-width="0.9"/>
<polyline fill="none" stroke="#8a8a8a" stroke-width="0.75" stroke-linejoin="round" points="306.00,485.00 306.25,485.43 306.50,486.13 306.75,486.68 307.00,487.09 307.25,487.44 307.50,487.76 307.75,488.05 308.00,488.32 308.25,488.54 308.50,488.73 308.75,488.88 309.00,488.97 309.10,488.98 309.25,488.97 309.50,488.84 309.75,488.51 309.90,488.19 310.00,487.90 310.25,486.94 310.30,486.70 310.50,485.60 310.70,484.30 310.75,483.95 311.00,481.96 311.10,480.99 311.25,479.10 311.50,475.90 311.75,479.11 311.90,481.00 312.00,481.97 312.25,483.96 312.30,484.32 312.50,485.63 312.70,486.74 312.75,486.98 313.00,487.97 313.10,488.27 313.25,488.62 313.50,489.00 313.75,489.20 313.90,489.26 314.00,489.29 314.25,489.31 314.50,489.27 314.75,489.16 315.00,488.92 315.25,488.49 315.30,488.37 315.50,487.79 315.70,486.99 315.75,486.76 316.00,485.42 316.10,484.81 316.25,483.81 316.50,481.80 316.75,478.64 316.90,477.20 317.00,477.93 317.25,481.30 317.30,481.80 317.50,483.45 317.70,484.80 317.75,485.12 318.00,486.51 318.10,486.99 318.25,487.60 318.50,488.37 318.75,488.84 319.00,489.11 319.25,489.23 319.30,489.24 319.50,489.25 319.75,489.17 320.00,488.99 320.25,488.64 320.30,488.54 320.50,488.06 320.70,487.40 320.75,487.21 321.00,486.10 321.10,485.59 321.25,484.77 321.50,483.11 321.75,480.49 321.90,479.30 322.00,479.90 322.25,482.69 322.30,483.10 322.50,484.46 322.70,485.58 322.75,485.84 323.00,486.99 323.10,487.38 323.25,487.89 323.50,488.52 323.75,488.91 324.00,489.12 324.25,489.20 324.30,489.20 324.50,489.18 324.60,489.15 324.75,489.05 325.00,488.75 325.25,488.18 325.40,487.65 325.50,487.21 325.75,485.72 325.80,485.36 326.00,483.69 326.20,481.73 326.25,481.19 326.50,478.20 326.60,476.74 326.75,473.91 327.00,469.10 327.25,473.90 327.40,476.73 327.50,478.18 327.75,481.16 327.80,481.69 328.00,483.65 328.20,485.29 328.25,485.65 328.50,487.09 328.60,487.50 328.75,487.96 328.80,488.08 329.00,488.33 329.25,488.21 329.40,487.90 329.50,487.58 329.60,487.17 329.75,486.36 330.00,484.47 330.25,481.91 330.40,480.11 330.50,478.80 330.75,475.02 330.80,474.11 331.00,469.28 331.20,464.90 331.25,465.30 331.50,471.97 331.60,474.11 331.75,476.66 332.00,480.12 332.25,483.03 332.40,484.49 332.50,485.34 332.75,487.00 332.80,487.25 333.00,488.05 333.25,488.64 333.40,488.83 333.50,488.90 333.60,488.93 333.75,488.92 334.00,488.74 334.20,488.44 334.25,488.33 334.50,487.67 334.60,487.32 334.75,486.73 335.00,485.54 335.25,484.12 335.40,483.08 335.50,482.20 335.75,479.47 335.80,479.30 336.00,481.09 336.20,483.06 336.25,483.43 336.50,484.97 336.60,485.50 336.75,486.23 337.00,487.25 337.25,487.99 337.40,488.29 337.50,488.42 337.70,488.52 337.75,488.51 338.00,488.23 338.20,487.63 338.25,487.42 338.50,485.90 338.75,483.43 338.90,481.43 339.00,479.89 339.25,475.36 339.30,474.35 339.50,469.95 339.70,464.62 339.75,462.99 340.00,452.07 340.10,449.70 340.25,454.35 340.50,464.54 340.75,470.94 340.80,472.03 340.90,474.09 341.00,476.00 341.25,480.04 341.30,480.70 341.50,482.83 341.70,484.08 341.75,484.26 342.00,484.39 342.15,483.93 342.25,483.43 342.50,481.66 342.60,480.78 342.75,479.31 343.00,476.35 343.05,475.64 343.25,471.95 343.50,467.50 343.75,471.97 343.95,475.70 344.00,476.42 344.25,479.47 344.40,481.03 344.50,482.01 344.75,484.17 344.85,484.92 345.00,485.90 345.25,487.16 345.30,487.36 345.50,488.01 345.75,488.52 346.00,488.79 346.20,488.88 346.25,488.89 346.50,488.88 346.70,488.81 346.75,488.77 347.00,488.55 347.25,488.17 347.50,487.58 347.75,486.71 347.90,486.03 348.00,485.49 348.25,483.85 348.50,481.76 348.75,479.20 349.00,476.19 349.10,474.86 349.20,473.45 349.25,472.71 349.50,468.61 349.70,464.54 349.75,463.34 350.00,455.67 350.10,451.90 350.25,447.20 350.30,446.40 350.50,447.57 350.55,448.38 350.75,450.77 350.90,451.26 351.00,451.10 351.25,449.47 351.45,446.82 351.50,445.85 351.75,438.10 351.90,435.40 352.00,438.57 352.10,444.13 352.25,452.00 352.35,456.19 352.50,461.37 352.70,467.15 352.75,468.46 352.80,469.72 353.00,474.36 353.25,479.14 353.50,482.76 353.70,484.87 353.75,485.30 353.90,486.37 354.00,486.94 354.25,487.92 354.50,488.46 354.60,488.60 354.75,488.75 355.00,488.89 355.25,488.96 355.50,488.99 355.75,489.00 356.00,488.99 356.25,488.97 356.50,488.92 356.75,488.83 357.00,488.70 357.25,488.48 357.50,488.15 357.75,487.66 358.00,486.94 358.25,485.92 358.50,484.52 358.70,483.08 358.75,482.67 359.00,480.29 359.25,477.32 359.43,474.89 359.50,473.76 359.75,469.62 360.00,464.96 360.15,461.93 360.25,459.82 360.50,454.20 360.75,447.84 360.88,444.16 361.00,439.95 361.25,429.26 361.50,418.33 361.60,416.90 361.75,419.98 362.00,431.64 362.25,441.70 362.32,444.15 362.50,449.18 362.75,455.35 363.00,460.87 363.05,461.91 363.25,465.90 363.50,470.46 363.75,474.48 363.77,474.85 364.00,477.92 364.25,480.76 364.50,483.03 364.75,484.78 365.00,486.08 365.25,487.02 365.50,487.68 365.75,488.12 365.95,488.36 366.00,488.41 366.25,488.57 366.50,488.65 366.75,488.66 367.00,488.59 367.25,488.43 367.35,488.34 367.50,488.16 367.75,487.74 368.00,487.11 368.25,486.20 368.50,484.93 368.75,483.21 368.80,482.81 369.00,480.97 369.25,478.15 369.50,474.72 369.52,474.34 369.75,470.67 370.00,466.05 370.25,460.93 370.50,455.32 370.75,449.10 370.98,442.53 371.00,441.71 371.25,431.92 371.50,419.63 371.70,414.30 371.75,414.68 372.00,424.57 372.25,436.23 372.43,442.54 372.50,444.88 372.75,451.70 373.00,457.65 373.15,460.95 373.25,463.06 373.50,467.99 373.75,472.39 373.88,474.37 374.00,476.20 374.25,479.40 374.50,481.99 374.60,482.86 374.75,484.01 375.00,485.55 375.25,486.67 375.50,487.47 375.75,488.02 376.00,488.39 376.05,488.45 376.25,488.63 376.50,488.77 376.75,488.85 377.00,488.86 377.25,488.83 377.45,488.77 377.50,488.74 377.75,488.58 378.00,488.33 378.25,487.94 378.50,487.40 378.75,486.65 378.90,486.09 379.00,485.66 379.25,484.39 379.50,482.82 379.62,481.92 379.75,480.95 380.00,478.78 380.25,476.35 380.35,475.31 380.50,473.68 380.75,470.75 381.00,467.39 381.07,466.23 381.25,463.12 381.50,457.37 381.75,452.49 381.80,452.30 382.00,454.93 382.25,461.01 382.50,465.85 382.52,466.25 382.75,469.50 383.00,472.58 383.25,475.35 383.50,477.88 383.75,480.17 383.98,481.98 384.00,482.17 384.25,483.87 384.50,485.26 384.70,486.17 384.75,486.37 385.00,487.22 385.25,487.85 385.50,488.30 385.75,488.61 386.00,488.81 386.15,488.88 386.25,488.92 386.50,488.96 386.75,488.95 387.00,488.87 387.25,488.71 387.50,488.48 387.75,488.14 387.90,487.88 388.00,487.68 388.25,487.08 388.50,486.33 388.60,485.99 388.75,485.43 389.00,484.40 389.25,483.23 389.30,482.98 389.50,481.95 389.75,480.53 390.00,478.85 390.25,476.63 390.50,473.77 390.70,472.50 390.75,472.59 391.00,474.94 391.25,477.62 391.40,478.87 391.50,479.59 391.75,481.14 392.00,482.51 392.10,483.02 392.25,483.75 392.50,484.87 392.75,485.87 392.80,486.05 393.00,486.71 393.25,487.41 393.50,487.96 393.75,488.39 394.00,488.70 394.25,488.92 394.50,489.08 394.75,489.18 394.90,489.23 395.00,489.25 395.25,489.29 395.50,489.32 395.75,489.32 396.00,489.32 396.10,489.31 396.25,489.30 396.50,489.27 396.75,489.21 397.00,489.12 397.25,489.00 397.50,488.83 397.75,488.61 398.00,488.33 398.20,488.06 398.25,487.99 398.50,487.59 398.75,487.14 398.90,486.85 399.00,486.64 399.25,486.09 399.50,485.46 399.60,485.17 399.75,484.67 400.00,483.59 400.25,482.64 400.30,482.60 400.50,483.12 400.75,484.27 401.00,485.18 401.25,485.86 401.50,486.43 401.70,486.86 401.75,486.96 402.00,487.43 402.25,487.85 402.40,488.07 402.50,488.21 402.75,488.51 403.00,488.74 403.10,488.76 403.25,488.78 403.50,488.73 403.75,488.56 404.00,488.26 404.25,487.87 404.50,487.40 404.75,486.88 405.00,486.28 405.25,485.80 405.50,485.21 405.75,484.33 406.00,483.54 406.25,484.33 406.50,485.16 406.75,485.70 407.00,486.14 407.25,486.53 407.50,486.88 407.75,487.23 408.00,487.62 408.25,488.00 408.50,488.32 408.75,488.55 409.00,488.65 409.25,488.66 409.50,488.65 409.60,488.64 409.75,488.62 410.00,488.56 410.25,488.48 410.40,488.41 410.50,488.35 410.75,488.16 410.80,488.12 411.00,487.92 411.20,487.68 411.25,487.62 411.50,487.26 411.60,487.08 411.75,486.72 412.00,486.09 412.25,486.72 412.40,487.08 412.50,487.26 412.75,487.63 412.80,487.69 413.00,487.93 413.20,488.13 413.25,488.18 413.50,488.37 413.60,488.42 413.75,488.45 414.00,488.39 414.25,488.25 414.40,488.16 414.50,488.10 414.75,487.97 415.00,487.93 415.25,487.98 415.50,488.13 415.60,488.21 415.75,488.33 416.00,488.50 416.25,488.59 416.40,488.57 416.50,488.52 416.75,488.31 416.80,488.25 417.00,487.96 417.20,487.61 417.25,487.51 417.50,487.01 417.60,486.78 417.75,486.38 418.00,485.76 418.25,486.37 418.40,486.76 418.50,486.98 418.75,487.45 418.80,487.54 419.00,487.87 419.20,488.14 419.25,488.20 419.50,488.41 419.60,488.46 419.75,488.52 420.00,488.57 420.25,488.58 420.40,488.58 420.50,488.57 420.75,488.56 421.00,488.55 421.25,488.54 421.50,488.50 421.60,488.47 421.75,488.43 422.00,488.35 422.25,488.25 422.40,488.18 422.50,488.13 422.75,487.92 422.80,487.87 423.00,487.59 423.20,487.26 423.25,487.17 423.50,486.69 423.60,486.48 423.75,486.11 424.00,485.53 424.25,486.09 424.40,486.44 424.50,486.63 424.75,487.05 424.80,487.12 425.00,487.41 425.20,487.64 425.25,487.69 425.50,487.88 425.60,487.94 425.75,488.05 426.00,488.26 426.25,488.51 426.40,488.65 426.50,488.73 426.75,488.89 427.00,488.95 427.25,488.92 427.50,488.85 427.60,488.81 427.75,488.74 428.00,488.61 428.25,488.47 428.40,488.39 428.50,488.33 428.75,488.16 428.80,488.12 429.00,487.94 429.20,487.74 429.25,487.68 429.50,487.36 429.60,487.20 429.75,486.87 430.00,486.29 430.25,486.82 430.40,487.06 430.50,487.15 430.75,487.27 430.80,487.28 431.00,487.32 431.20,487.37 431.25,487.38 431.50,487.50 431.60,487.55 431.75,487.62 432.00,487.71 432.25,487.77 432.40,487.79 432.50,487.81 432.75,487.83 433.00,487.84 433.25,487.84 433.50,487.83 433.60,487.83 433.75,487.82 434.00,487.79 434.25,487.73 434.40,487.67 434.50,487.62 434.75,487.46 434.80,487.42 435.00,487.24 435.20,487.02 435.25,486.96 435.50,486.63 435.60,486.47 435.75,486.16 436.00,485.64 436.25,486.17 436.40,486.49 436.50,486.65 436.75,487.00 436.80,487.07 437.00,487.30 437.20,487.66 437.25,487.74 437.50,488.10 437.60,488.22 437.75,488.38 438.00,488.61 438.25,488.82 438.40,488.95 438.50,489.03 438.75,489.25 439.00,489.48"/>
<circle cx="325.40" cy="466.45" r="2.35" fill="#111" stroke="#111" stroke-width="0.9"/>
<circle cx="325.40" cy="461.55" r="2.35" fill="#111" stroke="#111" stroke-width="0.9"/>
<circle cx="335.00" cy="454.00" r="2.20" fill="#111" stroke="#111" stroke-width="0.4"/>
<circle cx="331.40" cy="455.10" r="2.20" fill="#111" stroke="#111" stroke-width="0.4"/>
<circle cx="331.90" cy="459.20" r="2.20" fill="#111" stroke="#111" stroke-width="0.4"/>
<circle cx="333.20" cy="454.80" r="1.60" fill="#111" stroke="#111" stroke-width="0"/>
<circle cx="344.00" cy="440.40" r="2.20" fill="#111" stroke="#111" stroke-width="0.4"/>
<circle cx="340.40" cy="441.50" r="2.20" fill="#111" stroke="#111" stroke-width="0.4"/>
<circle cx="340.90" cy="445.60" r="2.20" fill="#111" stroke="#111" stroke-width="0.4"/>
<circle cx="342.20" cy="441.20" r="1.60" fill="#111" stroke="#111" stroke-width="0"/>
<circle cx="349.80" cy="426.10" r="2.40" fill="#111" stroke="#111" stroke-width="0.4"/>
<circle cx="355.00" cy="426.10" r="2.40" fill="#111" stroke="#111" stroke-width="0.4"/>
<circle cx="352.40" cy="430.90" r="2.40" fill="#111" stroke="#111" stroke-width="0.4"/>
<circle cx="352.40" cy="427.60" r="1.40" fill="#111" stroke="#111" stroke-width="0"/>
<circle cx="358.50" cy="407.20" r="2.40" fill="#111" stroke="#111" stroke-width="0.4"/>
<circle cx="363.70" cy="407.20" r="2.40" fill="#111" stroke="#111" stroke-width="0.4"/>
<circle cx="361.10" cy="412.00" r="2.40" fill="#111" stroke="#111" stroke-width="0.4"/>
<circle cx="361.10" cy="408.70" r="1.40" fill="#111" stroke="#111" stroke-width="0"/>
<circle cx="369.70" cy="404.50" r="2.40" fill="#111" stroke="#111" stroke-width="0.4"/>
<circle cx="374.90" cy="404.50" r="2.40" fill="#111" stroke="#111" stroke-width="0.4"/>
<circle cx="372.30" cy="409.30" r="2.40" fill="#111" stroke="#111" stroke-width="0.4"/>
<circle cx="372.30" cy="406.00" r="1.40" fill="#111" stroke="#111" stroke-width="0"/>
<circle cx="379.00" cy="442.10" r="2.40" fill="#111" stroke="#111" stroke-width="0.4"/>
<circle cx="384.20" cy="442.10" r="2.40" fill="#111" stroke="#111" stroke-width="0.4"/>
<circle cx="381.60" cy="446.90" r="2.40" fill="#111" stroke="#111" stroke-width="0.4"/>
<circle cx="381.60" cy="443.60" r="1.40" fill="#111" stroke="#111" stroke-width="0"/>
<circle cx="388.00" cy="463.70" r="2.40" fill="#111" stroke="#111" stroke-width="0.4"/>
<circle cx="393.20" cy="463.70" r="2.40" fill="#111" stroke="#111" stroke-width="0.4"/>
<circle cx="390.60" cy="468.50" r="2.40" fill="#111" stroke="#111" stroke-width="0.4"/>
<circle cx="390.60" cy="465.20" r="1.40" fill="#111" stroke="#111" stroke-width="0"/>
<text transform="translate(376.60,387.80) scale(0.915,1)" font-size="8.2" text-anchor="middle" font-weight="normal" font-style="normal" fill="#1e1e1e" stroke="#1e1e1e" stroke-width="0.22">30+</text>
<text transform="translate(376.70,397.20) scale(0.915,1)" font-size="8.2" text-anchor="middle" font-weight="normal" font-style="normal" fill="#1e1e1e" stroke="#1e1e1e" stroke-width="0.22">8204.60</text>
<text transform="translate(338.50,436.10) scale(0.915,1)" font-size="8.2" text-anchor="middle" font-weight="normal" font-style="normal" fill="#1e1e1e" stroke="#1e1e1e" stroke-width="0.22">30+</text>
<circle cx="252.50" cy="522.45" r="2.35" fill="#fff" stroke="#111" stroke-width="0.9"/>
<circle cx="252.50" cy="517.55" r="2.35" fill="#fff" stroke="#111" stroke-width="0.9"/>
<text x="260.80" y="523.30" font-size="9.3" text-anchor="start" font-weight="normal" font-style="normal" fill="#1e1e1e" stroke="#1e1e1e" stroke-width="0.22">1:0 hzmAb:Ag</text>
<circle cx="252.50" cy="540.65" r="2.35" fill="#fff" stroke="#111" stroke-width="0.9"/>
<circle cx="252.50" cy="535.75" r="2.35" fill="#111" stroke="#111" stroke-width="0.9"/>
<text x="260.80" y="541.50" font-size="9.3" text-anchor="start" font-weight="normal" font-style="normal" fill="#1e1e1e" stroke="#1e1e1e" stroke-width="0.22">1:1 hzmAb:Ag</text>
<circle cx="252.50" cy="559.65" r="2.35" fill="#111" stroke="#111" stroke-width="0.9"/>
<circle cx="252.50" cy="554.75" r="2.35" fill="#111" stroke="#111" stroke-width="0.9"/>
<text x="260.80" y="560.50" font-size="9.3" text-anchor="start" font-weight="normal" font-style="normal" fill="#1e1e1e" stroke="#1e1e1e" stroke-width="0.22">1:2 hzmAb:Ag</text>
<circle cx="365.80" cy="516.90" r="2.20" fill="#111" stroke="#111" stroke-width="0.4"/>
<circle cx="362.20" cy="518.00" r="2.20" fill="#111" stroke="#111" stroke-width="0.4"/>
<circle cx="362.70" cy="522.10" r="2.20" fill="#111" stroke="#111" stroke-width="0.4"/>
<circle cx="364.00" cy="517.70" r="1.60" fill="#111" stroke="#111" stroke-width="0"/>
<text x="375.70" y="522.90" font-size="9.3" text-anchor="start" font-weight="normal" font-style="normal" fill="#1e1e1e" stroke="#1e1e1e" stroke-width="0.22">1:3 hzmAb:Ag</text>
<circle cx="361.50" cy="535.70" r="2.40" fill="#111" stroke="#111" stroke-width="0.4"/>
<circle cx="366.70" cy="535.70" r="2.40" fill="#111" stroke="#111" stroke-width="0.4"/>
<circle cx="364.10" cy="540.50" r="2.40" fill="#111" stroke="#111" stroke-width="0.4"/>
<circle cx="364.10" cy="537.20" r="1.40" fill="#111" stroke="#111" stroke-width="0"/>
<text x="375.70" y="541.50" font-size="9.3" text-anchor="start" font-weight="normal" font-style="normal" fill="#1e1e1e" stroke="#1e1e1e" stroke-width="0.22">1:4 hzmAb:Ag</text>
<line x1="485.40" y1="31.20" x2="485.40" y2="116.50" stroke="#e3e3e3" stroke-width="1.6"/>
<line x1="482.40" y1="31.20" x2="485.40" y2="31.20" stroke="#9a9a9a" stroke-width="0.9"/>
<line x1="482.40" y1="73.50" x2="485.40" y2="73.50" stroke="#9a9a9a" stroke-width="0.9"/>
<line x1="482.40" y1="116.50" x2="675.60" y2="116.50" stroke="#9c9c9c" stroke-width="1.0"/>
<line x1="517.60" y1="116.50" x2="517.60" y2="119.50" stroke="#9a9a9a" stroke-width="0.9"/>
<line x1="549.20" y1="116.50" x2="549.20" y2="119.50" stroke="#9a9a9a" stroke-width="0.9"/>
<line x1="580.80" y1="116.50" x2="580.80" y2="119.50" stroke="#9a9a9a" stroke-width="0.9"/>
<line x1="612.40" y1="116.50" x2="612.40" y2="119.50" stroke="#9a9a9a" stroke-width="0.9"/>
<line x1="644.00" y1="116.50" x2="644.00" y2="119.50" stroke="#9a9a9a" stroke-width="0.9"/>
<text x="482.60" y="34.80" font-size="9.2" text-anchor="end" font-weight="normal" font-style="normal" fill="#1e1e1e" stroke="#1e1e1e" stroke-width="0.22">100</text>
<text x="481.00" y="77.50" font-size="9.2" text-anchor="end" font-weight="normal" font-style="normal" fill="#1e1e1e" stroke="#1e1e1e" stroke-width="0.22">%</text>
<text x="479.80" y="119.50" font-size="9.2" text-anchor="end" font-weight="normal" font-style="normal" fill="#1e1e1e" stroke="#1e1e1e" stroke-width="0.22">0</text>
<text x="462.30" y="11.60" font-size="11" text-anchor="start" font-weight="bold" font-style="normal" fill="#111">i)</text>
<polyline fill="none" stroke="#a0a0a0" stroke-width="0.75" stroke-linejoin="round" points="520.20,116.43 520.40,116.34 520.60,116.20 520.65,116.16 520.80,116.06 520.90,116.02 521.00,116.00 521.15,116.03 521.20,116.06 521.40,116.20 521.60,116.34 521.65,116.37 521.80,116.43"/>
<polyline fill="none" stroke="#a0a0a0" stroke-width="0.75" stroke-linejoin="round" points="537.15,116.45 537.20,116.27 537.30,113.72 537.35,109.84 537.40,104.07 537.45,98.41 537.50,96.00 537.55,98.40 537.60,104.05 537.65,109.82 537.70,113.69 537.80,116.22 537.90,116.40 538.00,116.36 538.15,116.26 538.25,116.18 538.40,116.01 538.50,115.89 538.65,115.72 538.75,115.62 538.90,115.52 539.00,115.50 539.15,115.54 539.25,115.62 539.40,115.77 539.50,115.89 539.65,116.07 539.75,116.18 539.90,116.30 540.00,116.36 540.15,116.43"/>
<polyline fill="none" stroke="#a0a0a0" stroke-width="0.75" stroke-linejoin="round" points="543.80,116.40 543.90,116.30 544.15,115.59 544.20,115.32 544.40,113.65 544.50,112.46 544.60,111.12 544.65,110.43 544.80,108.50 544.90,107.55 545.00,107.00 545.15,106.97 545.20,107.15 545.25,107.38 545.40,108.26 545.50,108.82 545.60,109.24 545.65,109.40 545.75,109.61 545.80,109.68 545.90,109.81 546.00,110.00 546.15,110.33 546.20,109.82 546.25,107.35 546.30,100.01 546.35,84.48 546.40,61.22 546.45,38.47 546.50,29.00 546.55,39.22 546.60,62.70 546.65,86.67 546.70,102.86 546.75,110.83 546.80,113.86 546.90,115.23 547.00,115.61 547.10,115.82 547.15,115.87 547.40,115.41 547.50,114.78 547.65,113.21 547.70,112.51 547.90,109.06 548.00,107.23 548.10,105.63 548.15,104.99 548.30,104.00 548.40,104.20 548.50,105.01 548.65,106.92 548.70,107.61 548.75,108.28 548.90,109.93 549.00,110.61 549.10,110.95 549.15,111.03 549.25,111.04 549.40,110.96 549.50,111.00 549.65,111.33 549.75,111.74 549.90,112.58 550.00,113.21 550.15,114.11 550.25,114.61 550.40,115.13 550.50,115.31 550.65,115.31 550.75,115.15 550.90,114.72 551.00,114.35 551.15,113.77 551.20,113.59 551.25,113.43 551.40,113.09 551.50,113.00 551.65,113.11 551.75,113.32 551.80,113.45 551.90,113.76 552.00,114.10 552.10,114.41 552.15,114.56 552.25,114.80 552.40,115.05 552.50,115.14 552.65,115.19 552.70,115.19 552.90,115.19 553.00,115.20 553.15,115.26 553.30,115.38 553.40,115.49 553.60,115.73 553.65,115.80 553.90,116.09 554.15,116.30 554.20,116.33 554.40,116.42"/>
<polyline fill="none" stroke="#a0a0a0" stroke-width="0.75" stroke-linejoin="round" points="558.15,116.46 558.20,116.30 558.30,114.06 558.35,110.66 558.40,105.58 558.45,100.62 558.50,98.50 558.55,100.62 558.60,105.58 558.65,110.66 558.70,114.06 558.80,116.30 558.90,116.49"/>
<polyline fill="none" stroke="#a0a0a0" stroke-width="0.75" stroke-linejoin="round" points="573.40,116.40 573.60,116.32 573.65,116.30 573.80,116.24 573.90,116.21 574.00,116.20 574.15,116.22 574.20,116.24 574.40,116.32 574.60,116.40"/>
<polyline fill="none" stroke="#a0a0a0" stroke-width="0.75" stroke-linejoin="round" points="586.90,116.44 587.15,116.24 587.20,116.16 587.40,115.69 587.60,114.98 587.65,114.80 587.80,114.29 587.90,114.08 588.00,114.00 588.15,114.17 588.20,114.29 588.40,114.98 588.60,115.69 588.65,115.83 588.80,116.16 588.90,116.30 589.15,116.46"/>
<polyline fill="none" stroke="#a0a0a0" stroke-width="0.75" stroke-linejoin="round" points="596.80,116.43 596.90,116.37 597.15,115.88 597.20,115.70 597.40,114.58 597.60,112.90 597.65,112.45 597.70,112.01 597.80,111.25 597.90,110.71 598.00,110.50 598.15,110.83 598.20,111.09 598.30,111.77 598.40,112.54 598.60,113.93 598.65,114.19 598.80,114.69 598.90,114.82 599.15,114.72 599.20,114.67 599.40,114.52 599.50,114.50 599.65,114.57 599.80,114.74 599.90,114.90 600.10,115.29 600.15,115.39 600.40,115.85 600.65,116.18 600.70,116.23 600.90,116.37 601.15,116.45"/>
<polyline fill="none" stroke="#a0a0a0" stroke-width="0.75" stroke-linejoin="round" points="607.90,116.43 608.15,116.19 608.20,116.09 608.40,115.53 608.60,114.68 608.65,114.45 608.80,113.85 608.90,113.59 609.00,113.50 609.15,113.70 609.20,113.85 609.40,114.68 609.60,115.53 609.65,115.70 609.80,116.09 609.90,116.26 610.15,116.45"/>
<polyline fill="none" stroke="#a0a0a0" stroke-width="0.75" stroke-linejoin="round" points="631.15,116.38 631.25,116.34 631.40,116.26 631.50,116.20 631.65,116.11 631.75,116.06 631.90,116.01 632.00,116.00 632.15,116.02 632.25,116.06 632.40,116.14 632.50,116.20 632.65,116.29 632.75,116.34 632.90,116.40"/>
<line x1="537.50" y1="96.50" x2="537.50" y2="116.50" stroke="#939393" stroke-width="0.9"/>
<line x1="546.50" y1="29.50" x2="546.50" y2="116.50" stroke="#939393" stroke-width="0.9"/>
<line x1="558.50" y1="99.00" x2="558.50" y2="116.50" stroke="#939393" stroke-width="0.9"/>
<circle cx="546.80" cy="25.40" r="2.20" fill="#fff" stroke="#111" stroke-width="0.9"/>
<circle cx="537.00" cy="91.00" r="2.20" fill="#fff" stroke="#111" stroke-width="0.9"/>
<circle cx="558.00" cy="94.40" r="2.20" fill="#fff" stroke="#111" stroke-width="0.9"/>
<text transform="translate(548.00,14.60) scale(0.915,1)" font-size="8.2" text-anchor="middle" font-weight="normal" font-style="normal" fill="#1e1e1e" stroke="#1e1e1e" stroke-width="0.22">12+</text>
<text transform="translate(548.30,22.00) scale(0.915,1)" font-size="8.2" text-anchor="middle" font-weight="normal" font-style="normal" fill="#1e1e1e" stroke="#1e1e1e" stroke-width="0.22">3928.02</text>
<text x="599.80" y="89.30" font-size="7.5" text-anchor="middle" font-weight="bold" font-style="italic" fill="#1e1e1e" stroke="#1e1e1e" stroke-width="0.3">Almost no</text>
<text x="600.00" y="98.30" font-size="7.5" text-anchor="middle" font-weight="bold" font-style="italic" fill="#1e1e1e" stroke="#1e1e1e" stroke-width="0.3">dimer</text>
<path d="M584.70,103.50 Q585.10,102.10 587.20,102.10 L597.90,102.10 Q599.50,102.10 599.90,100.70 Q600.30,102.10 601.90,102.10 L612.30,102.10 Q614.40,102.10 614.80,103.50" fill="none" stroke="#2a2a2a" stroke-width="0.95"/>
<line x1="485.40" y1="147.60" x2="485.40" y2="228.50" stroke="#e3e3e3" stroke-width="1.6"/>
<line x1="482.40" y1="147.60" x2="485.40" y2="147.60" stroke="#9a9a9a" stroke-width="0.9"/>
<line x1="482.40" y1="188.10" x2="485.40" y2="188.10" stroke="#9a9a9a" stroke-width="0.9"/>
<line x1="482.40" y1="228.50" x2="675.60" y2="228.50" stroke="#9c9c9c" stroke-width="1.0"/>
<line x1="517.60" y1="228.50" x2="517.60" y2="231.50" stroke="#9a9a9a" stroke-width="0.9"/>
<line x1="549.20" y1="228.50" x2="549.20" y2="231.50" stroke="#9a9a9a" stroke-width="0.9"/>
<line x1="580.80" y1="228.50" x2="580.80" y2="231.50" stroke="#9a9a9a" stroke-width="0.9"/>
<line x1="612.40" y1="228.50" x2="612.40" y2="231.50" stroke="#9a9a9a" stroke-width="0.9"/>
<line x1="644.00" y1="228.50" x2="644.00" y2="231.50" stroke="#9a9a9a" stroke-width="0.9"/>
<text x="482.60" y="151.80" font-size="9.2" text-anchor="end" font-weight="normal" font-style="normal" fill="#1e1e1e" stroke="#1e1e1e" stroke-width="0.22">100</text>
<text x="482.80" y="192.20" font-size="9.2" text-anchor="end" font-weight="normal" font-style="normal" fill="#1e1e1e" stroke="#1e1e1e" stroke-width="0.22">%</text>
<text x="480.20" y="231.70" font-size="9.2" text-anchor="end" font-weight="normal" font-style="normal" fill="#1e1e1e" stroke="#1e1e1e" stroke-width="0.22">0</text>
<text x="462.60" y="137.70" font-size="11" text-anchor="start" font-weight="bold" font-style="normal" fill="#111">j)</text>
<polyline fill="none" stroke="#a0a0a0" stroke-width="0.75" stroke-linejoin="round" points="537.15,228.46 537.20,228.32 537.30,226.27 537.35,223.14 537.40,218.49 537.45,213.94 537.50,212.00 537.55,213.94 537.60,218.49 537.65,223.14 537.70,226.27 537.80,228.32 537.90,228.49"/>
<polyline fill="none" stroke="#a0a0a0" stroke-width="0.75" stroke-linejoin="round" points="538.65,228.45 538.90,228.32 539.00,228.23 539.15,228.03 539.25,227.85 539.40,227.53 539.50,227.29 539.65,226.93 539.75,226.74 539.90,226.54 540.00,226.50 540.15,226.59 540.25,226.74 540.40,227.05 540.50,227.29 540.65,227.64 540.75,227.85 540.90,228.10 541.00,228.23 541.15,228.36 541.40,228.46"/>
<polyline fill="none" stroke="#a0a0a0" stroke-width="0.75" stroke-linejoin="round" points="543.80,228.41 543.90,228.32 544.15,227.69 544.20,227.45 544.40,225.97 544.50,224.92 544.60,223.73 544.65,223.11 544.80,221.39 544.90,220.52 545.00,220.00 545.15,219.90 545.20,220.02 545.25,220.19 545.40,220.85 545.50,221.25 545.60,221.54 545.65,221.63 545.75,221.74 545.80,221.77 545.90,221.85 546.00,222.00 546.15,222.31 546.20,221.84 546.25,219.50 546.30,212.52 546.35,197.76 546.40,175.63 546.45,154.00 546.50,145.00 546.55,154.75 546.60,177.12 546.65,199.96 546.70,215.39 546.75,222.99 546.80,225.90 546.90,227.25 547.00,227.66 547.15,228.03 547.30,228.19 547.40,228.16 547.50,228.02 547.65,227.49 547.70,227.20 547.90,225.43 548.10,222.76 548.15,222.05 548.30,220.15 548.40,219.31 548.50,219.00 548.65,219.57 548.70,220.01 548.90,222.37 549.00,223.57 549.10,224.54 549.15,224.92 549.25,225.41 549.30,225.54 549.40,225.56 549.50,225.36 549.65,224.83 549.70,224.64 549.75,224.47 549.90,224.08 550.00,224.00 550.15,224.20 550.25,224.53 550.40,225.22 550.50,225.75 550.65,226.51 550.75,226.93 550.90,227.39 551.00,227.55 551.15,227.59 551.25,227.49 551.40,227.19 551.50,226.93 551.65,226.53 551.75,226.29 551.90,226.05 552.00,226.00 552.15,226.11 552.25,226.29 552.40,226.69 552.50,226.98 552.65,227.43 552.75,227.69 552.90,228.01 553.00,228.16 553.15,228.32 553.40,228.45"/>
<polyline fill="none" stroke="#a0a0a0" stroke-width="0.75" stroke-linejoin="round" points="558.15,228.46 558.20,228.32 558.30,226.27 558.35,223.14 558.40,218.49 558.45,213.94 558.50,212.00 558.55,213.94 558.60,218.49 558.65,223.14 558.70,226.27 558.80,228.32 558.90,228.49"/>
<polyline fill="none" stroke="#a0a0a0" stroke-width="0.75" stroke-linejoin="round" points="564.20,228.38 564.30,227.08 564.35,225.09 564.40,222.13 564.45,219.23 564.50,218.00 564.55,219.23 564.60,222.13 564.65,225.09 564.70,227.08 564.80,228.38"/>
<polyline fill="none" stroke="#a0a0a0" stroke-width="0.75" stroke-linejoin="round" points="574.20,228.41 574.30,227.35 574.35,225.74 574.40,223.34 574.45,221.00 574.50,220.00 574.55,221.00 574.60,223.34 574.65,225.74 574.70,227.35 574.80,228.41"/>
<polyline fill="none" stroke="#a0a0a0" stroke-width="0.75" stroke-linejoin="round" points="584.65,228.46 584.90,228.37 585.00,228.30 585.15,228.15 585.25,228.01 585.40,227.77 585.50,227.59 585.65,227.33 585.75,227.18 585.90,227.03 586.00,227.00 586.15,227.07 586.25,227.18 586.40,227.41 586.50,227.59 586.65,227.86 586.75,228.01 586.90,228.20 587.00,228.30 587.15,228.39"/>
<polyline fill="none" stroke="#a0a0a0" stroke-width="0.75" stroke-linejoin="round" points="596.20,228.45 596.40,228.30 596.60,227.89 596.65,227.72 596.80,227.04 596.90,226.44 597.00,225.77 597.15,224.80 597.20,224.53 597.40,224.00 597.60,224.53 597.65,224.80 597.80,225.77 597.90,226.44 598.00,227.04 598.15,227.72 598.20,227.89 598.40,228.30 598.60,228.45"/>
<polyline fill="none" stroke="#a0a0a0" stroke-width="0.75" stroke-linejoin="round" points="604.20,228.44 604.40,228.28 604.60,227.82 604.65,227.64 604.80,226.88 604.90,226.21 605.00,225.47 605.15,224.39 605.20,224.09 605.40,223.50 605.60,224.09 605.65,224.39 605.80,225.47 605.90,226.21 606.00,226.88 606.15,227.64 606.20,227.82 606.40,228.28 606.60,228.44"/>
<polyline fill="none" stroke="#a0a0a0" stroke-width="0.75" stroke-linejoin="round" points="611.20,228.46 611.40,228.35 611.60,228.03 611.65,227.90 611.80,227.36 611.90,226.90 612.00,226.38 612.15,225.62 612.20,225.41 612.40,225.00 612.60,225.41 612.65,225.62 612.80,226.38 612.90,226.90 613.00,227.36 613.15,227.90 613.20,228.03 613.40,228.35 613.60,228.46"/>
<polyline fill="none" stroke="#a0a0a0" stroke-width="0.75" stroke-linejoin="round" points="619.00,228.41 619.15,228.33 619.25,228.27 619.40,228.16 619.50,228.08 619.65,227.95 619.75,227.88 619.90,227.81 620.00,227.80 620.15,227.83 620.25,227.88 620.40,227.99 620.50,228.08 620.65,228.20 620.75,228.27 620.90,228.36 621.00,228.41"/>
<polyline fill="none" stroke="#a0a0a0" stroke-width="0.75" stroke-linejoin="round" points="629.15,228.38 629.25,228.34 629.40,228.26 629.50,228.20 629.65,228.11 629.75,228.06 629.90,228.01 630.00,228.00 630.15,228.02 630.25,228.06 630.40,228.14 630.50,228.20 630.65,228.29 630.75,228.34 630.90,228.40"/>
<line x1="537.50" y1="212.50" x2="537.50" y2="228.50" stroke="#a4a4a4" stroke-width="0.9"/>
<line x1="546.50" y1="145.50" x2="546.50" y2="228.50" stroke="#a4a4a4" stroke-width="0.9"/>
<line x1="558.50" y1="212.50" x2="558.50" y2="228.50" stroke="#a4a4a4" stroke-width="0.9"/>
<line x1="564.50" y1="218.50" x2="564.50" y2="228.50" stroke="#a4a4a4" stroke-width="0.9"/>
<line x1="574.50" y1="220.50" x2="574.50" y2="228.50" stroke="#a4a4a4" stroke-width="0.9"/>
<circle cx="546.80" cy="141.40" r="2.20" fill="#fff" stroke="#111" stroke-width="0.9"/>
<circle cx="537.00" cy="205.60" r="2.20" fill="#fff" stroke="#111" stroke-width="0.9"/>
<circle cx="558.40" cy="207.60" r="2.20" fill="#fff" stroke="#111" stroke-width="0.9"/>
<circle cx="564.40" cy="212.00" r="2.20" fill="#a6a6a6" stroke="#111" stroke-width="0.9"/>
<circle cx="574.40" cy="215.00" r="2.20" fill="#a6a6a6" stroke="#111" stroke-width="0.9"/>
<circle cx="597.40" cy="220.70" r="2.20" fill="#a6a6a6" stroke="#111" stroke-width="0.9"/>
<circle cx="597.40" cy="216.10" r="2.20" fill="#a6a6a6" stroke="#111" stroke-width="0.9"/>
<circle cx="605.40" cy="216.30" r="2.20" fill="#a6a6a6" stroke="#111" stroke-width="0.9"/>
<circle cx="605.40" cy="211.70" r="2.20" fill="#a6a6a6" stroke="#111" stroke-width="0.9"/>
<circle cx="612.40" cy="221.10" r="2.20" fill="#a6a6a6" stroke="#111" stroke-width="0.9"/>
<circle cx="612.40" cy="216.50" r="2.20" fill="#a6a6a6" stroke="#111" stroke-width="0.9"/>
<text x="548.00" y="136.20" font-size="6" text-anchor="middle" font-weight="normal" font-style="normal" fill="#444">12+</text>
<text transform="translate(606.70,204.70) scale(0.915,1)" font-size="8.2" text-anchor="middle" font-weight="normal" font-style="normal" fill="#1e1e1e" stroke="#1e1e1e" stroke-width="0.22">25+</text>
<line x1="485.40" y1="274.20" x2="485.40" y2="355.50" stroke="#e3e3e3" stroke-width="1.6"/>
<line x1="482.40" y1="274.20" x2="485.40" y2="274.20" stroke="#9a9a9a" stroke-width="0.9"/>
<line x1="482.40" y1="315.30" x2="485.40" y2="315.30" stroke="#9a9a9a" stroke-width="0.9"/>
<line x1="482.40" y1="355.50" x2="675.60" y2="355.50" stroke="#9c9c9c" stroke-width="1.0"/>
<line x1="517.60" y1="355.50" x2="517.60" y2="358.50" stroke="#9a9a9a" stroke-width="0.9"/>
<line x1="549.20" y1="355.50" x2="549.20" y2="358.50" stroke="#9a9a9a" stroke-width="0.9"/>
<line x1="580.80" y1="355.50" x2="580.80" y2="358.50" stroke="#9a9a9a" stroke-width="0.9"/>
<line x1="612.40" y1="355.50" x2="612.40" y2="358.50" stroke="#9a9a9a" stroke-width="0.9"/>
<line x1="644.00" y1="355.50" x2="644.00" y2="358.50" stroke="#9a9a9a" stroke-width="0.9"/>
<text x="482.90" y="278.40" font-size="9.2" text-anchor="end" font-weight="normal" font-style="normal" fill="#1e1e1e" stroke="#1e1e1e" stroke-width="0.22">100</text>
<text x="482.80" y="319.30" font-size="9.2" text-anchor="end" font-weight="normal" font-style="normal" fill="#1e1e1e" stroke="#1e1e1e" stroke-width="0.22">%</text>
<text x="479.80" y="358.50" font-size="9.2" text-anchor="end" font-weight="normal" font-style="normal" fill="#1e1e1e" stroke="#1e1e1e" stroke-width="0.22">0</text>
<text x="462.40" y="258.00" font-size="11" text-anchor="start" font-weight="bold" font-style="normal" fill="#111">k)</text>
<polyline fill="none" stroke="#a0a0a0" stroke-width="0.75" stroke-linejoin="round" points="504.90,355.40 505.00,355.38 505.15,355.34 505.40,355.25 505.50,355.21 505.65,355.14 505.90,355.01 506.00,354.95 506.15,354.87 506.40,354.75 506.50,354.71 506.65,354.65 506.90,354.60 507.00,354.60 507.15,354.61 507.40,354.67 507.50,354.71 507.65,354.77 507.90,354.90 508.00,354.95 508.15,355.04 508.40,355.16 508.50,355.21 508.65,355.27 508.90,355.35 509.00,355.38 509.15,355.41"/>
<polyline fill="none" stroke="#a0a0a0" stroke-width="0.75" stroke-linejoin="round" points="536.65,355.47 536.90,354.64 537.15,353.55 537.20,353.16 537.30,350.28 537.35,346.57 537.40,341.02 537.45,335.59 537.50,333.30 537.55,335.67 537.60,341.17 537.65,346.80 537.70,350.59 537.80,353.12 537.90,353.39 538.00,353.45 538.15,353.51 538.40,353.52 538.50,353.47 538.65,353.33 538.75,353.18 538.90,352.89 539.00,352.67 539.15,352.34 539.25,352.16 539.40,352.01 539.50,352.00 539.65,352.15 539.75,352.35 539.90,352.75 540.00,353.05 540.15,353.48 540.25,353.74 540.40,354.06 540.50,354.21 540.65,354.35 540.90,354.36 541.00,354.28 541.15,354.06 541.25,353.85 541.40,353.45 541.50,353.16 541.65,352.72 541.75,352.47 541.90,352.24 542.00,352.20 542.15,352.33 542.25,352.54 542.40,352.97 542.50,353.29 542.65,353.77 542.75,354.05 542.90,354.40 543.00,354.57 543.15,354.75 543.40,354.90 543.50,354.92 543.65,354.95 543.90,354.97 544.00,354.97 544.15,354.97 544.40,354.97 544.65,354.89 544.70,354.84 544.90,354.45 545.10,353.36 545.15,352.91 545.30,351.09 545.40,349.50 545.50,347.72 545.65,345.13 545.70,344.41 545.90,343.00 546.10,344.37 546.15,344.29 546.20,343.79 546.30,335.38 546.35,322.13 546.40,302.26 546.45,282.77 546.50,274.50 546.55,282.89 546.60,302.47 546.65,322.40 546.70,335.65 546.80,345.47 546.90,346.96 547.10,347.93 547.15,348.10 547.40,348.80 547.65,349.36 547.90,349.86 548.00,350.04 548.15,350.31 548.40,350.71 548.65,351.07 548.90,351.39 549.15,351.68 549.40,351.93 549.65,352.16 549.90,352.36 550.15,352.54 550.40,352.70 550.65,352.84 550.90,352.97 551.15,353.07 551.40,353.17 551.65,353.25 551.90,353.32 552.00,353.34 552.15,353.38 552.40,353.43 552.65,353.47 552.90,353.50 553.15,353.53 553.40,353.55 553.65,353.57 553.90,353.58 554.15,353.59 554.40,353.59 554.65,353.59 554.90,353.59 555.00,353.59 555.15,353.59 555.40,353.58 555.65,353.58 555.90,353.57 556.00,353.06 556.15,352.28 556.20,351.94 556.30,350.12 556.35,347.88 556.40,344.65 556.45,341.49 556.50,340.00 556.55,341.31 556.60,344.29 556.65,347.33 556.70,349.39 556.80,350.83 556.90,351.06 557.15,351.35 557.40,351.59 557.65,351.80 557.90,351.99 558.15,352.13 558.20,352.07 558.30,350.84 558.35,348.91 558.40,346.02 558.45,343.19 558.50,342.00 558.55,343.24 558.60,346.12 558.65,349.07 558.70,351.05 558.80,352.38 558.90,352.54 559.15,352.64 559.40,352.73 559.65,352.81 559.90,352.87 560.00,352.90 560.15,352.94 560.40,352.99 560.65,353.04 560.90,353.09 561.15,353.13 561.40,353.16 561.65,353.20 561.90,353.23 562.15,353.26 562.40,353.29 562.65,353.31 562.90,353.34 563.15,353.36 563.40,353.39 563.65,353.41 563.90,352.43 564.00,351.44 564.15,349.85 564.20,348.94 564.30,342.15 564.35,332.82 564.40,319.16 564.45,306.38 564.50,301.00 564.55,306.59 564.60,319.57 564.65,332.82 564.70,341.75 564.80,347.74 564.90,348.42 565.00,348.61 565.15,348.86 565.40,349.26 565.65,349.62 565.90,349.95 566.15,350.26 566.40,350.55 566.65,350.81 566.90,351.05 567.15,351.28 567.40,351.48 567.65,351.67 567.90,351.85 568.00,351.92 568.15,352.01 568.40,352.16 568.65,352.30 568.90,352.42 569.15,352.54 569.40,352.65 569.65,352.74 569.90,352.83 570.00,352.86 570.15,352.91 570.40,352.98 570.65,353.05 570.90,353.11 571.15,353.17 571.40,353.21 571.65,353.26 571.90,353.30 572.00,353.31 572.15,353.33 572.40,353.36 572.65,353.38 572.90,353.40 573.15,353.33 573.20,352.96 573.30,347.82 573.35,339.98 573.40,328.30 573.45,316.87 573.50,312.00 573.55,316.45 573.60,327.48 573.65,338.74 573.70,346.17 573.80,350.49 573.90,350.11 574.15,348.54 574.40,348.94 574.65,349.30 574.90,349.63 575.00,349.75 575.15,349.93 575.40,350.20 575.65,350.46 575.90,350.68 576.00,350.77 576.15,350.89 576.40,351.08 576.65,351.25 576.90,351.41 577.15,351.55 577.40,351.68 577.65,351.79 577.90,351.90 578.15,351.99 578.40,352.08 578.65,352.15 578.90,352.22 579.00,352.24 579.15,352.28 579.40,352.34 579.65,352.38 579.90,352.43 580.00,352.44 580.15,352.47 580.40,352.50 580.65,352.53 580.90,352.56 581.15,352.59 581.40,352.61 581.65,352.63 581.90,352.65 582.15,352.66 582.40,352.68 582.65,352.69 582.90,352.70 583.15,352.72 583.40,352.73 583.65,352.74 583.90,352.75 584.00,352.75 584.15,352.75 584.20,352.71 584.30,352.07 584.35,351.09 584.40,349.63 584.45,348.21 584.50,347.60 584.55,348.21 584.60,349.64 584.65,351.10 584.70,352.09 584.80,352.73 584.90,352.79 585.00,352.80 585.15,352.81 585.40,352.82 585.65,352.83 585.90,352.85 586.15,352.86 586.40,352.88 586.65,352.89 586.90,352.91 587.15,352.93 587.40,352.94 587.50,352.94 587.65,352.92 587.90,352.85 588.00,352.78 588.15,352.63 588.25,352.50 588.40,352.26 588.50,352.08 588.65,351.81 588.75,351.66 588.90,351.52 589.00,351.50 589.15,351.59 589.25,351.71 589.40,351.98 589.50,352.18 589.65,352.47 589.75,352.65 589.90,352.87 590.00,352.98 590.15,353.10 590.40,353.20 590.50,353.22 590.65,353.23 590.90,353.17 591.00,353.12 591.15,352.99 591.25,352.88 591.40,352.66 591.50,352.50 591.65,352.27 591.75,352.14 591.90,352.02 592.00,352.00 592.15,352.08 592.25,352.20 592.40,352.45 592.50,352.64 592.65,352.91 592.75,353.08 592.90,353.28 593.00,353.39 593.15,353.50 593.40,353.61 593.50,353.64 593.65,353.67 593.90,353.71 594.15,353.74 594.40,353.78 594.65,353.81 594.90,353.85 595.00,353.86 595.15,353.89 595.40,353.92 595.65,353.96 595.90,353.99 596.15,354.03 596.40,354.06 596.65,354.09 596.90,354.13 597.00,354.14 597.15,352.11 597.20,351.23 597.30,346.93 597.35,341.72 597.40,334.28 597.45,326.98 597.50,323.50 597.55,325.66 597.60,331.64 597.65,338.53 597.70,343.20 597.80,346.42 597.90,346.91 598.15,347.45 598.40,347.95 598.65,348.42 598.90,348.86 599.15,349.27 599.40,349.65 599.65,350.01 599.90,350.34 600.00,350.47 600.15,350.66 600.40,350.95 600.65,351.22 600.90,351.48 601.15,351.71 601.40,351.94 601.65,352.14 601.90,352.34 602.15,352.52 602.40,352.69 602.65,352.85 602.90,353.00 603.00,353.06 603.15,353.14 603.40,353.27 603.65,353.39 603.90,353.50 604.15,350.20 604.20,349.23 604.30,343.50 604.35,336.08 604.40,325.36 604.45,314.85 604.50,310.00 604.55,314.33 604.60,324.33 604.65,334.53 604.70,341.42 604.80,346.11 604.90,346.74 605.00,346.98 605.15,347.32 605.40,347.86 605.65,348.35 605.90,348.82 606.15,349.25 606.40,349.65 606.65,350.02 606.90,350.37 607.15,350.70 607.40,351.00 607.65,351.28 607.90,351.54 608.15,351.79 608.40,352.01 608.65,352.22 608.90,352.42 609.00,352.50 609.15,352.61 609.40,352.78 609.65,352.94 609.90,353.08 610.15,353.22 610.40,353.35 610.65,353.47 610.90,353.58 611.15,353.65 611.20,353.52 611.30,350.67 611.35,347.15 611.40,342.10 611.45,337.14 611.50,334.80 611.55,336.34 611.60,340.50 611.65,344.76 611.70,347.48 611.80,348.74 611.90,349.09 612.15,349.51 612.40,349.89 612.65,350.25 612.90,350.58 613.15,350.89 613.40,351.18 613.65,351.45 613.90,351.70 614.15,351.93 614.40,352.15 614.65,352.35 614.90,352.53 615.00,352.60 615.15,352.69 615.20,352.72 615.40,352.80 615.65,352.81 615.80,352.75 615.90,352.67 616.10,352.40 616.15,352.32 616.40,351.80 616.65,351.27 616.70,351.19 616.90,351.00 617.00,351.00 617.15,351.14 617.30,351.43 617.40,351.68 617.60,352.27 617.65,352.43 617.90,353.13 618.15,353.64 618.20,353.72 618.40,353.96 618.65,354.14 618.80,354.21 618.90,354.24 619.15,354.31 619.40,354.35 619.60,354.37 619.65,354.37 619.90,354.36 620.15,354.28 620.40,354.10 620.65,353.80 620.80,353.55 620.90,353.35 621.00,353.14 621.15,352.80 621.20,352.69 621.40,352.23 621.60,351.84 621.65,351.76 621.90,351.52 622.00,351.50 622.15,351.57 622.40,351.91 622.65,352.45 622.80,352.82 622.90,353.07 623.15,353.65 623.20,353.75 623.40,354.11 623.60,354.37 623.65,354.43 623.90,354.63 624.15,354.74 624.40,354.80 624.65,354.82 624.90,354.84 625.00,354.84 625.15,354.84 625.40,354.83 625.60,354.81 625.65,354.81 625.90,354.76 626.15,354.65 626.40,354.46 626.65,354.16 626.80,353.93 626.90,353.74 627.00,353.55 627.15,353.23 627.20,353.13 627.40,352.71 627.60,352.34 627.65,352.27 627.90,352.03 628.00,352.00 628.15,352.04 628.40,352.31 628.65,352.76 628.80,353.07 628.90,353.28 629.15,353.76 629.20,353.84 629.40,354.13 629.60,354.35 629.65,354.39 629.90,354.54 630.00,354.58 630.15,354.62 630.40,354.65 630.65,354.65 630.90,354.64 631.15,354.63 631.40,354.61 631.65,354.59 631.90,354.57 632.15,354.55 632.40,354.53 632.65,354.51 632.90,354.49 633.00,354.48 633.15,354.46 633.30,354.44 633.40,354.42 633.65,354.36 633.90,354.28 634.15,354.15 634.20,354.12 634.40,353.97 634.65,353.72 634.90,353.41 635.00,353.27 635.10,353.14 635.15,353.07 635.40,352.74 635.55,352.57 635.65,352.47 635.90,352.32 636.00,352.30 636.15,352.31 636.40,352.44 636.45,352.48 636.65,352.68 636.90,352.97 637.15,353.26 637.35,353.46 637.40,353.51 637.65,353.70 637.80,353.78 637.90,353.83 638.15,353.90 638.40,353.94 638.65,353.94 638.70,353.94 638.90,353.94 639.00,353.93 639.15,353.92 639.40,353.91 639.65,353.89 639.90,353.87 640.00,353.86 640.15,353.85 640.40,353.84 640.65,353.82 640.90,353.80 641.15,353.78 641.30,353.77 641.40,353.76 641.65,353.73 641.90,353.69 642.15,353.63 642.20,353.62 642.40,353.55 642.65,353.43 642.90,353.29 643.10,353.17 643.15,353.14 643.40,352.99 643.55,352.91 643.65,352.87 643.90,352.81 644.00,352.80 644.15,352.81 644.40,352.88 644.45,352.90 644.65,353.00 644.90,353.14 645.00,353.20 645.15,353.29 645.35,353.39 645.40,353.41 645.65,353.52 645.80,353.56 645.90,353.59 646.15,353.64 646.40,353.67 646.65,353.69 646.70,353.69 646.90,353.70 647.00,353.71 647.15,353.71 647.40,353.72 647.65,353.73 647.90,353.74 648.15,353.76 648.40,353.77 648.65,353.78 648.90,353.79 649.00,353.79 649.15,353.79 649.40,353.79 649.65,353.79 649.90,353.76 650.00,353.75 650.15,353.73 650.40,353.66 650.50,353.63 650.65,353.58 650.90,353.49 651.00,353.44 651.15,353.38 651.40,353.29 651.50,353.26 651.65,353.22 651.90,353.20 652.00,353.20 652.15,353.22 652.40,353.29 652.50,353.32 652.65,353.39 652.90,353.52 653.00,353.57 653.15,353.65 653.40,353.77 653.50,353.82 653.65,353.88 653.90,353.97 654.00,353.99 654.15,354.03 654.40,354.07 654.65,354.11 654.90,354.13 655.00,354.13 655.15,354.14 655.40,354.15 655.65,354.16 655.90,354.17 656.00,354.17 656.15,354.17 656.40,354.18 656.65,354.18 656.90,354.18 657.00,354.18 657.15,354.18 657.40,354.17 657.65,354.15 657.90,354.13 658.00,354.11 658.15,354.09 658.40,354.03 658.50,354.00 658.65,353.96 658.90,353.87 659.00,353.84 659.15,353.78 659.40,353.70 659.50,353.67 659.65,353.64 659.90,353.60 660.00,353.60 660.15,353.60 660.40,353.64 660.50,353.66 660.65,353.70 660.90,353.78 661.00,353.81 661.15,353.86 661.40,353.93 661.50,353.96 661.65,354.00 661.90,354.05 662.00,354.07 662.15,354.09 662.40,354.11 662.65,354.13 662.90,354.13 663.00,354.14 663.15,354.14 663.40,354.15 663.65,354.15 663.90,354.16 664.15,354.17 664.40,354.17 664.65,354.18 664.90,354.20 665.00,354.20 665.15,354.21 665.40,354.22 665.65,354.24 665.90,354.25 666.15,354.27 666.40,354.29 666.65,354.31 666.90,354.33 667.15,354.35 667.40,354.38 667.65,354.40 667.90,354.43 668.00,354.44 668.15,354.46 668.40,354.48 668.65,354.51 668.90,354.54 669.15,354.57 669.40,354.60 669.65,354.63 669.90,354.66 670.15,354.69 670.40,354.72 670.65,354.75 670.90,354.79 671.00,354.80 671.15,354.82 671.40,354.85 671.65,354.88 671.90,354.91 672.15,354.94 672.40,354.96 672.65,354.99 672.90,355.02 673.15,355.05 673.40,355.07 673.65,355.10 673.90,355.12 674.00,355.13 674.15,355.14 674.40,355.17 674.65,355.19 674.90,355.21 675.00,355.22 675.15,355.23 675.40,355.25"/>
<line x1="537.50" y1="333.80" x2="537.50" y2="355.50" stroke="#a4a4a4" stroke-width="0.9"/>
<line x1="546.50" y1="275.00" x2="546.50" y2="355.50" stroke="#a4a4a4" stroke-width="0.9"/>
<line x1="556.50" y1="340.50" x2="556.50" y2="355.50" stroke="#a4a4a4" stroke-width="0.9"/>
<line x1="558.50" y1="342.50" x2="558.50" y2="355.50" stroke="#a4a4a4" stroke-width="0.9"/>
<line x1="564.50" y1="301.50" x2="564.50" y2="355.50" stroke="#a4a4a4" stroke-width="0.9"/>
<line x1="573.50" y1="312.50" x2="573.50" y2="355.50" stroke="#a4a4a4" stroke-width="0.9"/>
<line x1="584.50" y1="348.10" x2="584.50" y2="355.50" stroke="#a4a4a4" stroke-width="0.9"/>
<line x1="597.50" y1="324.00" x2="597.50" y2="355.50" stroke="#a4a4a4" stroke-width="0.9"/>
<line x1="604.50" y1="310.50" x2="604.50" y2="355.50" stroke="#a4a4a4" stroke-width="0.9"/>
<line x1="611.50" y1="335.30" x2="611.50" y2="355.50" stroke="#a4a4a4" stroke-width="0.9"/>
<circle cx="546.80" cy="270.00" r="2.20" fill="#fff" stroke="#111" stroke-width="0.9"/>
<circle cx="564.00" cy="297.00" r="2.20" fill="#a6a6a6" stroke="#111" stroke-width="0.9"/>
<circle cx="573.60" cy="308.00" r="2.20" fill="#a6a6a6" stroke="#111" stroke-width="0.9"/>
<circle cx="554.50" cy="334.30" r="2.20" fill="#a6a6a6" stroke="#111" stroke-width="0.9"/>
<circle cx="537.00" cy="329.40" r="2.20" fill="#fff" stroke="#111" stroke-width="0.9"/>
<circle cx="560.30" cy="339.40" r="2.20" fill="#fff" stroke="#111" stroke-width="0.9"/>
<circle cx="597.40" cy="319.30" r="2.20" fill="#a6a6a6" stroke="#111" stroke-width="0.9"/>
<circle cx="597.40" cy="314.70" r="2.20" fill="#a6a6a6" stroke="#111" stroke-width="0.9"/>
<circle cx="604.00" cy="307.00" r="2.20" fill="#a6a6a6" stroke="#111" stroke-width="0.9"/>
<circle cx="604.00" cy="302.40" r="2.20" fill="#a6a6a6" stroke="#111" stroke-width="0.9"/>
<circle cx="611.40" cy="330.00" r="2.20" fill="#a6a6a6" stroke="#111" stroke-width="0.9"/>
<circle cx="611.40" cy="325.40" r="2.20" fill="#a6a6a6" stroke="#111" stroke-width="0.9"/>
<text transform="translate(548.00,265.30) scale(0.915,1)" font-size="8.2" text-anchor="middle" font-weight="normal" font-style="normal" fill="#1e1e1e" stroke="#1e1e1e" stroke-width="0.22">12+</text>
<text transform="translate(565.40,282.30) scale(0.915,1)" font-size="8.2" text-anchor="middle" font-weight="normal" font-style="normal" fill="#1e1e1e" stroke="#1e1e1e" stroke-width="0.22">16+</text>
<text transform="translate(565.30,291.30) scale(0.915,1)" font-size="8.2" text-anchor="middle" font-weight="normal" font-style="normal" fill="#1e1e1e" stroke="#1e1e1e" stroke-width="0.22">4481.57</text>
<text transform="translate(606.00,288.70) scale(0.915,1)" font-size="8.2" text-anchor="middle" font-weight="normal" font-style="normal" fill="#1e1e1e" stroke="#1e1e1e" stroke-width="0.22">25+</text>
<text transform="translate(605.70,297.70) scale(0.915,1)" font-size="8.2" text-anchor="middle" font-weight="normal" font-style="normal" fill="#1e1e1e" stroke="#1e1e1e" stroke-width="0.22">5737.41</text>
<polyline fill="none" stroke="#9a9a9a" stroke-width="0.9" points="557.0,376.2 561.0,372.4 602.0,372.4"/>
<polyline fill="none" stroke="#9a9a9a" stroke-width="0.9" points="627.0,372.4 668.0,372.4 672.0,376.2"/>
<text transform="translate(615.00,375.00) scale(0.915,1)" font-size="8.2" text-anchor="middle" font-weight="normal" font-style="normal" fill="#8a8a8a">× 10</text>
<line x1="485.40" y1="408.60" x2="485.40" y2="489.50" stroke="#e3e3e3" stroke-width="1.6"/>
<line x1="482.40" y1="408.60" x2="485.40" y2="408.60" stroke="#9a9a9a" stroke-width="0.9"/>
<line x1="482.40" y1="448.90" x2="485.40" y2="448.90" stroke="#9a9a9a" stroke-width="0.9"/>
<line x1="482.40" y1="489.50" x2="675.60" y2="489.50" stroke="#9c9c9c" stroke-width="1.0"/>
<line x1="517.60" y1="489.50" x2="517.60" y2="492.50" stroke="#9a9a9a" stroke-width="0.9"/>
<line x1="549.20" y1="489.50" x2="549.20" y2="492.50" stroke="#9a9a9a" stroke-width="0.9"/>
<line x1="580.80" y1="489.50" x2="580.80" y2="492.50" stroke="#9a9a9a" stroke-width="0.9"/>
<line x1="612.40" y1="489.50" x2="612.40" y2="492.50" stroke="#9a9a9a" stroke-width="0.9"/>
<line x1="644.00" y1="489.50" x2="644.00" y2="492.50" stroke="#9a9a9a" stroke-width="0.9"/>
<text x="482.60" y="413.40" font-size="9.2" text-anchor="end" font-weight="normal" font-style="normal" fill="#1e1e1e" stroke="#1e1e1e" stroke-width="0.22">100</text>
<text x="482.80" y="453.60" font-size="9.2" text-anchor="end" font-weight="normal" font-style="normal" fill="#1e1e1e" stroke="#1e1e1e" stroke-width="0.22">%</text>
<text x="481.00" y="493.50" font-size="9.2" text-anchor="end" font-weight="normal" font-style="normal" fill="#1e1e1e" stroke="#1e1e1e" stroke-width="0.22">0</text>
<text x="517.60" y="500.70" font-size="9.2" text-anchor="middle" font-weight="normal" font-style="normal" fill="#1e1e1e" stroke="#1e1e1e" stroke-width="0.22">3000</text>
<text x="580.80" y="500.70" font-size="9.2" text-anchor="middle" font-weight="normal" font-style="normal" fill="#1e1e1e" stroke="#1e1e1e" stroke-width="0.22">5000</text>
<text x="644.00" y="500.70" font-size="9.2" text-anchor="middle" font-weight="normal" font-style="normal" fill="#1e1e1e" stroke="#1e1e1e" stroke-width="0.22">7000</text>
<text x="462.30" y="383.20" font-size="11" text-anchor="start" font-weight="bold" font-style="normal" fill="#111">l)</text>
<text x="677.50" y="500.20" font-size="9.2" text-anchor="middle" font-weight="normal" font-style="normal" fill="#1e1e1e" stroke="#1e1e1e" stroke-width="0.22">m/z</text>
<polyline fill="none" stroke="#a8a8a8" stroke-width="0.75" stroke-linejoin="round" points="493.20,489.46 493.30,488.96 493.35,488.20 493.40,487.07 493.45,485.97 493.50,485.50 493.55,485.97 493.60,487.07 493.65,488.20 493.70,488.96 493.80,489.46"/>
<polyline fill="none" stroke="#a8a8a8" stroke-width="0.75" stroke-linejoin="round" points="500.15,489.44 500.20,489.19 500.30,485.70 500.35,480.38 500.40,472.46 500.45,464.70 500.50,461.40 500.55,464.70 500.60,472.46 500.65,480.38 500.70,485.70 500.80,489.19 500.90,489.49"/>
<polyline fill="none" stroke="#a8a8a8" stroke-width="0.75" stroke-linejoin="round" points="508.15,489.44 508.20,489.22 508.30,486.04 508.35,481.19 508.40,473.97 508.45,466.91 508.50,463.90 508.55,466.91 508.60,473.97 508.65,481.19 508.70,486.04 508.80,489.22 508.90,489.49"/>
<polyline fill="none" stroke="#a8a8a8" stroke-width="0.75" stroke-linejoin="round" points="519.20,489.45 519.30,488.92 519.35,488.10 519.40,486.89 519.45,485.71 519.50,485.20 519.55,485.71 519.60,486.89 519.65,488.10 519.70,488.92 519.80,489.45"/>
<polyline fill="none" stroke="#a8a8a8" stroke-width="0.75" stroke-linejoin="round" points="524.90,489.46 525.15,489.32 525.20,489.27 525.40,488.95 525.60,488.47 525.65,488.34 525.80,488.00 525.90,487.85 526.00,487.80 526.15,487.92 526.20,488.00 526.40,488.47 526.60,488.95 526.65,489.05 526.80,489.27 526.90,489.36 527.15,489.47"/>
<polyline fill="none" stroke="#a8a8a8" stroke-width="0.75" stroke-linejoin="round" points="533.20,489.42 533.30,488.55 533.35,487.23 533.40,485.25 533.45,483.32 533.50,482.50 533.55,483.32 533.60,485.25 533.65,487.23 533.70,488.55 533.80,489.42"/>
<polyline fill="none" stroke="#a8a8a8" stroke-width="0.75" stroke-linejoin="round" points="542.15,489.43 542.20,489.19 542.30,485.79 542.35,480.60 542.40,472.88 542.45,465.32 542.50,462.10 542.55,465.32 542.60,472.88 542.65,480.60 542.70,485.79 542.80,489.19 542.90,489.48"/>
<polyline fill="none" stroke="#a8a8a8" stroke-width="0.75" stroke-linejoin="round" points="545.90,489.44 546.15,489.27 546.20,489.21 546.40,488.84 546.60,488.28 546.65,488.13 546.80,487.73 546.90,487.56 547.00,487.50 547.15,487.63 547.20,487.73 547.40,488.27 547.60,488.83 547.65,488.94 547.80,489.20 547.90,489.30 548.00,489.37 548.15,489.43"/>
<polyline fill="none" stroke="#a8a8a8" stroke-width="0.75" stroke-linejoin="round" points="550.15,489.39 550.40,489.38 550.65,489.36 550.90,489.35 551.15,489.33 551.40,489.31 551.65,489.28 551.90,488.59 552.00,488.25 552.15,487.70 552.20,487.42 552.30,485.53 552.35,483.21 552.40,479.73 552.45,476.33 552.50,474.90 552.55,476.40 552.60,479.89 552.65,483.44 552.70,485.84 552.80,487.45 552.90,487.65 553.15,487.79 553.40,487.90 553.65,488.00 553.90,488.07 554.00,488.09 554.15,488.13 554.40,488.17 554.65,488.20 554.90,488.22 555.15,488.23 555.40,488.23 555.65,488.22 555.90,488.20 556.00,488.19 556.15,488.15 556.20,488.04 556.30,486.52 556.35,484.22 556.40,480.79 556.45,477.43 556.50,476.00 556.55,477.42 556.60,480.77 556.65,484.18 556.70,486.48 556.80,487.97 556.90,488.09 557.15,488.06 557.40,488.03 557.65,488.00 557.90,487.96 558.00,487.95 558.15,487.93 558.40,487.90 558.65,487.88 558.90,487.85 559.15,487.80 559.20,487.68 559.30,486.00 559.35,483.43 559.40,479.62 559.45,475.89 559.50,474.30 559.55,475.89 559.60,479.61 559.65,483.42 559.70,485.98 559.80,487.65 559.90,487.80 560.00,487.80 560.15,487.80 560.40,487.80 560.65,487.81 560.90,487.82 561.15,487.84 561.40,487.86 561.65,487.89 561.90,487.92 562.00,487.93 562.15,487.95 562.40,487.99 562.65,488.03 562.90,488.07 563.15,488.11 563.40,488.16 563.65,488.20 563.90,488.25 564.00,488.27 564.15,487.48 564.20,486.97 564.30,482.74 564.35,476.79 564.40,468.05 564.45,459.48 564.50,455.70 564.55,459.00 564.60,467.08 564.65,475.65 564.70,481.43 564.80,485.31 564.90,485.76 565.15,486.06 565.40,486.33 565.65,486.58 565.90,486.80 566.00,486.89 566.15,487.01 566.40,487.19 566.65,487.36 566.90,487.51 567.15,487.58 567.20,487.36 567.30,483.92 567.35,478.62 567.40,470.72 567.45,462.98 567.50,459.70 567.55,462.78 567.60,470.31 567.65,478.00 567.70,483.10 567.80,486.13 567.90,485.97 568.00,485.52 568.15,485.13 568.40,485.49 568.65,485.82 568.90,486.11 569.15,486.37 569.40,486.61 569.65,486.82 569.90,487.02 570.15,487.19 570.40,487.34 570.65,487.48 570.90,487.61 571.15,487.72 571.40,487.82 571.65,487.91 571.90,487.99 572.00,488.02 572.15,488.02 572.20,487.88 572.30,485.78 572.35,482.55 572.40,477.72 572.45,473.00 572.50,471.00 572.55,473.03 572.60,477.77 572.65,482.61 572.70,485.87 572.80,488.02 572.90,488.23 573.15,488.28 573.40,488.32 573.65,488.35 573.90,488.38 574.00,488.39 574.15,488.29 574.20,487.80 574.30,480.08 574.35,469.15 574.40,453.08 574.45,437.34 574.50,430.40 574.55,436.51 574.60,451.43 574.65,466.68 574.70,476.78 574.80,482.85 574.90,483.62 575.15,484.04 575.40,484.42 575.65,484.76 575.90,485.07 576.15,485.36 576.40,485.62 576.65,485.86 576.90,486.09 577.15,486.26 577.20,486.15 577.30,484.24 577.35,481.24 577.40,476.76 577.45,472.21 577.50,470.20 577.55,471.95 577.60,476.24 577.65,480.62 577.70,483.52 577.80,485.24 577.90,485.14 578.15,485.10 578.40,485.45 578.65,485.77 578.90,486.06 579.00,486.16 579.15,486.31 579.40,486.54 579.65,486.75 579.90,486.93 580.00,487.00 580.15,487.10 580.40,487.25 580.65,487.38 580.90,487.51 581.15,487.62 581.40,487.72 581.65,487.81 581.90,487.89 582.15,487.81 582.20,487.17 582.30,478.05 582.35,464.14 582.40,443.42 582.45,422.63 582.50,413.50 582.55,421.66 582.60,441.47 582.65,461.72 582.70,475.16 582.80,483.32 582.90,483.13 583.15,482.50 583.40,483.01 583.65,483.47 583.90,483.90 584.15,484.29 584.40,484.65 584.65,484.99 584.90,485.29 585.15,485.55 585.20,485.49 585.30,484.08 585.35,481.81 585.40,478.42 585.45,475.09 585.50,473.70 585.55,475.19 585.60,478.61 585.65,482.10 585.70,484.47 585.80,486.08 585.90,486.29 586.00,486.38 586.15,486.50 586.40,486.69 586.65,486.87 586.90,487.03 587.15,487.18 587.40,487.32 587.65,487.44 587.90,487.56 588.15,487.67 588.40,487.77 588.65,487.87 588.90,487.96 589.15,488.04 589.40,488.11 589.65,488.19 589.90,488.25 590.15,488.31 590.40,488.37 590.65,488.42 590.90,488.47 591.00,488.49 591.15,488.03 591.20,487.29 591.30,481.98 591.35,474.71 591.40,464.08 591.45,453.67 591.50,449.00 591.55,452.85 591.60,462.45 591.65,472.26 591.70,478.71 591.80,483.39 591.90,483.96 592.00,484.14 592.15,484.38 592.40,484.76 592.65,485.11 592.90,485.43 593.15,485.73 593.40,486.00 593.65,486.25 593.90,486.49 594.15,486.70 594.40,486.90 594.65,487.08 594.90,487.25 595.15,487.38 595.20,487.29 595.30,485.70 595.35,483.21 595.40,479.48 595.45,475.84 595.50,474.30 595.55,475.72 595.60,479.26 595.65,482.87 595.70,485.25 595.80,486.62 595.90,486.48 596.15,485.98 596.40,486.31 596.65,486.61 596.90,486.88 597.00,486.98 597.15,487.13 597.40,487.34 597.65,487.54 597.90,487.71 598.00,487.78 598.15,487.87 598.40,488.01 598.65,488.12 598.80,488.16 598.90,488.15 599.15,487.87 599.20,487.75 599.40,486.95 599.60,485.71 599.65,485.37 599.80,484.49 599.90,484.11 600.00,484.00 600.15,484.36 600.20,484.60 600.40,485.93 600.60,487.29 600.65,487.57 600.80,488.21 600.90,488.49 601.15,488.83 601.20,488.86 601.40,488.94 601.65,488.99 601.90,489.02 602.15,489.06 602.40,489.09 602.65,489.11 602.90,489.14 603.00,489.15 603.15,489.16 603.40,489.18 603.65,489.20 603.90,489.22 604.00,489.23 604.15,489.20 604.20,489.07 604.30,487.16 604.35,483.91 604.40,479.23 604.45,474.64 604.50,472.50 604.55,473.98 604.60,477.91 604.65,481.92 604.70,484.51 604.80,485.77 604.90,485.27 605.15,485.61 605.40,485.91 605.65,486.19 605.90,486.45 606.15,486.69 606.40,486.91 606.65,487.11 606.90,487.29 607.15,487.47 607.40,487.62 607.65,487.76 607.80,487.81 607.90,487.82 608.15,487.67 608.20,487.59 608.40,487.04 608.60,486.17 608.65,485.94 608.80,485.32 608.90,485.07 609.00,485.00 609.15,485.28 609.20,485.46 609.40,486.46 609.60,487.47 609.65,487.68 609.80,488.16 609.90,488.38 610.15,488.65 610.20,488.68 610.40,488.76 610.65,488.82 610.90,488.87 611.15,488.92 611.40,488.96 611.65,489.00 611.90,489.03 612.15,489.06 612.40,489.09 612.65,489.12 612.90,489.15 613.15,489.17 613.40,489.19 613.65,489.21 613.90,489.23 614.15,489.22 614.20,489.10 614.30,486.93 614.35,484.14 614.40,480.09 614.45,476.13 614.50,474.30 614.55,475.64 614.60,479.10 614.65,482.65 614.70,484.96 614.80,486.13 614.90,486.38 615.00,486.49 615.15,486.63 615.40,486.86 615.65,487.06 615.90,487.25 616.00,487.32 616.15,487.42 616.40,487.57 616.50,487.62 616.65,487.66 616.90,487.62 617.00,487.54 617.15,487.33 617.25,487.12 617.40,486.72 617.50,486.43 617.65,485.99 617.75,485.74 617.90,485.52 618.00,485.50 618.15,485.68 618.25,485.92 618.40,486.42 618.50,486.79 618.65,487.34 618.75,487.67 618.90,488.07 619.00,488.27 619.15,488.49 619.40,488.70 619.50,488.75 619.65,488.80 619.90,488.86 620.00,488.88 620.15,488.90 620.40,488.95 620.65,488.98 620.90,489.02 621.00,489.03 621.15,489.05 621.40,489.08 621.65,489.11 621.90,488.80 622.15,487.97 622.20,487.73 622.30,486.38 622.35,484.66 622.40,482.17 622.45,479.93 622.50,479.00 622.55,480.00 622.60,482.32 622.65,484.67 622.70,486.27 622.80,487.36 622.90,487.51 623.15,487.67 623.40,487.80 623.65,487.93 623.90,488.05 624.15,488.15 624.40,488.25 624.65,488.34 624.90,488.42 625.15,488.49 625.40,488.55 625.50,488.56 625.65,488.56 625.90,488.47 626.00,488.38 626.15,488.17 626.25,487.98 626.40,487.62 626.50,487.36 626.65,486.96 626.75,486.74 626.90,486.53 627.00,486.50 627.15,486.62 627.25,486.81 627.40,487.20 627.50,487.50 627.65,487.94 627.75,488.20 627.90,488.51 628.00,488.67 628.15,488.83 628.40,488.98 628.50,489.00 628.65,489.03 628.90,489.05 629.15,489.07 629.40,489.08 629.65,489.09 629.90,489.09 630.00,489.10 630.15,489.10 630.40,489.08 630.50,489.06 630.65,488.99 630.90,488.62 631.10,487.94 631.15,487.71 631.30,486.92 631.40,486.39 631.50,485.93 631.65,485.53 631.70,485.50 631.90,485.92 632.10,486.91 632.15,487.18 632.30,487.92 632.40,488.31 632.50,488.59 632.65,488.86 632.90,489.03 633.00,489.05 633.15,489.05 633.40,489.05 633.65,489.04 633.90,489.03 634.15,489.01 634.40,489.00 634.65,488.99 634.90,488.97 635.00,488.97 635.15,488.96 635.40,488.94 635.65,488.93 635.90,488.91 636.15,488.89 636.40,488.86 636.50,488.84 636.65,488.80 636.90,488.64 637.00,488.52 637.15,488.29 637.25,488.08 637.40,487.70 637.50,487.43 637.65,487.02 637.75,486.78 637.90,486.55 638.00,486.50 638.15,486.59 638.25,486.74 638.40,487.08 638.50,487.34 638.65,487.73 638.75,487.96 638.90,488.23 639.00,488.36 639.15,488.49 639.40,488.59 639.50,488.60 639.65,488.60 639.90,488.59 640.00,488.58 640.15,488.57 640.40,488.54 640.65,488.52 640.90,488.50 641.15,488.48 641.40,488.46 641.65,488.43 641.90,488.41 642.15,488.39 642.40,488.37 642.65,488.35 642.90,488.33 643.15,488.31 643.40,488.28 643.50,488.27 643.65,488.24 643.90,488.15 644.00,488.08 644.15,487.96 644.25,487.84 644.40,487.64 644.50,487.50 644.65,487.28 644.75,487.15 644.90,487.03 645.00,487.00 645.15,487.04 645.25,487.12 645.40,487.30 645.50,487.43 645.65,487.63 645.75,487.75 645.90,487.89 646.00,487.95 646.15,488.02 646.40,488.07 646.50,488.07 646.65,488.08 646.90,488.07 647.15,488.06 647.40,488.05 647.65,488.04 647.90,488.03 648.15,488.03 648.40,488.02 648.65,488.01 648.90,488.01 649.15,488.01 649.40,488.00 649.65,488.00 649.90,488.00 650.00,488.00 650.15,488.00 650.40,488.00 650.50,488.00 650.65,487.99 650.90,487.96 651.00,487.94 651.15,487.89 651.25,487.84 651.40,487.76 651.50,487.70 651.65,487.61 651.75,487.56 651.90,487.51 652.00,487.50 652.15,487.53 652.25,487.57 652.40,487.66 652.50,487.73 652.65,487.82 652.75,487.88 652.90,487.96 653.00,487.99 653.15,488.04 653.40,488.07 653.50,488.08 653.65,488.10 653.90,488.11 654.15,488.12 654.40,488.14 654.65,488.15 654.90,488.17 655.00,488.18 655.15,488.19 655.40,488.20 655.65,488.22 655.90,488.24 656.15,488.26 656.40,488.28 656.65,488.30 656.90,488.32 657.15,488.34 657.40,488.36 657.65,488.38 657.90,488.40 658.15,488.42 658.20,488.42 658.40,488.43 658.65,488.42 658.80,488.40 658.90,488.38 659.10,488.32 659.15,488.30 659.40,488.18 659.65,488.06 659.70,488.04 659.90,488.00 660.00,488.00 660.15,488.03 660.30,488.10 660.40,488.15 660.60,488.29 660.65,488.32 660.90,488.48 661.15,488.60 661.20,488.62 661.40,488.68 661.65,488.73 661.80,488.75 661.90,488.76 662.15,488.78 662.40,488.80 662.65,488.83 662.90,488.85 663.15,488.87 663.40,488.89 663.65,488.91 663.90,488.93 664.15,488.95 664.40,488.97 664.65,488.99 664.90,489.01 665.00,489.01 665.15,489.02 665.40,489.04 665.65,489.06 665.90,489.08 666.15,489.09 666.40,489.11 666.65,489.13 666.90,489.14 667.15,489.16 667.40,489.17 667.65,489.18 667.90,489.20 668.15,489.21 668.40,489.22 668.65,489.24 668.90,489.25 669.15,489.26 669.40,489.27 669.65,489.28 669.90,489.29 670.00,489.30 670.15,489.30 670.40,489.31 670.65,489.32 670.90,489.33 671.15,489.34 671.40,489.35 671.65,489.36 671.90,489.36 672.15,489.37 672.40,489.38 672.65,489.38"/>
<line x1="500.50" y1="461.90" x2="500.50" y2="489.50" stroke="#a6a6a6" stroke-width="0.9"/>
<line x1="508.50" y1="464.40" x2="508.50" y2="489.50" stroke="#a6a6a6" stroke-width="0.9"/>
<line x1="519.50" y1="485.70" x2="519.50" y2="489.50" stroke="#a6a6a6" stroke-width="0.9"/>
<line x1="533.50" y1="483.00" x2="533.50" y2="489.50" stroke="#a6a6a6" stroke-width="0.9"/>
<line x1="542.50" y1="462.60" x2="542.50" y2="489.50" stroke="#a6a6a6" stroke-width="0.9"/>
<line x1="552.50" y1="475.40" x2="552.50" y2="489.50" stroke="#a6a6a6" stroke-width="0.9"/>
<line x1="556.50" y1="476.50" x2="556.50" y2="489.50" stroke="#a6a6a6" stroke-width="0.9"/>
<line x1="559.50" y1="474.80" x2="559.50" y2="489.50" stroke="#a6a6a6" stroke-width="0.9"/>
<line x1="564.50" y1="456.20" x2="564.50" y2="489.50" stroke="#a6a6a6" stroke-width="0.9"/>
<line x1="567.50" y1="460.20" x2="567.50" y2="489.50" stroke="#a6a6a6" stroke-width="0.9"/>
<line x1="572.50" y1="471.50" x2="572.50" y2="489.50" stroke="#a6a6a6" stroke-width="0.9"/>
<line x1="574.50" y1="430.90" x2="574.50" y2="489.50" stroke="#a6a6a6" stroke-width="0.9"/>
<line x1="577.50" y1="470.70" x2="577.50" y2="489.50" stroke="#a6a6a6" stroke-width="0.9"/>
<line x1="582.50" y1="414.00" x2="582.50" y2="489.50" stroke="#a6a6a6" stroke-width="0.9"/>
<line x1="585.50" y1="474.20" x2="585.50" y2="489.50" stroke="#a6a6a6" stroke-width="0.9"/>
<line x1="591.50" y1="449.50" x2="591.50" y2="489.50" stroke="#a6a6a6" stroke-width="0.9"/>
<line x1="595.50" y1="474.80" x2="595.50" y2="489.50" stroke="#a6a6a6" stroke-width="0.9"/>
<line x1="604.50" y1="473.00" x2="604.50" y2="489.50" stroke="#a6a6a6" stroke-width="0.9"/>
<line x1="614.50" y1="474.80" x2="614.50" y2="489.50" stroke="#a6a6a6" stroke-width="0.9"/>
<line x1="622.50" y1="479.50" x2="622.50" y2="489.50" stroke="#a6a6a6" stroke-width="0.9"/>
<circle cx="582.80" cy="409.30" r="2.20" fill="#111" stroke="#111" stroke-width="0.9"/>
<circle cx="575.20" cy="426.20" r="2.20" fill="#111" stroke="#111" stroke-width="0.9"/>
<circle cx="591.20" cy="439.70" r="2.20" fill="#111" stroke="#111" stroke-width="0.9"/>
<circle cx="564.20" cy="452.00" r="2.20" fill="#a6a6a6" stroke="#111" stroke-width="0.9"/>
<circle cx="572.20" cy="467.00" r="2.20" fill="#a6a6a6" stroke="#111" stroke-width="0.9"/>
<circle cx="555.60" cy="471.60" r="2.20" fill="#a6a6a6" stroke="#111" stroke-width="0.9"/>
<circle cx="596.80" cy="469.00" r="2.20" fill="#a6a6a6" stroke="#111" stroke-width="0.9"/>
<circle cx="596.80" cy="464.40" r="2.20" fill="#a6a6a6" stroke="#111" stroke-width="0.9"/>
<circle cx="605.40" cy="463.70" r="2.20" fill="#a6a6a6" stroke="#111" stroke-width="0.9"/>
<circle cx="605.40" cy="459.10" r="2.20" fill="#a6a6a6" stroke="#111" stroke-width="0.9"/>
<text transform="translate(523.00,410.30) scale(0.915,1)" font-size="8.2" text-anchor="middle" font-weight="normal" font-style="normal" fill="#1e1e1e" stroke="#1e1e1e" stroke-width="0.22">JAM-A</text>
<text transform="translate(523.00,419.10) scale(0.915,1)" font-size="8.2" text-anchor="middle" font-weight="normal" font-style="normal" fill="#1e1e1e" stroke="#1e1e1e" stroke-width="0.22">monomer</text>
<text transform="translate(523.00,427.70) scale(0.915,1)" font-size="8.2" text-anchor="middle" font-weight="normal" font-style="normal" fill="#1e1e1e" stroke="#1e1e1e" stroke-width="0.22">and dimer</text>
<path d="M497.20,434.50 Q497.60,433.30 499.70,433.30 L519.30,433.30 Q520.90,433.30 521.30,431.90 Q521.70,433.30 523.30,433.30 L542.10,433.30 Q544.20,433.30 544.60,434.50" fill="none" stroke="#2a2a2a" stroke-width="0.95"/>
<text transform="translate(504.50,446.70) scale(0.915,1)" font-size="8.2" text-anchor="middle" font-weight="normal" font-style="normal" fill="#1e1e1e" stroke="#1e1e1e" stroke-width="0.22">M10+</text>
<text transform="translate(504.30,455.70) scale(0.915,1)" font-size="8.2" text-anchor="middle" font-weight="normal" font-style="normal" fill="#1e1e1e" stroke="#1e1e1e" stroke-width="0.22">2455.32</text>
<text transform="translate(539.60,446.70) scale(0.915,1)" font-size="8.2" text-anchor="middle" font-weight="normal" font-style="normal" fill="#1e1e1e" stroke="#1e1e1e" stroke-width="0.22">D13+</text>
<text transform="translate(539.70,455.70) scale(0.915,1)" font-size="8.2" text-anchor="middle" font-weight="normal" font-style="normal" fill="#1e1e1e" stroke="#1e1e1e" stroke-width="0.22">3776.92</text>
<text transform="translate(584.60,394.70) scale(0.915,1)" font-size="8.2" text-anchor="middle" font-weight="normal" font-style="normal" fill="#1e1e1e" stroke="#1e1e1e" stroke-width="0.22">19+</text>
<text transform="translate(584.70,404.30) scale(0.915,1)" font-size="8.2" text-anchor="middle" font-weight="normal" font-style="normal" fill="#1e1e1e" stroke="#1e1e1e" stroke-width="0.22">5064.71</text>
<text x="645.50" y="434.10" font-size="7.5" text-anchor="middle" font-weight="bold" font-style="italic" fill="#1e1e1e" stroke="#1e1e1e" stroke-width="0.3">Almost no 1:3 and</text>
<text x="645.50" y="443.30" font-size="7.5" text-anchor="middle" font-weight="bold" font-style="italic" fill="#1e1e1e" stroke="#1e1e1e" stroke-width="0.3">1:4 Fab:Ag</text>
<text x="645.50" y="452.30" font-size="7.5" text-anchor="middle" font-weight="bold" font-style="italic" fill="#1e1e1e" stroke="#1e1e1e" stroke-width="0.3">complexes</text>
<path d="M612.20,461.80 Q612.60,459.20 616.20,459.20 L641.60,459.20 Q643.20,459.20 643.60,456.40 Q644.00,459.20 645.60,459.20 L671.70,459.20 Q675.30,459.20 675.70,461.80" fill="none" stroke="#2a2a2a" stroke-width="0.95"/>
<circle cx="486.20" cy="519.60" r="2.20" fill="#fff" stroke="#111" stroke-width="0.9"/>
<text x="495.30" y="522.90" font-size="9.3" text-anchor="start" font-weight="normal" font-style="normal" fill="#1e1e1e" stroke="#1e1e1e" stroke-width="0.22">1:0 hzFab:Ag</text>
<circle cx="486.20" cy="538.10" r="2.20" fill="#a6a6a6" stroke="#111" stroke-width="0.9"/>
<text x="495.30" y="541.40" font-size="9.3" text-anchor="start" font-weight="normal" font-style="normal" fill="#1e1e1e" stroke="#1e1e1e" stroke-width="0.22">1:1 hzFab:Ag</text>
<circle cx="598.70" cy="521.90" r="2.20" fill="#a6a6a6" stroke="#111" stroke-width="0.9"/>
<circle cx="598.70" cy="517.30" r="2.20" fill="#a6a6a6" stroke="#111" stroke-width="0.9"/>
<text x="609.50" y="522.90" font-size="9.3" text-anchor="start" font-weight="normal" font-style="normal" fill="#1e1e1e" stroke="#1e1e1e" stroke-width="0.22">2:2 hzFab:Ag</text>
<circle cx="598.70" cy="538.10" r="2.20" fill="#111" stroke="#111" stroke-width="0.9"/>
<text x="609.50" y="541.40" font-size="9.3" text-anchor="start" font-weight="normal" font-style="normal" fill="#1e1e1e" stroke="#1e1e1e" stroke-width="0.22">1:2 hzFab:Ag</text>
</g>
</svg>
</body></html>
